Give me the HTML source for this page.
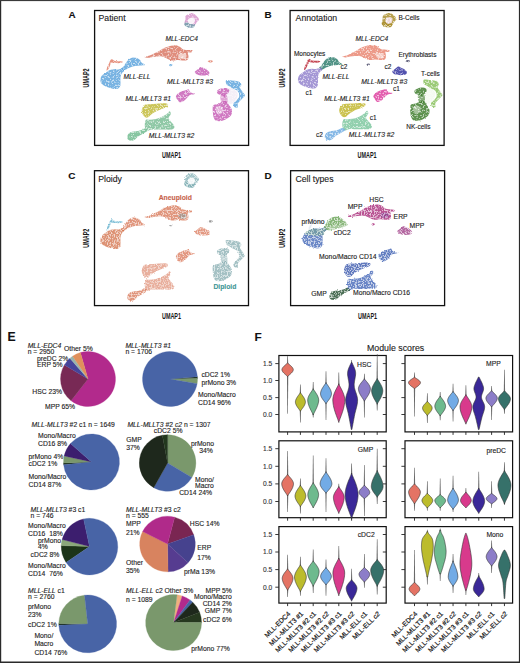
<!DOCTYPE html>
<html><head><meta charset="utf-8"><style>html,body{margin:0;padding:0;background:#fff;}body{width:520px;height:663px;overflow:hidden;}svg{display:block;}</style></head><body>
<svg width="520" height="663" viewBox="0 0 520 663" font-family='"Liberation Sans", sans-serif'>
<rect x="0" y="0" width="520" height="663" fill="#fff"/>
<defs><filter id="speck" x="-10%" y="-10%" width="120%" height="120%" color-interpolation-filters="sRGB">
<feTurbulence type="fractalNoise" baseFrequency="0.6" numOctaves="2" seed="7" result="n"/>
<feDisplacementMap in="SourceGraphic" in2="n" scale="2.0" xChannelSelector="R" yChannelSelector="G" result="d"/>
<feColorMatrix in="n" type="matrix" values="0 0 0 0 1  0 0 0 0 1  0 0 0 0 1  -6 0 0 0 2.95" result="w0"/>
<feComponentTransfer in="w0" result="w"><feFuncA type="table" tableValues="0 0.75"/></feComponentTransfer>
<feComposite in="w" in2="d" operator="in" result="wm"/>
<feMerge><feMergeNode in="d"/><feMergeNode in="wm"/></feMerge>
</filter>
<filter id="speck2" x="-10%" y="-10%" width="120%" height="120%" color-interpolation-filters="sRGB">
<feTurbulence type="fractalNoise" baseFrequency="0.7" numOctaves="2" seed="3" result="n"/>
<feDisplacementMap in="SourceGraphic" in2="n" scale="2.4" xChannelSelector="R" yChannelSelector="G" result="d"/>
<feColorMatrix in="n" type="matrix" values="0 0 0 0 1  0 0 0 0 1  0 0 0 0 1  -6 0 0 0 3.2" result="w0"/>
<feComponentTransfer in="w0" result="w"><feFuncA type="table" tableValues="0 0.85"/></feComponentTransfer>
<feComposite in="w" in2="d" operator="in" result="wm"/>
<feMerge><feMergeNode in="d"/><feMergeNode in="wm"/></feMerge>
</filter></defs>
<path d="M186.00,15.50 C187.25,14.30 190.67,13.13 192.50,13.30 C194.33,13.47 195.92,15.47 197.00,16.50 C198.08,17.53 199.00,18.58 199.00,19.50 C199.00,20.42 197.67,21.08 197.00,22.00 C196.33,22.92 195.75,24.08 195.00,25.00 C194.25,25.92 193.67,27.17 192.50,27.50 C191.33,27.83 189.33,27.50 188.00,27.00 C186.67,26.50 185.00,25.58 184.50,24.50 C184.00,23.42 184.75,22.00 185.00,20.50 C185.25,19.00 184.75,16.70 186.00,15.50Z" fill="#c86cb8" fill-opacity="0.6" filter="url(#speck)"/>
<path d="M184.50,23.00 C185.03,22.50 186.58,22.25 188.00,22.50 C189.42,22.75 191.83,24.25 193.00,24.50 C194.17,24.75 194.92,23.50 195.00,24.00 C195.08,24.50 194.67,26.95 193.50,27.50 C192.33,28.05 189.45,27.63 188.00,27.30 C186.55,26.97 185.38,26.22 184.80,25.50 C184.22,24.78 183.97,23.50 184.50,23.00Z" fill="#5e9ea4" fill-opacity="0.7" filter="url(#speck)"/>
<path d="M188.50,19.00 C189.25,18.33 191.42,17.33 192.50,17.50 C193.58,17.67 194.83,19.00 195.00,20.00 C195.17,21.00 194.42,22.83 193.50,23.50 C192.58,24.17 190.42,24.33 189.50,24.00 C188.58,23.67 188.17,22.33 188.00,21.50 C187.83,20.67 187.75,19.67 188.50,19.00Z" fill="#fff" fill-opacity="0.85"/>
<path d="M144.60,57.00 C144.98,56.58 148.67,55.97 150.40,55.30 C152.13,54.63 153.47,53.77 155.00,53.00 C156.53,52.23 158.25,51.47 159.60,50.70 C160.95,49.93 161.75,49.07 163.10,48.40 C164.45,47.73 166.17,47.18 167.70,46.70 C169.23,46.22 170.77,45.70 172.30,45.50 C173.83,45.30 175.55,45.22 176.90,45.50 C178.25,45.78 179.33,46.53 180.40,47.20 C181.47,47.87 181.95,49.02 183.30,49.50 C184.65,49.98 187.07,49.90 188.50,50.10 C189.93,50.30 191.43,50.32 191.90,50.70 C192.37,51.08 191.97,52.12 191.30,52.40 C190.63,52.68 188.37,51.72 187.90,52.40 C187.43,53.08 188.60,55.25 188.50,56.50 C188.40,57.75 188.27,59.23 187.30,59.90 C186.33,60.57 184.23,60.50 182.70,60.50 C181.17,60.50 179.63,59.90 178.10,59.90 C176.57,59.90 174.85,60.50 173.50,60.50 C172.15,60.50 171.17,60.28 170.00,59.90 C168.83,59.52 167.85,58.77 166.50,58.20 C165.15,57.63 163.43,56.78 161.90,56.50 C160.37,56.22 158.83,56.42 157.30,56.50 C155.77,56.58 154.23,56.78 152.70,57.00 C151.17,57.22 149.45,57.80 148.10,57.80 C146.75,57.80 144.22,57.42 144.60,57.00Z" fill="#d8735f" fill-opacity="0.82" filter="url(#speck)"/>
<path d="M179.00,54.00 C179.92,53.50 182.75,53.25 184.00,53.50 C185.25,53.75 186.33,54.67 186.50,55.50 C186.67,56.33 186.00,58.00 185.00,58.50 C184.00,59.00 181.58,58.83 180.50,58.50 C179.42,58.17 178.75,57.25 178.50,56.50 C178.25,55.75 178.08,54.50 179.00,54.00Z" fill="#fff" fill-opacity="0.6"/>
<path d="M106.50,70.50 C106.33,70.08 107.08,67.67 107.50,66.50 C107.92,65.33 108.50,64.58 109.00,63.50 C109.50,62.42 110.00,60.70 110.50,60.00 C111.00,59.30 111.42,59.22 112.00,59.30 C112.58,59.38 113.33,60.18 114.00,60.50 C114.67,60.82 114.83,61.08 116.00,61.20 C117.17,61.32 119.87,61.07 121.00,61.20 C122.13,61.33 122.80,61.73 122.80,62.00 C122.80,62.27 121.80,62.60 121.00,62.80 C120.20,63.00 119.17,63.20 118.00,63.20 C116.83,63.20 115.08,62.92 114.00,62.80 C112.92,62.68 112.12,62.17 111.50,62.50 C110.88,62.83 110.80,63.72 110.30,64.80 C109.80,65.88 109.13,68.05 108.50,69.00 C107.87,69.95 106.67,70.92 106.50,70.50Z" fill="#e07a64" fill-opacity="0.82" filter="url(#speck)"/>
<path d="M121.50,68.50 C121.67,67.67 123.17,67.08 124.00,66.00 C124.83,64.92 125.58,63.17 126.50,62.00 C127.42,60.83 128.42,59.75 129.50,59.00 C130.58,58.25 131.75,57.67 133.00,57.50 C134.25,57.33 135.83,57.58 137.00,58.00 C138.17,58.42 139.25,59.25 140.00,60.00 C140.75,60.75 140.67,61.67 141.50,62.50 C142.33,63.33 145.25,64.50 145.00,65.00 C144.75,65.50 141.67,65.33 140.00,65.50 C138.33,65.67 136.67,65.67 135.00,66.00 C133.33,66.33 131.67,66.83 130.00,67.50 C128.33,68.17 126.17,69.42 125.00,70.00 C123.83,70.58 123.58,71.25 123.00,71.00 C122.42,70.75 121.33,69.33 121.50,68.50Z" fill="#5aa2dc" fill-opacity="0.82" filter="url(#speck)"/>
<path d="M100.50,79.00 C100.70,77.83 101.08,76.58 102.00,75.50 C102.92,74.42 104.67,73.42 106.00,72.50 C107.33,71.58 108.58,70.55 110.00,70.00 C111.42,69.45 113.08,69.28 114.50,69.20 C115.92,69.12 117.33,69.62 118.50,69.50 C119.67,69.38 120.67,68.75 121.50,68.50 C122.33,68.25 123.00,67.67 123.50,68.00 C124.00,68.33 124.75,69.67 124.50,70.50 C124.25,71.33 122.67,71.92 122.00,73.00 C121.33,74.08 120.75,75.50 120.50,77.00 C120.25,78.50 120.58,80.42 120.50,82.00 C120.42,83.58 120.58,85.33 120.00,86.50 C119.42,87.67 118.33,88.67 117.00,89.00 C115.67,89.33 113.67,88.83 112.00,88.50 C110.33,88.17 108.50,87.58 107.00,87.00 C105.50,86.42 104.03,85.75 103.00,85.00 C101.97,84.25 101.22,83.50 100.80,82.50 C100.38,81.50 100.30,80.17 100.50,79.00Z" fill="#5aa2dc" fill-opacity="0.82" filter="url(#speck)"/>
<path d="M194.80,71.80 C195.05,71.08 196.55,70.30 197.50,69.50 C198.45,68.70 199.58,67.28 200.50,67.00 C201.42,66.72 202.00,67.38 203.00,67.80 C204.00,68.22 205.43,68.72 206.50,69.50 C207.57,70.28 209.15,71.58 209.40,72.50 C209.65,73.42 209.07,74.48 208.00,75.00 C206.93,75.52 204.58,75.60 203.00,75.60 C201.42,75.60 199.67,75.30 198.50,75.00 C197.33,74.70 196.62,74.33 196.00,73.80 C195.38,73.27 194.55,72.52 194.80,71.80Z" fill="#c65cb4" fill-opacity="0.82" filter="url(#speck)"/>
<path d="M176.30,95.60 C176.80,94.78 177.92,93.37 179.00,92.60 C180.08,91.83 181.55,91.45 182.80,91.00 C184.05,90.55 185.52,90.17 186.50,89.90 C187.48,89.63 188.15,89.13 188.70,89.40 C189.25,89.67 189.27,90.92 189.80,91.50 C190.33,92.08 191.05,92.58 191.90,92.90 C192.75,93.22 194.63,93.13 194.90,93.40 C195.17,93.67 194.27,94.27 193.50,94.50 C192.73,94.73 191.18,94.48 190.30,94.80 C189.42,95.12 188.92,95.68 188.20,96.40 C187.48,97.12 186.82,98.30 186.00,99.10 C185.18,99.90 184.20,100.67 183.30,101.20 C182.40,101.73 181.32,102.20 180.60,102.30 C179.88,102.40 179.53,102.25 179.00,101.80 C178.47,101.35 177.90,100.32 177.40,99.60 C176.90,98.88 176.18,98.17 176.00,97.50 C175.82,96.83 175.80,96.42 176.30,95.60Z" fill="#c65cb4" fill-opacity="0.82" filter="url(#speck)"/>
<path d="M226.20,80.20 C227.27,79.53 230.77,80.22 233.00,80.50 C235.23,80.78 238.22,81.15 239.60,81.90 C240.98,82.65 241.23,83.98 241.30,85.00 C241.37,86.02 239.57,86.57 240.00,88.00 C240.43,89.43 243.10,92.30 243.90,93.60 C244.70,94.90 245.08,94.93 244.80,95.80 C244.52,96.67 243.35,97.52 242.20,98.80 C241.05,100.08 238.62,102.07 237.90,103.50 C237.18,104.93 238.48,106.82 237.90,107.40 C237.32,107.98 235.13,107.65 234.40,107.00 C233.67,106.35 233.22,104.50 233.50,103.50 C233.78,102.50 235.15,102.15 236.10,101.00 C237.05,99.85 238.90,98.20 239.20,96.60 C239.50,95.00 238.85,92.70 237.90,91.40 C236.95,90.10 234.95,89.67 233.50,88.80 C232.05,87.93 230.35,86.92 229.20,86.20 C228.05,85.48 227.10,85.50 226.60,84.50 C226.10,83.50 225.13,80.87 226.20,80.20Z" fill="#5aa2dc" fill-opacity="0.82" filter="url(#speck)"/>
<path d="M229.00,88.00 C230.17,87.75 232.58,88.67 234.00,89.50 C235.42,90.33 237.00,91.58 237.50,93.00 C238.00,94.42 237.58,96.42 237.00,98.00 C236.42,99.58 235.17,101.50 234.00,102.50 C232.83,103.50 231.33,104.25 230.00,104.00 C228.67,103.75 226.75,102.33 226.00,101.00 C225.25,99.67 225.33,97.67 225.50,96.00 C225.67,94.33 226.42,92.33 227.00,91.00 C227.58,89.67 227.83,88.25 229.00,88.00Z" fill="#ece4f2" fill-opacity="0.6" filter="url(#speck)"/>
<path d="M217.10,91.00 C217.53,90.20 218.65,89.30 220.10,88.80 C221.55,88.30 224.28,87.78 225.80,88.00 C227.32,88.22 228.85,89.17 229.20,90.10 C229.55,91.03 228.55,92.80 227.90,93.60 C227.25,94.40 225.80,94.18 225.30,94.90 C224.80,95.62 225.25,97.75 224.90,97.90 C224.55,98.05 224.00,96.30 223.20,95.80 C222.40,95.30 221.05,95.27 220.10,94.90 C219.15,94.53 218.00,94.25 217.50,93.60 C217.00,92.95 216.67,91.80 217.10,91.00Z" fill="#c65cb4" fill-opacity="0.82" filter="url(#speck)"/>
<path d="M221.00,95.00 C221.92,94.25 224.92,93.83 226.00,94.50 C227.08,95.17 227.42,97.58 227.50,99.00 C227.58,100.42 227.42,102.33 226.50,103.00 C225.58,103.67 223.00,103.67 222.00,103.00 C221.00,102.33 220.67,100.33 220.50,99.00 C220.33,97.67 220.08,95.75 221.00,95.00Z" fill="#c65cb4" fill-opacity="0.55" filter="url(#speck)"/>
<path d="M213.20,105.30 C214.07,104.08 216.48,104.58 218.00,104.00 C219.52,103.42 221.00,102.30 222.30,101.80 C223.60,101.30 224.65,100.42 225.80,101.00 C226.95,101.58 228.20,103.87 229.20,105.30 C230.20,106.73 231.43,108.02 231.80,109.60 C232.17,111.18 232.12,113.35 231.40,114.80 C230.68,116.25 229.02,117.30 227.50,118.30 C225.98,119.30 224.18,120.38 222.30,120.80 C220.42,121.22 217.63,121.37 216.20,120.80 C214.77,120.23 214.27,118.98 213.70,117.40 C213.13,115.82 212.88,113.32 212.80,111.30 C212.72,109.28 212.33,106.52 213.20,105.30Z" fill="#c65cb4" fill-opacity="0.82" filter="url(#speck)"/>
<path d="M215.50,108.00 C215.83,106.67 218.25,105.92 219.50,106.00 C220.75,106.08 222.58,107.33 223.00,108.50 C223.42,109.67 222.92,112.08 222.00,113.00 C221.08,113.92 218.58,114.83 217.50,114.00 C216.42,113.17 215.17,109.33 215.50,108.00Z" fill="#f4e8f2" fill-opacity="0.55" filter="url(#speck)"/>
<path d="M142.50,107.70 C143.02,106.73 143.55,105.38 144.80,104.80 C146.05,104.22 147.98,104.38 150.00,104.20 C152.02,104.02 154.60,103.85 156.90,103.70 C159.20,103.55 161.97,103.22 163.80,103.30 C165.63,103.38 167.32,103.67 167.90,104.20 C168.48,104.73 167.98,105.82 167.30,106.50 C166.62,107.18 165.15,107.72 163.80,108.30 C162.45,108.88 160.73,109.33 159.20,110.00 C157.67,110.67 155.93,111.53 154.60,112.30 C153.27,113.07 152.35,113.73 151.20,114.60 C150.05,115.47 148.77,117.12 147.70,117.50 C146.63,117.88 145.67,117.48 144.80,116.90 C143.93,116.32 143.02,115.05 142.50,114.00 C141.98,112.95 141.70,111.65 141.70,110.60 C141.70,109.55 141.98,108.67 142.50,107.70Z" fill="#c0b834" fill-opacity="0.82" filter="url(#speck)"/>
<path d="M146.00,119.80 C146.87,119.03 148.57,119.90 150.00,119.80 C151.43,119.70 153.07,119.48 154.60,119.20 C156.13,118.92 157.67,118.67 159.20,118.10 C160.73,117.53 162.45,116.57 163.80,115.80 C165.15,115.03 166.33,114.27 167.30,113.50 C168.27,112.73 169.02,111.12 169.60,111.20 C170.18,111.28 170.98,112.85 170.80,114.00 C170.62,115.15 168.50,116.85 168.50,118.10 C168.50,119.35 169.93,120.35 170.80,121.50 C171.67,122.65 173.13,123.93 173.70,125.00 C174.27,126.07 174.68,127.13 174.20,127.90 C173.72,128.67 172.53,129.32 170.80,129.60 C169.07,129.88 166.12,129.60 163.80,129.60 C161.48,129.60 159.00,129.60 156.90,129.60 C154.80,129.60 152.73,129.40 151.20,129.60 C149.67,129.80 148.67,130.98 147.70,130.80 C146.73,130.62 145.88,129.57 145.40,128.50 C144.92,127.43 144.70,125.85 144.80,124.40 C144.90,122.95 145.13,120.57 146.00,119.80Z" fill="#76bc92" fill-opacity="0.82" filter="url(#speck)"/>
<path d="M147.70,130.50 C147.73,131.17 146.03,131.83 145.00,132.50 C143.97,133.17 142.67,133.83 141.50,134.50 C140.33,135.17 139.08,135.67 138.00,136.50 C136.92,137.33 136.08,138.78 135.00,139.50 C133.92,140.22 132.58,140.72 131.50,140.80 C130.42,140.88 129.20,140.55 128.50,140.00 C127.80,139.45 127.38,138.42 127.30,137.50 C127.22,136.58 127.47,135.37 128.00,134.50 C128.53,133.63 129.50,132.83 130.50,132.30 C131.50,131.77 132.75,131.52 134.00,131.30 C135.25,131.08 136.75,131.22 138.00,131.00 C139.25,130.78 140.37,130.42 141.50,130.00 C142.63,129.58 143.77,128.42 144.80,128.50 C145.83,128.58 147.67,129.83 147.70,130.50Z" fill="#6cba8c" fill-opacity="0.82" filter="url(#speck)"/>
<path d="M207.80,61.50 C207.63,61.12 209.17,60.38 210.00,60.30 C210.83,60.22 212.63,60.62 212.80,61.00 C212.97,61.38 211.83,62.52 211.00,62.60 C210.17,62.68 207.97,61.88 207.80,61.50Z" fill="#e07a64" fill-opacity="0.82" filter="url(#speck)"/>
<path d="M169.00,65.00 C169.08,64.62 170.42,64.00 171.00,64.00 C171.58,64.00 172.58,64.62 172.50,65.00 C172.42,65.38 171.08,66.30 170.50,66.30 C169.92,66.30 168.92,65.38 169.00,65.00Z" fill="#5aa2dc" fill-opacity="0.82" filter="url(#speck)"/>
<rect x="94.60" y="10.50" width="154.00" height="134.90" fill="none" stroke="#111" stroke-width="1.3"/>
<path d="M383.50,15.10 C384.75,13.90 388.17,12.73 390.00,12.90 C391.83,13.07 393.42,15.07 394.50,16.10 C395.58,17.13 396.50,18.18 396.50,19.10 C396.50,20.02 395.17,20.68 394.50,21.60 C393.83,22.52 393.25,23.68 392.50,24.60 C391.75,25.52 391.17,26.77 390.00,27.10 C388.83,27.43 386.83,27.10 385.50,26.60 C384.17,26.10 382.50,25.18 382.00,24.10 C381.50,23.02 382.25,21.60 382.50,20.10 C382.75,18.60 382.25,16.30 383.50,15.10Z" fill="#a88c28" fill-opacity="0.82" filter="url(#speck)"/>
<path d="M382.00,22.60 C382.53,22.10 384.08,21.85 385.50,22.10 C386.92,22.35 389.33,23.85 390.50,24.10 C391.67,24.35 392.42,23.10 392.50,23.60 C392.58,24.10 392.17,26.55 391.00,27.10 C389.83,27.65 386.95,27.23 385.50,26.90 C384.05,26.57 382.88,25.82 382.30,25.10 C381.72,24.38 381.47,23.10 382.00,22.60Z" fill="#a88c28" fill-opacity="0.82" filter="url(#speck)"/>
<path d="M386.00,18.60 C386.75,17.93 388.92,16.93 390.00,17.10 C391.08,17.27 392.33,18.60 392.50,19.60 C392.67,20.60 391.92,22.43 391.00,23.10 C390.08,23.77 387.92,23.93 387.00,23.60 C386.08,23.27 385.67,21.93 385.50,21.10 C385.33,20.27 385.25,19.27 386.00,18.60Z" fill="#f4e0e8" fill-opacity="0.9" filter="url(#speck)"/>
<path d="M342.10,56.60 C342.48,56.18 346.17,55.57 347.90,54.90 C349.63,54.23 350.97,53.37 352.50,52.60 C354.03,51.83 355.75,51.07 357.10,50.30 C358.45,49.53 359.25,48.67 360.60,48.00 C361.95,47.33 363.67,46.78 365.20,46.30 C366.73,45.82 368.27,45.30 369.80,45.10 C371.33,44.90 373.05,44.82 374.40,45.10 C375.75,45.38 376.83,46.13 377.90,46.80 C378.97,47.47 379.45,48.62 380.80,49.10 C382.15,49.58 384.57,49.50 386.00,49.70 C387.43,49.90 388.93,49.92 389.40,50.30 C389.87,50.68 389.47,51.72 388.80,52.00 C388.13,52.28 385.87,51.32 385.40,52.00 C384.93,52.68 386.10,54.85 386.00,56.10 C385.90,57.35 385.77,58.83 384.80,59.50 C383.83,60.17 381.73,60.10 380.20,60.10 C378.67,60.10 377.13,59.50 375.60,59.50 C374.07,59.50 372.35,60.10 371.00,60.10 C369.65,60.10 368.67,59.88 367.50,59.50 C366.33,59.12 365.35,58.37 364.00,57.80 C362.65,57.23 360.93,56.38 359.40,56.10 C357.87,55.82 356.33,56.02 354.80,56.10 C353.27,56.18 351.73,56.38 350.20,56.60 C348.67,56.82 346.95,57.40 345.60,57.40 C344.25,57.40 341.72,57.02 342.10,56.60Z" fill="#e8826e" fill-opacity="0.82" filter="url(#speck)"/>
<path d="M376.50,53.60 C377.42,53.10 380.25,52.85 381.50,53.10 C382.75,53.35 383.83,54.27 384.00,55.10 C384.17,55.93 383.50,57.60 382.50,58.10 C381.50,58.60 379.08,58.43 378.00,58.10 C376.92,57.77 376.25,56.85 376.00,56.10 C375.75,55.35 375.58,54.10 376.50,53.60Z" fill="#fff" fill-opacity="0.5"/>
<path d="M304.00,70.10 C303.83,69.68 304.58,67.27 305.00,66.10 C305.42,64.93 306.00,64.18 306.50,63.10 C307.00,62.02 307.50,60.30 308.00,59.60 C308.50,58.90 308.92,58.82 309.50,58.90 C310.08,58.98 310.83,59.78 311.50,60.10 C312.17,60.42 312.33,60.68 313.50,60.80 C314.67,60.92 317.37,60.67 318.50,60.80 C319.63,60.93 320.30,61.33 320.30,61.60 C320.30,61.87 319.30,62.20 318.50,62.40 C317.70,62.60 316.67,62.80 315.50,62.80 C314.33,62.80 312.58,62.52 311.50,62.40 C310.42,62.28 309.62,61.77 309.00,62.10 C308.38,62.43 308.30,63.32 307.80,64.40 C307.30,65.48 306.63,67.65 306.00,68.60 C305.37,69.55 304.17,70.52 304.00,70.10Z" fill="#b82030" fill-opacity="0.82" filter="url(#speck)"/>
<path d="M319.00,68.10 C319.17,67.27 320.67,66.68 321.50,65.60 C322.33,64.52 323.08,62.77 324.00,61.60 C324.92,60.43 325.92,59.35 327.00,58.60 C328.08,57.85 329.25,57.27 330.50,57.10 C331.75,56.93 333.33,57.18 334.50,57.60 C335.67,58.02 336.75,58.85 337.50,59.60 C338.25,60.35 338.17,61.27 339.00,62.10 C339.83,62.93 342.75,64.10 342.50,64.60 C342.25,65.10 339.17,64.93 337.50,65.10 C335.83,65.27 334.17,65.27 332.50,65.60 C330.83,65.93 329.17,66.43 327.50,67.10 C325.83,67.77 323.67,69.02 322.50,69.60 C321.33,70.18 321.08,70.85 320.50,70.60 C319.92,70.35 318.83,68.93 319.00,68.10Z" fill="#2a7a6a" fill-opacity="0.82" filter="url(#speck)"/>
<path d="M298.00,78.60 C298.20,77.43 298.58,76.18 299.50,75.10 C300.42,74.02 302.17,73.02 303.50,72.10 C304.83,71.18 306.08,70.15 307.50,69.60 C308.92,69.05 310.58,68.88 312.00,68.80 C313.42,68.72 314.83,69.22 316.00,69.10 C317.17,68.98 318.17,68.35 319.00,68.10 C319.83,67.85 320.50,67.27 321.00,67.60 C321.50,67.93 322.25,69.27 322.00,70.10 C321.75,70.93 320.17,71.52 319.50,72.60 C318.83,73.68 318.25,75.10 318.00,76.60 C317.75,78.10 318.08,80.02 318.00,81.60 C317.92,83.18 318.08,84.93 317.50,86.10 C316.92,87.27 315.83,88.27 314.50,88.60 C313.17,88.93 311.17,88.43 309.50,88.10 C307.83,87.77 306.00,87.18 304.50,86.60 C303.00,86.02 301.53,85.35 300.50,84.60 C299.47,83.85 298.72,83.10 298.30,82.10 C297.88,81.10 297.80,79.77 298.00,78.60Z" fill="#9080cc" fill-opacity="0.82" filter="url(#speck)"/>
<path d="M392.30,71.40 C392.55,70.68 394.05,69.90 395.00,69.10 C395.95,68.30 397.08,66.88 398.00,66.60 C398.92,66.32 399.50,66.98 400.50,67.40 C401.50,67.82 402.93,68.32 404.00,69.10 C405.07,69.88 406.65,71.18 406.90,72.10 C407.15,73.02 406.57,74.08 405.50,74.60 C404.43,75.12 402.08,75.20 400.50,75.20 C398.92,75.20 397.17,74.90 396.00,74.60 C394.83,74.30 394.12,73.93 393.50,73.40 C392.88,72.87 392.05,72.12 392.30,71.40Z" fill="#2c2c9c" fill-opacity="0.82" filter="url(#speck)"/>
<path d="M373.80,95.20 C374.30,94.38 375.42,92.97 376.50,92.20 C377.58,91.43 379.05,91.05 380.30,90.60 C381.55,90.15 383.02,89.77 384.00,89.50 C384.98,89.23 385.65,88.73 386.20,89.00 C386.75,89.27 386.77,90.52 387.30,91.10 C387.83,91.68 388.55,92.18 389.40,92.50 C390.25,92.82 392.13,92.73 392.40,93.00 C392.67,93.27 391.77,93.87 391.00,94.10 C390.23,94.33 388.68,94.08 387.80,94.40 C386.92,94.72 386.42,95.28 385.70,96.00 C384.98,96.72 384.32,97.90 383.50,98.70 C382.68,99.50 381.70,100.27 380.80,100.80 C379.90,101.33 378.82,101.80 378.10,101.90 C377.38,102.00 377.03,101.85 376.50,101.40 C375.97,100.95 375.40,99.92 374.90,99.20 C374.40,98.48 373.68,97.77 373.50,97.10 C373.32,96.43 373.30,96.02 373.80,95.20Z" fill="#dd3a9c" fill-opacity="0.82" filter="url(#speck)"/>
<path d="M423.70,79.80 C424.77,79.13 428.27,79.82 430.50,80.10 C432.73,80.38 435.72,80.75 437.10,81.50 C438.48,82.25 438.73,83.58 438.80,84.60 C438.87,85.62 437.07,86.17 437.50,87.60 C437.93,89.03 440.60,91.90 441.40,93.20 C442.20,94.50 442.58,94.53 442.30,95.40 C442.02,96.27 440.85,97.12 439.70,98.40 C438.55,99.68 436.12,101.67 435.40,103.10 C434.68,104.53 435.98,106.42 435.40,107.00 C434.82,107.58 432.63,107.25 431.90,106.60 C431.17,105.95 430.72,104.10 431.00,103.10 C431.28,102.10 432.65,101.75 433.60,100.60 C434.55,99.45 436.40,97.80 436.70,96.20 C437.00,94.60 436.35,92.30 435.40,91.00 C434.45,89.70 432.45,89.27 431.00,88.40 C429.55,87.53 427.85,86.52 426.70,85.80 C425.55,85.08 424.60,85.10 424.10,84.10 C423.60,83.10 422.63,80.47 423.70,79.80Z" fill="#86c05a" fill-opacity="0.82" filter="url(#speck)"/>
<path d="M426.50,87.60 C427.67,87.35 430.08,88.27 431.50,89.10 C432.92,89.93 434.50,91.18 435.00,92.60 C435.50,94.02 435.08,96.02 434.50,97.60 C433.92,99.18 432.67,101.10 431.50,102.10 C430.33,103.10 428.83,103.85 427.50,103.60 C426.17,103.35 424.25,101.93 423.50,100.60 C422.75,99.27 422.83,97.27 423.00,95.60 C423.17,93.93 423.92,91.93 424.50,90.60 C425.08,89.27 425.33,87.85 426.50,87.60Z" fill="#eef6e8" fill-opacity="0.6" filter="url(#speck)"/>
<path d="M414.60,90.60 C415.03,89.80 416.15,88.90 417.60,88.40 C419.05,87.90 421.78,87.38 423.30,87.60 C424.82,87.82 426.35,88.77 426.70,89.70 C427.05,90.63 426.05,92.40 425.40,93.20 C424.75,94.00 423.30,93.78 422.80,94.50 C422.30,95.22 422.75,97.35 422.40,97.50 C422.05,97.65 421.50,95.90 420.70,95.40 C419.90,94.90 418.55,94.87 417.60,94.50 C416.65,94.13 415.50,93.85 415.00,93.20 C414.50,92.55 414.17,91.40 414.60,90.60Z" fill="#3a7a28" fill-opacity="0.82" filter="url(#speck)"/>
<path d="M418.50,94.60 C419.42,93.85 422.42,93.43 423.50,94.10 C424.58,94.77 424.92,97.18 425.00,98.60 C425.08,100.02 424.92,101.93 424.00,102.60 C423.08,103.27 420.50,103.27 419.50,102.60 C418.50,101.93 418.17,99.93 418.00,98.60 C417.83,97.27 417.58,95.35 418.50,94.60Z" fill="#3a7a28" fill-opacity="0.6" filter="url(#speck)"/>
<path d="M410.70,104.90 C411.57,103.68 413.98,104.18 415.50,103.60 C417.02,103.02 418.50,101.90 419.80,101.40 C421.10,100.90 422.15,100.02 423.30,100.60 C424.45,101.18 425.70,103.47 426.70,104.90 C427.70,106.33 428.93,107.62 429.30,109.20 C429.67,110.78 429.62,112.95 428.90,114.40 C428.18,115.85 426.52,116.90 425.00,117.90 C423.48,118.90 421.68,119.98 419.80,120.40 C417.92,120.82 415.13,120.97 413.70,120.40 C412.27,119.83 411.77,118.58 411.20,117.00 C410.63,115.42 410.38,112.92 410.30,110.90 C410.22,108.88 409.83,106.12 410.70,104.90Z" fill="#3a7a28" fill-opacity="0.82" filter="url(#speck)"/>
<path d="M413.00,107.60 C413.33,106.27 415.75,105.52 417.00,105.60 C418.25,105.68 420.08,106.93 420.50,108.10 C420.92,109.27 420.42,111.68 419.50,112.60 C418.58,113.52 416.08,114.43 415.00,113.60 C413.92,112.77 412.67,108.93 413.00,107.60Z" fill="#eef4ea" fill-opacity="0.5" filter="url(#speck)"/>
<path d="M340.00,107.30 C340.52,106.33 341.05,104.98 342.30,104.40 C343.55,103.82 345.48,103.98 347.50,103.80 C349.52,103.62 352.10,103.45 354.40,103.30 C356.70,103.15 359.47,102.82 361.30,102.90 C363.13,102.98 364.82,103.27 365.40,103.80 C365.98,104.33 365.48,105.42 364.80,106.10 C364.12,106.78 362.65,107.32 361.30,107.90 C359.95,108.48 358.23,108.93 356.70,109.60 C355.17,110.27 353.43,111.13 352.10,111.90 C350.77,112.67 349.85,113.33 348.70,114.20 C347.55,115.07 346.27,116.72 345.20,117.10 C344.13,117.48 343.17,117.08 342.30,116.50 C341.43,115.92 340.52,114.65 340.00,113.60 C339.48,112.55 339.20,111.25 339.20,110.20 C339.20,109.15 339.48,108.27 340.00,107.30Z" fill="#c0b428" fill-opacity="0.82" filter="url(#speck)"/>
<path d="M343.50,119.40 C344.37,118.63 346.07,119.50 347.50,119.40 C348.93,119.30 350.57,119.08 352.10,118.80 C353.63,118.52 355.17,118.27 356.70,117.70 C358.23,117.13 359.95,116.17 361.30,115.40 C362.65,114.63 363.83,113.87 364.80,113.10 C365.77,112.33 366.52,110.72 367.10,110.80 C367.68,110.88 368.48,112.45 368.30,113.60 C368.12,114.75 366.00,116.45 366.00,117.70 C366.00,118.95 367.43,119.95 368.30,121.10 C369.17,122.25 370.63,123.53 371.20,124.60 C371.77,125.67 372.18,126.73 371.70,127.50 C371.22,128.27 370.03,128.92 368.30,129.20 C366.57,129.48 363.62,129.20 361.30,129.20 C358.98,129.20 356.50,129.20 354.40,129.20 C352.30,129.20 350.23,129.00 348.70,129.20 C347.17,129.40 346.17,130.58 345.20,130.40 C344.23,130.22 343.38,129.17 342.90,128.10 C342.42,127.03 342.20,125.45 342.30,124.00 C342.40,122.55 342.63,120.17 343.50,119.40Z" fill="#7ac69c" fill-opacity="0.82" filter="url(#speck)"/>
<path d="M345.20,130.10 C345.23,130.77 343.53,131.43 342.50,132.10 C341.47,132.77 340.17,133.43 339.00,134.10 C337.83,134.77 336.58,135.27 335.50,136.10 C334.42,136.93 333.58,138.38 332.50,139.10 C331.42,139.82 330.08,140.32 329.00,140.40 C327.92,140.48 326.70,140.15 326.00,139.60 C325.30,139.05 324.88,138.02 324.80,137.10 C324.72,136.18 324.97,134.97 325.50,134.10 C326.03,133.23 327.00,132.43 328.00,131.90 C329.00,131.37 330.25,131.12 331.50,130.90 C332.75,130.68 334.25,130.82 335.50,130.60 C336.75,130.38 337.87,130.02 339.00,129.60 C340.13,129.18 341.27,128.02 342.30,128.10 C343.33,128.18 345.17,129.43 345.20,130.10Z" fill="#6aa8e0" fill-opacity="0.82" filter="url(#speck)"/>
<path d="M405.30,61.10 C405.13,60.72 406.67,59.98 407.50,59.90 C408.33,59.82 410.13,60.22 410.30,60.60 C410.47,60.98 409.33,62.12 408.50,62.20 C407.67,62.28 405.47,61.48 405.30,61.10Z" fill="#404060" fill-opacity="0.82" filter="url(#speck)"/>
<path d="M366.50,64.60 C366.58,64.22 367.92,63.60 368.50,63.60 C369.08,63.60 370.08,64.22 370.00,64.60 C369.92,64.98 368.58,65.90 368.00,65.90 C367.42,65.90 366.42,64.98 366.50,64.60Z" fill="#404060" fill-opacity="0.82" filter="url(#speck)"/>
<rect x="290.10" y="10.50" width="154.00" height="134.90" fill="none" stroke="#111" stroke-width="1.3"/>
<path d="M186.00,175.50 C187.25,174.30 190.67,173.13 192.50,173.30 C194.33,173.47 195.92,175.47 197.00,176.50 C198.08,177.53 199.00,178.58 199.00,179.50 C199.00,180.42 197.67,181.08 197.00,182.00 C196.33,182.92 195.75,184.08 195.00,185.00 C194.25,185.92 193.67,187.17 192.50,187.50 C191.33,187.83 189.33,187.50 188.00,187.00 C186.67,186.50 185.00,185.58 184.50,184.50 C184.00,183.42 184.75,182.00 185.00,180.50 C185.25,179.00 184.75,176.70 186.00,175.50Z" fill="#7aaab0" fill-opacity="0.72" filter="url(#speck2)"/>
<path d="M184.50,183.00 C185.03,182.50 186.58,182.25 188.00,182.50 C189.42,182.75 191.83,184.25 193.00,184.50 C194.17,184.75 194.92,183.50 195.00,184.00 C195.08,184.50 194.67,186.95 193.50,187.50 C192.33,188.05 189.45,187.63 188.00,187.30 C186.55,186.97 185.38,186.22 184.80,185.50 C184.22,184.78 183.97,183.50 184.50,183.00Z" fill="#7aaab0" fill-opacity="0.72" filter="url(#speck2)"/>
<path d="M188.50,179.00 C189.25,178.33 191.42,177.33 192.50,177.50 C193.58,177.67 194.83,179.00 195.00,180.00 C195.17,181.00 194.42,182.83 193.50,183.50 C192.58,184.17 190.42,184.33 189.50,184.00 C188.58,183.67 188.17,182.33 188.00,181.50 C187.83,180.67 187.75,179.67 188.50,179.00Z" fill="#fff" fill-opacity="0.85"/>
<path d="M144.60,217.00 C144.98,216.58 148.67,215.97 150.40,215.30 C152.13,214.63 153.47,213.77 155.00,213.00 C156.53,212.23 158.25,211.47 159.60,210.70 C160.95,209.93 161.75,209.07 163.10,208.40 C164.45,207.73 166.17,207.18 167.70,206.70 C169.23,206.22 170.77,205.70 172.30,205.50 C173.83,205.30 175.55,205.22 176.90,205.50 C178.25,205.78 179.33,206.53 180.40,207.20 C181.47,207.87 181.95,209.02 183.30,209.50 C184.65,209.98 187.07,209.90 188.50,210.10 C189.93,210.30 191.43,210.32 191.90,210.70 C192.37,211.08 191.97,212.12 191.30,212.40 C190.63,212.68 188.37,211.72 187.90,212.40 C187.43,213.08 188.60,215.25 188.50,216.50 C188.40,217.75 188.27,219.23 187.30,219.90 C186.33,220.57 184.23,220.50 182.70,220.50 C181.17,220.50 179.63,219.90 178.10,219.90 C176.57,219.90 174.85,220.50 173.50,220.50 C172.15,220.50 171.17,220.28 170.00,219.90 C168.83,219.52 167.85,218.77 166.50,218.20 C165.15,217.63 163.43,216.78 161.90,216.50 C160.37,216.22 158.83,216.42 157.30,216.50 C155.77,216.58 154.23,216.78 152.70,217.00 C151.17,217.22 149.45,217.80 148.10,217.80 C146.75,217.80 144.22,217.42 144.60,217.00Z" fill="#d46c4a" fill-opacity="0.72" filter="url(#speck2)"/>
<path d="M179.00,214.00 C179.92,213.50 182.75,213.25 184.00,213.50 C185.25,213.75 186.33,214.67 186.50,215.50 C186.67,216.33 186.00,218.00 185.00,218.50 C184.00,219.00 181.58,218.83 180.50,218.50 C179.42,218.17 178.75,217.25 178.50,216.50 C178.25,215.75 178.08,214.50 179.00,214.00Z" fill="#8a9a9a" fill-opacity="0.6" filter="url(#speck2)"/>
<path d="M106.50,230.50 C106.33,230.08 107.08,227.67 107.50,226.50 C107.92,225.33 108.50,224.58 109.00,223.50 C109.50,222.42 110.00,220.70 110.50,220.00 C111.00,219.30 111.42,219.22 112.00,219.30 C112.58,219.38 113.33,220.18 114.00,220.50 C114.67,220.82 114.83,221.08 116.00,221.20 C117.17,221.32 119.87,221.07 121.00,221.20 C122.13,221.33 122.80,221.73 122.80,222.00 C122.80,222.27 121.80,222.60 121.00,222.80 C120.20,223.00 119.17,223.20 118.00,223.20 C116.83,223.20 115.08,222.92 114.00,222.80 C112.92,222.68 112.12,222.17 111.50,222.50 C110.88,222.83 110.80,223.72 110.30,224.80 C109.80,225.88 109.13,228.05 108.50,229.00 C107.87,229.95 106.67,230.92 106.50,230.50Z" fill="#50a8c8" fill-opacity="0.72" filter="url(#speck2)"/>
<path d="M121.50,228.50 C121.67,227.67 123.17,227.08 124.00,226.00 C124.83,224.92 125.58,223.17 126.50,222.00 C127.42,220.83 128.42,219.75 129.50,219.00 C130.58,218.25 131.75,217.67 133.00,217.50 C134.25,217.33 135.83,217.58 137.00,218.00 C138.17,218.42 139.25,219.25 140.00,220.00 C140.75,220.75 140.67,221.67 141.50,222.50 C142.33,223.33 145.25,224.50 145.00,225.00 C144.75,225.50 141.67,225.33 140.00,225.50 C138.33,225.67 136.67,225.67 135.00,226.00 C133.33,226.33 131.67,226.83 130.00,227.50 C128.33,228.17 126.17,229.42 125.00,230.00 C123.83,230.58 123.58,231.25 123.00,231.00 C122.42,230.75 121.33,229.33 121.50,228.50Z" fill="#d46c4a" fill-opacity="0.72" filter="url(#speck2)"/>
<path d="M100.50,239.00 C100.70,237.83 101.08,236.58 102.00,235.50 C102.92,234.42 104.67,233.42 106.00,232.50 C107.33,231.58 108.58,230.55 110.00,230.00 C111.42,229.45 113.08,229.28 114.50,229.20 C115.92,229.12 117.33,229.62 118.50,229.50 C119.67,229.38 120.67,228.75 121.50,228.50 C122.33,228.25 123.00,227.67 123.50,228.00 C124.00,228.33 124.75,229.67 124.50,230.50 C124.25,231.33 122.67,231.92 122.00,233.00 C121.33,234.08 120.75,235.50 120.50,237.00 C120.25,238.50 120.58,240.42 120.50,242.00 C120.42,243.58 120.58,245.33 120.00,246.50 C119.42,247.67 118.33,248.67 117.00,249.00 C115.67,249.33 113.67,248.83 112.00,248.50 C110.33,248.17 108.50,247.58 107.00,247.00 C105.50,246.42 104.03,245.75 103.00,245.00 C101.97,244.25 101.22,243.50 100.80,242.50 C100.38,241.50 100.30,240.17 100.50,239.00Z" fill="#d0683f" fill-opacity="0.72" filter="url(#speck2)"/>
<path d="M194.80,231.80 C195.05,231.08 196.55,230.30 197.50,229.50 C198.45,228.70 199.58,227.28 200.50,227.00 C201.42,226.72 202.00,227.38 203.00,227.80 C204.00,228.22 205.43,228.72 206.50,229.50 C207.57,230.28 209.15,231.58 209.40,232.50 C209.65,233.42 209.07,234.48 208.00,235.00 C206.93,235.52 204.58,235.60 203.00,235.60 C201.42,235.60 199.67,235.30 198.50,235.00 C197.33,234.70 196.62,234.33 196.00,233.80 C195.38,233.27 194.55,232.52 194.80,231.80Z" fill="#d87050" fill-opacity="0.72" filter="url(#speck2)"/>
<path d="M176.30,255.60 C176.80,254.78 177.92,253.37 179.00,252.60 C180.08,251.83 181.55,251.45 182.80,251.00 C184.05,250.55 185.52,250.17 186.50,249.90 C187.48,249.63 188.15,249.13 188.70,249.40 C189.25,249.67 189.27,250.92 189.80,251.50 C190.33,252.08 191.05,252.58 191.90,252.90 C192.75,253.22 194.63,253.13 194.90,253.40 C195.17,253.67 194.27,254.27 193.50,254.50 C192.73,254.73 191.18,254.48 190.30,254.80 C189.42,255.12 188.92,255.68 188.20,256.40 C187.48,257.12 186.82,258.30 186.00,259.10 C185.18,259.90 184.20,260.67 183.30,261.20 C182.40,261.73 181.32,262.20 180.60,262.30 C179.88,262.40 179.53,262.25 179.00,261.80 C178.47,261.35 177.90,260.32 177.40,259.60 C176.90,258.88 176.18,258.17 176.00,257.50 C175.82,256.83 175.80,256.42 176.30,255.60Z" fill="#d87050" fill-opacity="0.72" filter="url(#speck2)"/>
<path d="M226.20,240.20 C227.27,239.53 230.77,240.22 233.00,240.50 C235.23,240.78 238.22,241.15 239.60,241.90 C240.98,242.65 241.23,243.98 241.30,245.00 C241.37,246.02 239.57,246.57 240.00,248.00 C240.43,249.43 243.10,252.30 243.90,253.60 C244.70,254.90 245.08,254.93 244.80,255.80 C244.52,256.67 243.35,257.52 242.20,258.80 C241.05,260.08 238.62,262.07 237.90,263.50 C237.18,264.93 238.48,266.82 237.90,267.40 C237.32,267.98 235.13,267.65 234.40,267.00 C233.67,266.35 233.22,264.50 233.50,263.50 C233.78,262.50 235.15,262.15 236.10,261.00 C237.05,259.85 238.90,258.20 239.20,256.60 C239.50,255.00 238.85,252.70 237.90,251.40 C236.95,250.10 234.95,249.67 233.50,248.80 C232.05,247.93 230.35,246.92 229.20,246.20 C228.05,245.48 227.10,245.50 226.60,244.50 C226.10,243.50 225.13,240.87 226.20,240.20Z" fill="#80a8ac" fill-opacity="0.72" filter="url(#speck2)"/>
<path d="M217.10,251.00 C217.53,250.20 218.65,249.30 220.10,248.80 C221.55,248.30 224.28,247.78 225.80,248.00 C227.32,248.22 228.85,249.17 229.20,250.10 C229.55,251.03 228.55,252.80 227.90,253.60 C227.25,254.40 225.80,254.18 225.30,254.90 C224.80,255.62 225.25,257.75 224.90,257.90 C224.55,258.05 224.00,256.30 223.20,255.80 C222.40,255.30 221.05,255.27 220.10,254.90 C219.15,254.53 218.00,254.25 217.50,253.60 C217.00,252.95 216.67,251.80 217.10,251.00Z" fill="#80a8ac" fill-opacity="0.72" filter="url(#speck2)"/>
<path d="M221.00,255.00 C221.92,254.25 224.92,253.83 226.00,254.50 C227.08,255.17 227.42,257.58 227.50,259.00 C227.58,260.42 227.42,262.33 226.50,263.00 C225.58,263.67 223.00,263.67 222.00,263.00 C221.00,262.33 220.67,260.33 220.50,259.00 C220.33,257.67 220.08,255.75 221.00,255.00Z" fill="#80a8ac" fill-opacity="0.5" filter="url(#speck2)"/>
<path d="M213.20,265.30 C214.07,264.08 216.48,264.58 218.00,264.00 C219.52,263.42 221.00,262.30 222.30,261.80 C223.60,261.30 224.65,260.42 225.80,261.00 C226.95,261.58 228.20,263.87 229.20,265.30 C230.20,266.73 231.43,268.02 231.80,269.60 C232.17,271.18 232.12,273.35 231.40,274.80 C230.68,276.25 229.02,277.30 227.50,278.30 C225.98,279.30 224.18,280.38 222.30,280.80 C220.42,281.22 217.63,281.37 216.20,280.80 C214.77,280.23 214.27,278.98 213.70,277.40 C213.13,275.82 212.88,273.32 212.80,271.30 C212.72,269.28 212.33,266.52 213.20,265.30Z" fill="#80a8ac" fill-opacity="0.72" filter="url(#speck2)"/>
<path d="M142.50,267.70 C143.02,266.73 143.55,265.38 144.80,264.80 C146.05,264.22 147.98,264.38 150.00,264.20 C152.02,264.02 154.60,263.85 156.90,263.70 C159.20,263.55 161.97,263.22 163.80,263.30 C165.63,263.38 167.32,263.67 167.90,264.20 C168.48,264.73 167.98,265.82 167.30,266.50 C166.62,267.18 165.15,267.72 163.80,268.30 C162.45,268.88 160.73,269.33 159.20,270.00 C157.67,270.67 155.93,271.53 154.60,272.30 C153.27,273.07 152.35,273.73 151.20,274.60 C150.05,275.47 148.77,277.12 147.70,277.50 C146.63,277.88 145.67,277.48 144.80,276.90 C143.93,276.32 143.02,275.05 142.50,274.00 C141.98,272.95 141.70,271.65 141.70,270.60 C141.70,269.55 141.98,268.67 142.50,267.70Z" fill="#d8785a" fill-opacity="0.6" filter="url(#speck2)"/>
<path d="M146.00,279.80 C146.87,279.03 148.57,279.90 150.00,279.80 C151.43,279.70 153.07,279.48 154.60,279.20 C156.13,278.92 157.67,278.67 159.20,278.10 C160.73,277.53 162.45,276.57 163.80,275.80 C165.15,275.03 166.33,274.27 167.30,273.50 C168.27,272.73 169.02,271.12 169.60,271.20 C170.18,271.28 170.98,272.85 170.80,274.00 C170.62,275.15 168.50,276.85 168.50,278.10 C168.50,279.35 169.93,280.35 170.80,281.50 C171.67,282.65 173.13,283.93 173.70,285.00 C174.27,286.07 174.68,287.13 174.20,287.90 C173.72,288.67 172.53,289.32 170.80,289.60 C169.07,289.88 166.12,289.60 163.80,289.60 C161.48,289.60 159.00,289.60 156.90,289.60 C154.80,289.60 152.73,289.40 151.20,289.60 C149.67,289.80 148.67,290.98 147.70,290.80 C146.73,290.62 145.88,289.57 145.40,288.50 C144.92,287.43 144.70,285.85 144.80,284.40 C144.90,282.95 145.13,280.57 146.00,279.80Z" fill="#d8785a" fill-opacity="0.6" filter="url(#speck2)"/>
<path d="M147.70,290.50 C147.73,291.17 146.03,291.83 145.00,292.50 C143.97,293.17 142.67,293.83 141.50,294.50 C140.33,295.17 139.08,295.67 138.00,296.50 C136.92,297.33 136.08,298.78 135.00,299.50 C133.92,300.22 132.58,300.72 131.50,300.80 C130.42,300.88 129.20,300.55 128.50,300.00 C127.80,299.45 127.38,298.42 127.30,297.50 C127.22,296.58 127.47,295.37 128.00,294.50 C128.53,293.63 129.50,292.83 130.50,292.30 C131.50,291.77 132.75,291.52 134.00,291.30 C135.25,291.08 136.75,291.22 138.00,291.00 C139.25,290.78 140.37,290.42 141.50,290.00 C142.63,289.58 143.77,288.42 144.80,288.50 C145.83,288.58 147.67,289.83 147.70,290.50Z" fill="#d46c4a" fill-opacity="0.72" filter="url(#speck2)"/>
<path d="M207.80,221.50 C207.63,221.12 209.17,220.38 210.00,220.30 C210.83,220.22 212.63,220.62 212.80,221.00 C212.97,221.38 211.83,222.52 211.00,222.60 C210.17,222.68 207.97,221.88 207.80,221.50Z" fill="#707070" fill-opacity="0.72" filter="url(#speck2)"/>
<path d="M169.00,225.00 C169.08,224.62 170.42,224.00 171.00,224.00 C171.58,224.00 172.58,224.62 172.50,225.00 C172.42,225.38 171.08,226.30 170.50,226.30 C169.92,226.30 168.92,225.38 169.00,225.00Z" fill="#888" fill-opacity="0.72" filter="url(#speck2)"/>
<rect x="94.50" y="170.70" width="154.00" height="134.90" fill="none" stroke="#111" stroke-width="1.3"/>
<path d="M346.87,216.30 C347.25,215.88 350.96,215.27 352.70,214.60 C354.45,213.93 355.79,213.07 357.33,212.30 C358.87,211.53 360.60,210.77 361.96,210.00 C363.32,209.23 364.12,208.37 365.48,207.70 C366.84,207.03 368.56,206.48 370.11,206.00 C371.65,205.52 373.19,205.00 374.73,204.80 C376.28,204.60 378.00,204.52 379.36,204.80 C380.72,205.08 381.81,205.83 382.88,206.50 C383.96,207.17 384.44,208.32 385.80,208.80 C387.16,209.28 389.59,209.20 391.03,209.40 C392.47,209.60 393.98,209.62 394.45,210.00 C394.92,210.38 394.52,211.42 393.85,211.70 C393.18,211.98 390.90,211.02 390.43,211.70 C389.96,212.38 391.13,214.55 391.03,215.80 C390.93,217.05 390.80,218.53 389.82,219.20 C388.85,219.87 386.74,219.80 385.20,219.80 C383.65,219.80 382.11,219.20 380.57,219.20 C379.03,219.20 377.30,219.80 375.94,219.80 C374.58,219.80 373.59,219.58 372.42,219.20 C371.25,218.82 370.26,218.07 368.90,217.50 C367.54,216.93 365.81,216.08 364.27,215.80 C362.73,215.52 361.19,215.72 359.64,215.80 C358.10,215.88 356.56,216.08 355.02,216.30 C353.47,216.52 351.75,217.10 350.39,217.10 C349.03,217.10 346.48,216.72 346.87,216.30Z" fill="#a82878" fill-opacity="0.8" filter="url(#speck2)"/>
<path d="M381.47,213.30 C382.40,212.80 385.25,212.55 386.50,212.80 C387.76,213.05 388.85,213.97 389.02,214.80 C389.19,215.63 388.52,217.30 387.51,217.80 C386.50,218.30 384.07,218.13 382.98,217.80 C381.89,217.47 381.22,216.55 380.97,215.80 C380.72,215.05 380.55,213.80 381.47,213.30Z" fill="#7a3a90" fill-opacity="0.5" filter="url(#speck2)"/>
<path d="M308.54,229.80 C308.37,229.38 309.13,226.97 309.55,225.80 C309.96,224.63 310.55,223.88 311.05,222.80 C311.56,221.72 312.06,220.00 312.56,219.30 C313.07,218.60 313.49,218.52 314.07,218.60 C314.66,218.68 315.41,219.48 316.08,219.80 C316.75,220.12 316.92,220.38 318.10,220.50 C319.27,220.62 321.99,220.37 323.13,220.50 C324.27,220.63 324.94,221.03 324.94,221.30 C324.94,221.57 323.93,221.90 323.13,222.10 C322.32,222.30 321.28,222.50 320.11,222.50 C318.93,222.50 317.17,222.22 316.08,222.10 C314.99,221.98 314.19,221.47 313.57,221.80 C312.95,222.13 312.86,223.02 312.36,224.10 C311.86,225.18 311.19,227.35 310.55,228.30 C309.91,229.25 308.71,230.22 308.54,229.80Z" fill="#9ab0d0" fill-opacity="0.25" filter="url(#speck2)"/>
<path d="M323.63,227.80 C323.80,226.97 325.31,226.38 326.14,225.30 C326.98,224.22 327.74,222.47 328.66,221.30 C329.58,220.13 330.59,219.05 331.68,218.30 C332.77,217.55 333.94,216.97 335.20,216.80 C336.46,216.63 338.05,216.88 339.22,217.30 C340.40,217.72 341.49,218.55 342.24,219.30 C342.99,220.05 342.91,220.97 343.75,221.80 C344.59,222.63 347.52,223.80 347.27,224.30 C347.02,224.80 343.92,224.63 342.24,224.80 C340.56,224.97 338.89,224.97 337.21,225.30 C335.53,225.63 333.86,226.13 332.18,226.80 C330.50,227.47 328.32,228.72 327.15,229.30 C325.98,229.88 325.72,230.55 325.14,230.30 C324.55,230.05 323.46,228.63 323.63,227.80Z" fill="#78b068" fill-opacity="0.8" filter="url(#speck2)"/>
<path d="M302.50,238.30 C302.70,237.13 303.09,235.88 304.01,234.80 C304.93,233.72 306.69,232.72 308.04,231.80 C309.38,230.88 310.63,229.85 312.06,229.30 C313.49,228.75 315.16,228.58 316.59,228.50 C318.01,228.42 319.44,228.92 320.61,228.80 C321.78,228.68 322.79,228.05 323.63,227.80 C324.47,227.55 325.14,226.97 325.64,227.30 C326.14,227.63 326.90,228.97 326.65,229.80 C326.40,230.63 324.80,231.22 324.13,232.30 C323.46,233.38 322.87,234.80 322.62,236.30 C322.37,237.80 322.71,239.72 322.62,241.30 C322.54,242.88 322.71,244.63 322.12,245.80 C321.53,246.97 320.44,247.97 319.10,248.30 C317.76,248.63 315.75,248.13 314.07,247.80 C312.40,247.47 310.55,246.88 309.04,246.30 C307.53,245.72 306.06,245.05 305.02,244.30 C303.98,243.55 303.22,242.80 302.80,241.80 C302.39,240.80 302.30,239.47 302.50,238.30Z" fill="#4468b8" fill-opacity="0.8" filter="url(#speck2)"/>
<path d="M305.52,232.30 C306.02,231.35 308.46,230.22 310.05,229.60 C311.64,228.98 313.40,228.72 315.08,228.60 C316.75,228.48 318.68,229.02 320.11,228.90 C321.53,228.78 322.62,228.00 323.63,227.90 C324.63,227.80 325.81,227.73 326.14,228.30 C326.48,228.87 326.18,230.22 325.64,231.30 C325.10,232.38 324.18,234.05 322.92,234.80 C321.67,235.55 319.91,235.68 318.10,235.80 C316.29,235.92 313.90,235.58 312.06,235.50 C310.22,235.42 308.12,235.83 307.03,235.30 C305.94,234.77 305.02,233.25 305.52,232.30Z" fill="#7aa890" fill-opacity="0.55" filter="url(#speck2)"/>
<path d="M326.14,223.30 C326.81,221.80 327.99,220.33 329.16,219.30 C330.34,218.27 331.68,217.52 333.19,217.10 C334.70,216.68 336.71,216.52 338.22,216.80 C339.73,217.08 341.07,217.97 342.24,218.80 C343.41,219.63 344.34,220.80 345.26,221.80 C346.18,222.80 347.94,223.97 347.77,224.80 C347.61,225.63 345.68,226.22 344.25,226.80 C342.83,227.38 341.07,227.80 339.22,228.30 C337.38,228.80 335.03,229.47 333.19,229.80 C331.34,230.13 329.50,230.55 328.16,230.30 C326.81,230.05 325.47,229.47 325.14,228.30 C324.80,227.13 325.47,224.80 326.14,223.30Z" fill="#80b070" fill-opacity="0.7" filter="url(#speck2)"/>
<path d="M397.37,231.10 C397.62,230.38 399.13,229.60 400.09,228.80 C401.04,228.00 402.18,226.58 403.10,226.30 C404.03,226.02 404.61,226.68 405.62,227.10 C406.62,227.52 408.07,228.02 409.14,228.80 C410.21,229.58 411.80,230.88 412.06,231.80 C412.31,232.72 411.72,233.78 410.65,234.30 C409.57,234.82 407.21,234.90 405.62,234.90 C404.03,234.90 402.26,234.60 401.09,234.30 C399.92,234.00 399.20,233.63 398.58,233.10 C397.96,232.57 397.12,231.82 397.37,231.10Z" fill="#a04088" fill-opacity="0.8" filter="url(#speck2)"/>
<path d="M378.76,254.90 C379.26,254.08 380.38,252.67 381.47,251.90 C382.56,251.13 384.04,250.75 385.30,250.30 C386.55,249.85 388.03,249.47 389.02,249.20 C390.01,248.93 390.68,248.43 391.23,248.70 C391.79,248.97 391.80,250.22 392.34,250.80 C392.88,251.38 393.60,251.88 394.45,252.20 C395.31,252.52 397.20,252.43 397.47,252.70 C397.74,252.97 396.83,253.57 396.06,253.80 C395.29,254.03 393.73,253.78 392.84,254.10 C391.95,254.42 391.45,254.98 390.73,255.70 C390.01,256.42 389.34,257.60 388.52,258.40 C387.69,259.20 386.71,259.97 385.80,260.50 C384.89,261.03 383.80,261.50 383.08,261.60 C382.36,261.70 382.01,261.55 381.47,261.10 C380.94,260.65 380.37,259.62 379.86,258.90 C379.36,258.18 378.64,257.47 378.46,256.80 C378.27,256.13 378.25,255.72 378.76,254.90Z" fill="#3a5cb0" fill-opacity="0.8" filter="url(#speck2)"/>
<path d="M344.75,267.00 C345.27,266.03 345.81,264.68 347.07,264.10 C348.33,263.52 350.27,263.68 352.30,263.50 C354.33,263.32 356.93,263.15 359.24,263.00 C361.56,262.85 364.34,262.52 366.18,262.60 C368.03,262.68 369.72,262.97 370.31,263.50 C370.89,264.03 370.39,265.12 369.70,265.80 C369.02,266.48 367.54,267.02 366.18,267.60 C364.82,268.18 363.10,268.63 361.56,269.30 C360.01,269.97 358.27,270.83 356.93,271.60 C355.59,272.37 354.66,273.03 353.51,273.90 C352.35,274.77 351.06,276.42 349.99,276.80 C348.91,277.18 347.94,276.78 347.07,276.20 C346.20,275.62 345.27,274.35 344.75,273.30 C344.24,272.25 343.95,270.95 343.95,269.90 C343.95,268.85 344.24,267.97 344.75,267.00Z" fill="#3a58ac" fill-opacity="0.8" filter="url(#speck2)"/>
<path d="M348.28,279.10 C349.15,278.33 350.86,279.20 352.30,279.10 C353.74,279.00 355.39,278.78 356.93,278.50 C358.47,278.22 360.01,277.97 361.56,277.40 C363.10,276.83 364.82,275.87 366.18,275.10 C367.54,274.33 368.73,273.57 369.70,272.80 C370.68,272.03 371.43,270.42 372.02,270.50 C372.60,270.58 373.41,272.15 373.22,273.30 C373.04,274.45 370.91,276.15 370.91,277.40 C370.91,278.65 372.35,279.65 373.22,280.80 C374.10,281.95 375.57,283.23 376.14,284.30 C376.71,285.37 377.13,286.43 376.65,287.20 C376.16,287.97 374.97,288.62 373.22,288.90 C371.48,289.18 368.51,288.90 366.18,288.90 C363.85,288.90 361.35,288.90 359.24,288.90 C357.13,288.90 355.05,288.70 353.51,288.90 C351.96,289.10 350.96,290.28 349.99,290.10 C349.01,289.92 348.16,288.87 347.67,287.80 C347.19,286.73 346.97,285.15 347.07,283.70 C347.17,282.25 347.40,279.87 348.28,279.10Z" fill="#4466b8" fill-opacity="0.8" filter="url(#speck2)"/>
<path d="M349.99,289.80 C350.02,290.47 348.31,291.13 347.27,291.80 C346.23,292.47 344.92,293.13 343.75,293.80 C342.58,294.47 341.32,294.97 340.23,295.80 C339.14,296.63 338.30,298.08 337.21,298.80 C336.12,299.52 334.78,300.02 333.69,300.10 C332.60,300.18 331.38,299.85 330.67,299.30 C329.97,298.75 329.55,297.72 329.46,296.80 C329.38,295.88 329.63,294.67 330.17,293.80 C330.70,292.93 331.68,292.13 332.68,291.60 C333.69,291.07 334.95,290.82 336.20,290.60 C337.46,290.38 338.97,290.52 340.23,290.30 C341.49,290.08 342.61,289.72 343.75,289.30 C344.89,288.88 346.03,287.72 347.07,287.80 C348.11,287.88 349.95,289.13 349.99,289.80Z" fill="#1e4a2a" fill-opacity="0.8" filter="url(#speck2)"/>
<path d="M371.41,224.30 C371.50,223.92 372.84,223.30 373.43,223.30 C374.01,223.30 375.02,223.92 374.94,224.30 C374.85,224.68 373.51,225.60 372.92,225.60 C372.34,225.60 371.33,224.68 371.41,224.30Z" fill="#a82878" fill-opacity="0.8" filter="url(#speck2)"/>
<rect x="290.60" y="170.70" width="154.00" height="134.90" fill="none" stroke="#111" stroke-width="1.3"/>
<text x="68.40" y="18.30" font-size="9.9" font-weight="bold" font-style="normal" text-anchor="start" fill="#111" stroke="#111" stroke-width="0.12" >A</text>
<text x="264.60" y="18.30" font-size="9.9" font-weight="bold" font-style="normal" text-anchor="start" fill="#111" stroke="#111" stroke-width="0.12" >B</text>
<text x="68.30" y="178.70" font-size="9.9" font-weight="bold" font-style="normal" text-anchor="start" fill="#111" stroke="#111" stroke-width="0.12" >C</text>
<text x="264.60" y="178.70" font-size="9.9" font-weight="bold" font-style="normal" text-anchor="start" fill="#111" stroke="#111" stroke-width="0.12" >D</text>
<text x="7.50" y="340.50" font-size="12.2" font-weight="bold" font-style="normal" text-anchor="start" fill="#111" stroke="#111" stroke-width="0.12" >E</text>
<text x="254.60" y="340.80" font-size="11.8" font-weight="bold" font-style="normal" text-anchor="start" fill="#111" stroke="#111" stroke-width="0.12" >F</text>
<text x="98.50" y="20.60" font-size="8.7" font-weight="normal" font-style="normal" text-anchor="start" fill="#222" stroke="#222" stroke-width="0.12" >Patient</text>
<text x="295.60" y="20.70" font-size="8.7" font-weight="normal" font-style="normal" text-anchor="start" fill="#222" stroke="#222" stroke-width="0.12" >Annotation</text>
<text x="98.30" y="182.00" font-size="8.7" font-weight="normal" font-style="normal" text-anchor="start" fill="#222" stroke="#222" stroke-width="0.12" >Ploidy</text>
<text x="295.40" y="182.30" font-size="8.7" font-weight="normal" font-style="normal" text-anchor="start" fill="#222" stroke="#222" stroke-width="0.12" >Cell types</text>
<text x="0" y="0" font-size="8.8" font-weight="bold" text-anchor="middle" fill="#1a1a1a" transform="translate(171.60,158.40) scale(0.62,1)">UMAP1</text>
<text x="0" y="0" font-size="8.8" font-weight="bold" text-anchor="middle" fill="#1a1a1a" transform="translate(89.10,77.95) rotate(-90) scale(0.62,1)">UMAP2</text>
<text x="0" y="0" font-size="8.8" font-weight="bold" text-anchor="middle" fill="#1a1a1a" transform="translate(367.10,158.40) scale(0.62,1)">UMAP1</text>
<text x="0" y="0" font-size="8.8" font-weight="bold" text-anchor="middle" fill="#1a1a1a" transform="translate(284.60,77.95) rotate(-90) scale(0.62,1)">UMAP2</text>
<text x="0" y="0" font-size="8.8" font-weight="bold" text-anchor="middle" fill="#1a1a1a" transform="translate(171.50,318.60) scale(0.62,1)">UMAP1</text>
<text x="0" y="0" font-size="8.8" font-weight="bold" text-anchor="middle" fill="#1a1a1a" transform="translate(89.00,238.15) rotate(-90) scale(0.62,1)">UMAP2</text>
<text x="0" y="0" font-size="8.8" font-weight="bold" text-anchor="middle" fill="#1a1a1a" transform="translate(367.60,318.60) scale(0.62,1)">UMAP1</text>
<text x="0" y="0" font-size="8.8" font-weight="bold" text-anchor="middle" fill="#1a1a1a" transform="translate(285.10,238.15) rotate(-90) scale(0.62,1)">UMAP2</text>
<text x="165.40" y="40.65" font-size="6.6" font-weight="normal" font-style="italic" text-anchor="start" fill="#222" stroke="#222" stroke-width="0.12" >MLL-EDC4</text>
<text x="123.60" y="79.00" font-size="6.6" font-weight="normal" font-style="italic" text-anchor="start" fill="#222" stroke="#222" stroke-width="0.12" >MLL-ELL</text>
<text x="167.10" y="83.50" font-size="6.85" font-weight="normal" font-style="italic" text-anchor="start" fill="#222" stroke="#222" stroke-width="0.12" >MLL-MLLT3 #3</text>
<text x="125.40" y="101.00" font-size="6.8" font-weight="normal" font-style="italic" text-anchor="start" fill="#222" stroke="#222" stroke-width="0.12" >MLL-MLLT3 #1</text>
<text x="148.80" y="137.50" font-size="6.8" font-weight="normal" font-style="italic" text-anchor="start" fill="#222" stroke="#222" stroke-width="0.12" >MLL-MLLT3 #2</text>
<text x="355.60" y="40.80" font-size="6.6" font-weight="normal" font-style="italic" text-anchor="start" fill="#222" stroke="#222" stroke-width="0.12" >MLL-EDC4</text>
<text x="398.50" y="20.10" font-size="6.5" font-weight="normal" font-style="normal" text-anchor="start" fill="#222" stroke="#222" stroke-width="0.12" >B-Cells</text>
<text x="293.90" y="56.20" font-size="6.5" font-weight="normal" font-style="normal" text-anchor="start" fill="#222" stroke="#222" stroke-width="0.12" >Monocytes</text>
<text x="340.60" y="69.30" font-size="6.5" font-weight="normal" font-style="normal" text-anchor="start" fill="#222" stroke="#222" stroke-width="0.12" >c2</text>
<text x="322.60" y="78.60" font-size="6.6" font-weight="normal" font-style="italic" text-anchor="start" fill="#222" stroke="#222" stroke-width="0.12" >MLL-ELL</text>
<text x="305.60" y="94.60" font-size="6.5" font-weight="normal" font-style="normal" text-anchor="start" fill="#222" stroke="#222" stroke-width="0.12" >c1</text>
<text x="398.50" y="57.20" font-size="6.5" font-weight="normal" font-style="normal" text-anchor="start" fill="#222" stroke="#222" stroke-width="0.12" >Erythroblasts</text>
<text x="384.40" y="69.30" font-size="6.5" font-weight="normal" font-style="normal" text-anchor="start" fill="#222" stroke="#222" stroke-width="0.12" >c2</text>
<text x="361.30" y="83.50" font-size="6.85" font-weight="normal" font-style="italic" text-anchor="start" fill="#222" stroke="#222" stroke-width="0.12" >MLL-MLLT3 #3</text>
<text x="421.00" y="75.80" font-size="6.5" font-weight="normal" font-style="normal" text-anchor="start" fill="#222" stroke="#222" stroke-width="0.12" >T-cells</text>
<text x="393.00" y="91.30" font-size="6.5" font-weight="normal" font-style="normal" text-anchor="start" fill="#222" stroke="#222" stroke-width="0.12" >c1</text>
<text x="324.20" y="100.80" font-size="6.8" font-weight="normal" font-style="italic" text-anchor="start" fill="#222" stroke="#222" stroke-width="0.12" >MLL-MLLT3 #1</text>
<text x="369.70" y="120.00" font-size="6.5" font-weight="normal" font-style="normal" text-anchor="start" fill="#222" stroke="#222" stroke-width="0.12" >c1</text>
<text x="316.00" y="137.30" font-size="6.5" font-weight="normal" font-style="normal" text-anchor="start" fill="#222" stroke="#222" stroke-width="0.12" >c2</text>
<text x="348.80" y="137.20" font-size="6.8" font-weight="normal" font-style="italic" text-anchor="start" fill="#222" stroke="#222" stroke-width="0.12" >MLL-MLLT3 #2</text>
<text x="406.20" y="128.70" font-size="6.5" font-weight="normal" font-style="normal" text-anchor="start" fill="#222" stroke="#222" stroke-width="0.12" >NK-cells</text>
<text x="158.70" y="200.30" font-size="6.8" font-weight="bold" font-style="normal" text-anchor="start" fill="#c8634c" stroke="#c8634c" stroke-width="0.12" >Aneuploid</text>
<text x="213.50" y="288.50" font-size="6.75" font-weight="bold" font-style="normal" text-anchor="start" fill="#3f9696" stroke="#3f9696" stroke-width="0.12" >Diploid</text>
<text x="369.30" y="202.10" font-size="6.8" font-weight="normal" font-style="normal" text-anchor="start" fill="#222" stroke="#222" stroke-width="0.12" >HSC</text>
<text x="347.70" y="208.80" font-size="6.8" font-weight="normal" font-style="normal" text-anchor="start" fill="#222" stroke="#222" stroke-width="0.12" >MPP</text>
<text x="393.60" y="219.40" font-size="6.8" font-weight="normal" font-style="normal" text-anchor="start" fill="#222" stroke="#222" stroke-width="0.12" >ERP</text>
<text x="409.60" y="228.40" font-size="6.8" font-weight="normal" font-style="normal" text-anchor="start" fill="#222" stroke="#222" stroke-width="0.12" >MPP</text>
<text x="301.40" y="223.80" font-size="6.8" font-weight="normal" font-style="normal" text-anchor="start" fill="#222" stroke="#222" stroke-width="0.12" >prMono</text>
<text x="333.80" y="235.30" font-size="6.8" font-weight="normal" font-style="normal" text-anchor="start" fill="#222" stroke="#222" stroke-width="0.12" >cDC2</text>
<text x="319.10" y="259.40" font-size="6.85" font-weight="normal" font-style="normal" text-anchor="start" fill="#222" stroke="#222" stroke-width="0.12" >Mono/Macro CD14</text>
<text x="311.30" y="295.60" font-size="6.8" font-weight="normal" font-style="normal" text-anchor="start" fill="#222" stroke="#222" stroke-width="0.12" >GMP</text>
<text x="353.00" y="295.10" font-size="6.8" font-weight="normal" font-style="normal" text-anchor="start" fill="#222" stroke="#222" stroke-width="0.12" >Mono/Macro CD16</text>
<path d="M88.00,379.00 L80.42,352.57 A27.5,27.5 0 1 1 71.07,400.67 Z" fill="#b22a8c" stroke="#b22a8c" stroke-width="0.3"/>
<path d="M88.00,379.00 L71.07,400.67 A27.5,27.5 0 0 1 64.38,364.92 Z" fill="#782955" stroke="#782955" stroke-width="0.3"/>
<path d="M88.00,379.00 L64.38,364.92 A27.5,27.5 0 0 1 69.89,358.31 Z" fill="#46449a" stroke="#46449a" stroke-width="0.3"/>
<path d="M88.00,379.00 L69.89,358.31 A27.5,27.5 0 0 1 72.62,356.20 Z" fill="#98b4ac" stroke="#98b4ac" stroke-width="0.3"/>
<path d="M88.00,379.00 L72.62,356.20 A27.5,27.5 0 0 1 80.42,352.57 Z" fill="#e0905c" stroke="#e0905c" stroke-width="0.3"/>
<path d="M170.00,379.00 L197.41,376.79 A27.5,27.5 0 0 1 197.50,378.52 Z" fill="#1c2e1a" stroke="#1c2e1a" stroke-width="0.3"/>
<path d="M170.00,379.00 L197.50,378.52 A27.5,27.5 0 0 1 197.10,383.68 Z" fill="#7a986c" stroke="#7a986c" stroke-width="0.3"/>
<path d="M170.00,379.00 L197.10,383.68 A27.5,27.5 0 1 1 197.41,376.79 Z" fill="#4864a6" stroke="#4864a6" stroke-width="0.3"/>
<path d="M91.50,462.00 L63.63,464.68 A28,28 0 0 1 63.52,462.93 Z" fill="#1c2e1a" stroke="#1c2e1a" stroke-width="0.3"/>
<path d="M91.50,462.00 L63.52,462.93 A28,28 0 0 1 64.16,455.94 Z" fill="#7a986c" stroke="#7a986c" stroke-width="0.3"/>
<path d="M91.50,462.00 L64.16,455.94 A28,28 0 0 1 70.46,443.52 Z" fill="#3c1e6e" stroke="#3c1e6e" stroke-width="0.3"/>
<path d="M91.50,462.00 L70.46,443.52 A28,28 0 1 1 63.63,464.68 Z" fill="#4864a6" stroke="#4864a6" stroke-width="0.3"/>
<path d="M167.60,463.00 L167.60,434.70 A28.3,28.3 0 0 1 191.86,477.58 Z" fill="#7a986c" stroke="#7a986c" stroke-width="0.3"/>
<path d="M167.60,463.00 L191.86,477.58 A28.3,28.3 0 0 1 153.71,487.66 Z" fill="#4864a6" stroke="#4864a6" stroke-width="0.3"/>
<path d="M167.60,463.00 L153.71,487.66 A28.3,28.3 0 0 1 162.39,435.18 Z" fill="#1e281c" stroke="#1e281c" stroke-width="0.3"/>
<path d="M167.60,463.00 L162.39,435.18 A28.3,28.3 0 0 1 167.60,434.70 Z" fill="#22381e" stroke="#22381e" stroke-width="0.3"/>
<path d="M89.50,546.60 L66.04,562.43 A28.3,28.3 0 0 1 61.22,545.61 Z" fill="#1c3418" stroke="#1c3418" stroke-width="0.3"/>
<path d="M89.50,546.60 L61.22,545.61 A28.3,28.3 0 0 1 62.09,539.56 Z" fill="#8aa87a" stroke="#8aa87a" stroke-width="0.3"/>
<path d="M89.50,546.60 L62.09,539.56 A28.3,28.3 0 0 1 83.62,518.92 Z" fill="#3c1e6e" stroke="#3c1e6e" stroke-width="0.3"/>
<path d="M89.50,546.60 L83.62,518.92 A28.3,28.3 0 1 1 66.04,562.43 Z" fill="#4864a6" stroke="#4864a6" stroke-width="0.3"/>
<path d="M167.50,544.00 L174.65,517.13 A27.8,27.8 0 0 1 193.67,534.63 Z" fill="#7a2652" stroke="#7a2652" stroke-width="0.3"/>
<path d="M167.50,544.00 L193.67,534.63 A27.8,27.8 0 0 1 188.06,562.71 Z" fill="#46428e" stroke="#46428e" stroke-width="0.3"/>
<path d="M167.50,544.00 L188.06,562.71 A27.8,27.8 0 0 1 168.08,571.79 Z" fill="#563c90" stroke="#563c90" stroke-width="0.3"/>
<path d="M167.50,544.00 L168.08,571.79 A27.8,27.8 0 0 1 142.64,531.55 Z" fill="#d8835f" stroke="#d8835f" stroke-width="0.3"/>
<path d="M167.50,544.00 L142.64,531.55 A27.8,27.8 0 0 1 174.65,517.13 Z" fill="#b02a8a" stroke="#b02a8a" stroke-width="0.3"/>
<path d="M87.70,623.90 L58.83,625.21 A28.9,28.9 0 0 1 58.80,623.40 Z" fill="#1c2e1a" stroke="#1c2e1a" stroke-width="0.3"/>
<path d="M87.70,623.90 L58.80,623.40 A28.9,28.9 0 0 1 84.53,595.17 Z" fill="#7a986c" stroke="#7a986c" stroke-width="0.3"/>
<path d="M87.70,623.90 L84.53,595.17 A28.9,28.9 0 1 1 58.83,625.21 Z" fill="#4864a6" stroke="#4864a6" stroke-width="0.3"/>
<path d="M173.60,622.60 L177.06,594.81 A28,28 0 0 1 182.21,595.96 Z" fill="#f0b080" stroke="#f0b080" stroke-width="0.3"/>
<path d="M173.60,622.60 L182.21,595.96 A28,28 0 0 1 190.02,599.92 Z" fill="#b22a8c" stroke="#b22a8c" stroke-width="0.3"/>
<path d="M173.60,622.60 L190.02,599.92 A28,28 0 0 1 192.73,602.16 Z" fill="#4864a6" stroke="#4864a6" stroke-width="0.3"/>
<path d="M173.60,622.60 L192.73,602.16 A28,28 0 0 1 199.62,612.25 Z" fill="#1e281c" stroke="#1e281c" stroke-width="0.3"/>
<path d="M173.60,622.60 L199.62,612.25 A28,28 0 0 1 201.60,622.55 Z" fill="#26381f" stroke="#26381f" stroke-width="0.3"/>
<path d="M173.60,622.60 L201.60,622.55 A28,28 0 1 1 177.06,594.81 Z" fill="#7a986c" stroke="#7a986c" stroke-width="0.3"/>
<text x="27.70" y="347.60" font-size="6.8" font-weight="normal" font-style="italic" text-anchor="start" fill="#222" stroke="#222" stroke-width="0.12" >MLL-EDC4</text>
<text x="27.70" y="354.20" font-size="6.8" font-weight="normal" font-style="normal" text-anchor="start" fill="#222" stroke="#222" stroke-width="0.12" >n = 2950</text>
<text x="64.00" y="351.00" font-size="6.8" font-weight="normal" font-style="normal" text-anchor="start" fill="#222" stroke="#222" stroke-width="0.12" >Other 5%</text>
<text x="37.00" y="360.90" font-size="6.8" font-weight="normal" font-style="normal" text-anchor="start" fill="#222" stroke="#222" stroke-width="0.12" >preDC 2%</text>
<text x="37.00" y="367.20" font-size="6.8" font-weight="normal" font-style="normal" text-anchor="start" fill="#222" stroke="#222" stroke-width="0.12" >ERP 5%</text>
<text x="32.30" y="394.00" font-size="6.8" font-weight="normal" font-style="normal" text-anchor="start" fill="#222" stroke="#222" stroke-width="0.12" >HSC 23%</text>
<text x="45.00" y="409.20" font-size="6.8" font-weight="normal" font-style="normal" text-anchor="start" fill="#222" stroke="#222" stroke-width="0.12" >MPP 65%</text>
<text x="125.40" y="347.60" font-size="6.8" font-weight="normal" font-style="italic" text-anchor="start" fill="#222" stroke="#222" stroke-width="0.12" >MLL-MLLT3 #1</text>
<text x="125.40" y="354.40" font-size="6.8" font-weight="normal" font-style="normal" text-anchor="start" fill="#222" stroke="#222" stroke-width="0.12" >n = 1706</text>
<text x="201.40" y="376.70" font-size="6.8" font-weight="normal" font-style="normal" text-anchor="start" fill="#222" stroke="#222" stroke-width="0.12" >cDC2 1%</text>
<text x="201.40" y="385.20" font-size="6.8" font-weight="normal" font-style="normal" text-anchor="start" fill="#222" stroke="#222" stroke-width="0.12" >prMono 3%</text>
<text x="198.00" y="397.30" font-size="6.8" font-weight="normal" font-style="normal" text-anchor="start" fill="#222" stroke="#222" stroke-width="0.12" >Mono/Macro</text>
<text x="198.00" y="404.90" font-size="6.8" font-weight="normal" font-style="normal" text-anchor="start" fill="#222" stroke="#222" stroke-width="0.12" >CD14 96%</text>
<text x="31.6" y="427.0" font-size="6.8" fill="#222" stroke="#222" stroke-width="0.12"><tspan font-style="italic">MLL-MLLT3</tspan> #2 c1 n = 1649</text>
<text x="38.00" y="437.90" font-size="6.8" font-weight="normal" font-style="normal" text-anchor="start" fill="#222" stroke="#222" stroke-width="0.12" >Mono/Macro</text>
<text x="38.00" y="445.90" font-size="6.8" font-weight="normal" font-style="normal" text-anchor="start" fill="#222" stroke="#222" stroke-width="0.12" >CD16 8%</text>
<text x="28.50" y="458.60" font-size="6.8" font-weight="normal" font-style="normal" text-anchor="start" fill="#222" stroke="#222" stroke-width="0.12" >prMono 4%</text>
<text x="28.50" y="466.00" font-size="6.8" font-weight="normal" font-style="normal" text-anchor="start" fill="#222" stroke="#222" stroke-width="0.12" >cDC2 1%</text>
<text x="28.50" y="478.70" font-size="6.8" font-weight="normal" font-style="normal" text-anchor="start" fill="#222" stroke="#222" stroke-width="0.12" >Mono/Macro</text>
<text x="28.50" y="487.10" font-size="6.8" font-weight="normal" font-style="normal" text-anchor="start" fill="#222" stroke="#222" stroke-width="0.12" >CD14 87%</text>
<text x="127.4" y="426.9" font-size="6.8" fill="#222" stroke="#222" stroke-width="0.12"><tspan font-style="italic">MLL-MLLT3</tspan> #2 <tspan font-style="italic">c2</tspan> n = 1307</text>
<text x="153.80" y="433.20" font-size="6.8" font-weight="normal" font-style="normal" text-anchor="start" fill="#222" stroke="#222" stroke-width="0.12" >cDC2 5%</text>
<text x="126.30" y="441.60" font-size="6.8" font-weight="normal" font-style="normal" text-anchor="start" fill="#222" stroke="#222" stroke-width="0.12" >GMP</text>
<text x="126.30" y="450.10" font-size="6.8" font-weight="normal" font-style="normal" text-anchor="start" fill="#222" stroke="#222" stroke-width="0.12" >37%</text>
<text x="190.90" y="446.00" font-size="6.8" font-weight="normal" font-style="normal" text-anchor="start" fill="#222" stroke="#222" stroke-width="0.12" >prMono</text>
<text x="199.30" y="453.30" font-size="6.8" font-weight="normal" font-style="normal" text-anchor="start" fill="#222" stroke="#222" stroke-width="0.12" >34%</text>
<text x="195.00" y="481.90" font-size="6.8" font-weight="normal" font-style="normal" text-anchor="start" fill="#222" stroke="#222" stroke-width="0.12" >Mono/</text>
<text x="195.00" y="488.20" font-size="6.8" font-weight="normal" font-style="normal" text-anchor="start" fill="#222" stroke="#222" stroke-width="0.12" >Macro</text>
<text x="179.20" y="494.50" font-size="6.8" font-weight="normal" font-style="normal" text-anchor="start" fill="#222" stroke="#222" stroke-width="0.12" >CD14 24%</text>
<text x="30.6" y="511.9" font-size="6.8" fill="#222" stroke="#222" stroke-width="0.12"><tspan font-style="italic">MLL-MLLT3</tspan> #3 c1</text>
<text x="30.60" y="517.70" font-size="6.8" font-weight="normal" font-style="normal" text-anchor="start" fill="#222" stroke="#222" stroke-width="0.12" >n = 746</text>
<text x="28.00" y="527.70" font-size="6.8" font-weight="normal" font-style="normal" text-anchor="start" fill="#222" stroke="#222" stroke-width="0.12" >Mono/Macro</text>
<text x="28.00" y="536.20" font-size="6.8" font-weight="normal" font-style="normal" text-anchor="start" fill="#222" stroke="#222" stroke-width="0.12" >CD16&#160; 18%</text>
<text x="38.00" y="542.50" font-size="6.8" font-weight="normal" font-style="normal" text-anchor="start" fill="#222" stroke="#222" stroke-width="0.12" >prMono</text>
<text x="38.00" y="548.90" font-size="6.8" font-weight="normal" font-style="normal" text-anchor="start" fill="#222" stroke="#222" stroke-width="0.12" >4%</text>
<text x="30.60" y="556.70" font-size="6.8" font-weight="normal" font-style="normal" text-anchor="start" fill="#222" stroke="#222" stroke-width="0.12" >cDC2 8%</text>
<text x="28.00" y="567.90" font-size="6.8" font-weight="normal" font-style="normal" text-anchor="start" fill="#222" stroke="#222" stroke-width="0.12" >Mono/Macro</text>
<text x="28.00" y="576.30" font-size="6.8" font-weight="normal" font-style="normal" text-anchor="start" fill="#222" stroke="#222" stroke-width="0.12" >CD14&#160; 76%</text>
<text x="126.0" y="511.9" font-size="6.8" fill="#222" stroke="#222" stroke-width="0.12"><tspan font-style="italic">MLL-MLLT3</tspan> #3 c2</text>
<text x="126.00" y="517.70" font-size="6.8" font-weight="normal" font-style="normal" text-anchor="start" fill="#222" stroke="#222" stroke-width="0.12" >n = 555</text>
<text x="126.00" y="526.20" font-size="6.8" font-weight="normal" font-style="normal" text-anchor="start" fill="#222" stroke="#222" stroke-width="0.12" >MPP</text>
<text x="126.00" y="535.10" font-size="6.8" font-weight="normal" font-style="normal" text-anchor="start" fill="#222" stroke="#222" stroke-width="0.12" >21%</text>
<text x="189.80" y="525.60" font-size="6.8" font-weight="normal" font-style="normal" text-anchor="start" fill="#222" stroke="#222" stroke-width="0.12" >HSC 14%</text>
<text x="197.20" y="550.30" font-size="6.8" font-weight="normal" font-style="normal" text-anchor="start" fill="#222" stroke="#222" stroke-width="0.12" >ERP</text>
<text x="197.20" y="560.10" font-size="6.8" font-weight="normal" font-style="normal" text-anchor="start" fill="#222" stroke="#222" stroke-width="0.12" >17%</text>
<text x="126.00" y="564.70" font-size="6.8" font-weight="normal" font-style="normal" text-anchor="start" fill="#222" stroke="#222" stroke-width="0.12" >Other</text>
<text x="126.00" y="573.20" font-size="6.8" font-weight="normal" font-style="normal" text-anchor="start" fill="#222" stroke="#222" stroke-width="0.12" >35%</text>
<text x="184.00" y="573.60" font-size="6.8" font-weight="normal" font-style="normal" text-anchor="start" fill="#222" stroke="#222" stroke-width="0.12" >prMa 13%</text>
<text x="28.0" y="593.0" font-size="6.8" fill="#222" stroke="#222" stroke-width="0.12"><tspan font-style="italic">MLL-ELL</tspan> c1</text>
<text x="28.00" y="599.40" font-size="6.8" font-weight="normal" font-style="normal" text-anchor="start" fill="#222" stroke="#222" stroke-width="0.12" >n = 2760</text>
<text x="28.00" y="609.10" font-size="6.8" font-weight="normal" font-style="normal" text-anchor="start" fill="#222" stroke="#222" stroke-width="0.12" >prMono</text>
<text x="28.00" y="616.90" font-size="6.8" font-weight="normal" font-style="normal" text-anchor="start" fill="#222" stroke="#222" stroke-width="0.12" >23%</text>
<text x="28.00" y="626.90" font-size="6.8" font-weight="normal" font-style="normal" text-anchor="start" fill="#222" stroke="#222" stroke-width="0.12" >cDC2 1%</text>
<text x="34.40" y="638.10" font-size="6.8" font-weight="normal" font-style="normal" text-anchor="start" fill="#222" stroke="#222" stroke-width="0.12" >Mono/</text>
<text x="34.40" y="645.90" font-size="6.8" font-weight="normal" font-style="normal" text-anchor="start" fill="#222" stroke="#222" stroke-width="0.12" >Macro</text>
<text x="34.40" y="654.90" font-size="6.8" font-weight="normal" font-style="normal" text-anchor="start" fill="#222" stroke="#222" stroke-width="0.12" >CD14 76%</text>
<text x="126.0" y="593.0" font-size="6.8" fill="#222" stroke="#222" stroke-width="0.12"><tspan font-style="italic">MLL-ELL</tspan> c2 Other 3%</text>
<text x="126.00" y="601.80" font-size="6.8" font-weight="normal" font-style="normal" text-anchor="start" fill="#222" stroke="#222" stroke-width="0.12" >n = 1089</text>
<text x="231.80" y="593.40" font-size="6.8" font-weight="normal" font-style="normal" text-anchor="end" fill="#222" stroke="#222" stroke-width="0.12" >MPP 5%</text>
<text x="231.80" y="599.40" font-size="6.8" font-weight="normal" font-style="normal" text-anchor="end" fill="#222" stroke="#222" stroke-width="0.12" >Mono/Macro</text>
<text x="231.80" y="606.10" font-size="6.8" font-weight="normal" font-style="normal" text-anchor="end" fill="#222" stroke="#222" stroke-width="0.12" >CD14 2%</text>
<text x="231.80" y="612.90" font-size="6.8" font-weight="normal" font-style="normal" text-anchor="end" fill="#222" stroke="#222" stroke-width="0.12" >GMP 7%</text>
<text x="231.80" y="622.30" font-size="6.8" font-weight="normal" font-style="normal" text-anchor="end" fill="#222" stroke="#222" stroke-width="0.12" >cDC2 6%</text>
<text x="229.80" y="650.60" font-size="6.8" font-weight="normal" font-style="normal" text-anchor="end" fill="#222" stroke="#222" stroke-width="0.12" >prMono 77%</text>
<text x="395.60" y="350.60" font-size="8.8" font-weight="normal" font-style="normal" text-anchor="middle" fill="#222" stroke="#222" stroke-width="0.12" >Module scores</text>
<rect x="278.90" y="355.50" width="107.30" height="76.40" fill="none" stroke="#111" stroke-width="1.2"/>
<line x1="275.30" y1="363.60" x2="278.90" y2="363.60" stroke="#222" stroke-width="0.9"/>
<line x1="382.80" y1="363.60" x2="386.20" y2="363.60" stroke="#222" stroke-width="0.9"/>
<line x1="275.30" y1="380.50" x2="278.90" y2="380.50" stroke="#222" stroke-width="0.9"/>
<line x1="382.80" y1="380.50" x2="386.20" y2="380.50" stroke="#222" stroke-width="0.9"/>
<line x1="275.30" y1="397.60" x2="278.90" y2="397.60" stroke="#222" stroke-width="0.9"/>
<line x1="382.80" y1="397.60" x2="386.20" y2="397.60" stroke="#222" stroke-width="0.9"/>
<line x1="275.30" y1="414.50" x2="278.90" y2="414.50" stroke="#222" stroke-width="0.9"/>
<line x1="382.80" y1="414.50" x2="386.20" y2="414.50" stroke="#222" stroke-width="0.9"/>
<line x1="287.60" y1="431.90" x2="287.60" y2="434.90" stroke="#222" stroke-width="0.9"/>
<line x1="300.40" y1="431.90" x2="300.40" y2="434.90" stroke="#222" stroke-width="0.9"/>
<line x1="313.20" y1="431.90" x2="313.20" y2="434.90" stroke="#222" stroke-width="0.9"/>
<line x1="326.00" y1="431.90" x2="326.00" y2="434.90" stroke="#222" stroke-width="0.9"/>
<line x1="338.80" y1="431.90" x2="338.80" y2="434.90" stroke="#222" stroke-width="0.9"/>
<line x1="351.60" y1="431.90" x2="351.60" y2="434.90" stroke="#222" stroke-width="0.9"/>
<line x1="364.40" y1="431.90" x2="364.40" y2="434.90" stroke="#222" stroke-width="0.9"/>
<line x1="377.20" y1="431.90" x2="377.20" y2="434.90" stroke="#222" stroke-width="0.9"/>
<text x="272.20" y="365.90" font-size="6.6" font-weight="normal" font-style="normal" text-anchor="end" fill="#333" stroke="#333" stroke-width="0.12" >1.5</text>
<text x="272.20" y="382.80" font-size="6.6" font-weight="normal" font-style="normal" text-anchor="end" fill="#333" stroke="#333" stroke-width="0.12" >1.0</text>
<text x="272.20" y="399.90" font-size="6.6" font-weight="normal" font-style="normal" text-anchor="end" fill="#333" stroke="#333" stroke-width="0.12" >0.5</text>
<text x="272.20" y="416.80" font-size="6.6" font-weight="normal" font-style="normal" text-anchor="end" fill="#333" stroke="#333" stroke-width="0.12" >0.0</text>
<rect x="405.00" y="355.50" width="107.60" height="76.40" fill="none" stroke="#111" stroke-width="1.2"/>
<line x1="401.40" y1="363.60" x2="405.00" y2="363.60" stroke="#222" stroke-width="0.9"/>
<line x1="401.40" y1="380.50" x2="405.00" y2="380.50" stroke="#222" stroke-width="0.9"/>
<line x1="401.40" y1="397.60" x2="405.00" y2="397.60" stroke="#222" stroke-width="0.9"/>
<line x1="401.40" y1="414.50" x2="405.00" y2="414.50" stroke="#222" stroke-width="0.9"/>
<line x1="414.50" y1="431.90" x2="414.50" y2="434.90" stroke="#222" stroke-width="0.9"/>
<line x1="427.35" y1="431.90" x2="427.35" y2="434.90" stroke="#222" stroke-width="0.9"/>
<line x1="440.20" y1="431.90" x2="440.20" y2="434.90" stroke="#222" stroke-width="0.9"/>
<line x1="453.05" y1="431.90" x2="453.05" y2="434.90" stroke="#222" stroke-width="0.9"/>
<line x1="465.90" y1="431.90" x2="465.90" y2="434.90" stroke="#222" stroke-width="0.9"/>
<line x1="478.75" y1="431.90" x2="478.75" y2="434.90" stroke="#222" stroke-width="0.9"/>
<line x1="491.60" y1="431.90" x2="491.60" y2="434.90" stroke="#222" stroke-width="0.9"/>
<line x1="504.45" y1="431.90" x2="504.45" y2="434.90" stroke="#222" stroke-width="0.9"/>
<rect x="278.90" y="440.80" width="107.30" height="76.90" fill="none" stroke="#111" stroke-width="1.2"/>
<line x1="275.30" y1="448.70" x2="278.90" y2="448.70" stroke="#222" stroke-width="0.9"/>
<line x1="382.80" y1="448.70" x2="386.20" y2="448.70" stroke="#222" stroke-width="0.9"/>
<line x1="275.30" y1="466.30" x2="278.90" y2="466.30" stroke="#222" stroke-width="0.9"/>
<line x1="382.80" y1="466.30" x2="386.20" y2="466.30" stroke="#222" stroke-width="0.9"/>
<line x1="275.30" y1="483.90" x2="278.90" y2="483.90" stroke="#222" stroke-width="0.9"/>
<line x1="382.80" y1="483.90" x2="386.20" y2="483.90" stroke="#222" stroke-width="0.9"/>
<line x1="275.30" y1="501.50" x2="278.90" y2="501.50" stroke="#222" stroke-width="0.9"/>
<line x1="382.80" y1="501.50" x2="386.20" y2="501.50" stroke="#222" stroke-width="0.9"/>
<line x1="287.60" y1="517.70" x2="287.60" y2="520.70" stroke="#222" stroke-width="0.9"/>
<line x1="300.40" y1="517.70" x2="300.40" y2="520.70" stroke="#222" stroke-width="0.9"/>
<line x1="313.20" y1="517.70" x2="313.20" y2="520.70" stroke="#222" stroke-width="0.9"/>
<line x1="326.00" y1="517.70" x2="326.00" y2="520.70" stroke="#222" stroke-width="0.9"/>
<line x1="338.80" y1="517.70" x2="338.80" y2="520.70" stroke="#222" stroke-width="0.9"/>
<line x1="351.60" y1="517.70" x2="351.60" y2="520.70" stroke="#222" stroke-width="0.9"/>
<line x1="364.40" y1="517.70" x2="364.40" y2="520.70" stroke="#222" stroke-width="0.9"/>
<line x1="377.20" y1="517.70" x2="377.20" y2="520.70" stroke="#222" stroke-width="0.9"/>
<text x="272.20" y="451.00" font-size="6.6" font-weight="normal" font-style="normal" text-anchor="end" fill="#333" stroke="#333" stroke-width="0.12" >1.5</text>
<text x="272.20" y="468.60" font-size="6.6" font-weight="normal" font-style="normal" text-anchor="end" fill="#333" stroke="#333" stroke-width="0.12" >1.0</text>
<text x="272.20" y="486.20" font-size="6.6" font-weight="normal" font-style="normal" text-anchor="end" fill="#333" stroke="#333" stroke-width="0.12" >0.5</text>
<text x="272.20" y="503.80" font-size="6.6" font-weight="normal" font-style="normal" text-anchor="end" fill="#333" stroke="#333" stroke-width="0.12" >0.0</text>
<rect x="405.00" y="440.80" width="107.60" height="76.90" fill="none" stroke="#111" stroke-width="1.2"/>
<line x1="401.40" y1="448.70" x2="405.00" y2="448.70" stroke="#222" stroke-width="0.9"/>
<line x1="401.40" y1="466.30" x2="405.00" y2="466.30" stroke="#222" stroke-width="0.9"/>
<line x1="401.40" y1="483.90" x2="405.00" y2="483.90" stroke="#222" stroke-width="0.9"/>
<line x1="401.40" y1="501.50" x2="405.00" y2="501.50" stroke="#222" stroke-width="0.9"/>
<line x1="414.50" y1="517.70" x2="414.50" y2="520.70" stroke="#222" stroke-width="0.9"/>
<line x1="427.35" y1="517.70" x2="427.35" y2="520.70" stroke="#222" stroke-width="0.9"/>
<line x1="440.20" y1="517.70" x2="440.20" y2="520.70" stroke="#222" stroke-width="0.9"/>
<line x1="453.05" y1="517.70" x2="453.05" y2="520.70" stroke="#222" stroke-width="0.9"/>
<line x1="465.90" y1="517.70" x2="465.90" y2="520.70" stroke="#222" stroke-width="0.9"/>
<line x1="478.75" y1="517.70" x2="478.75" y2="520.70" stroke="#222" stroke-width="0.9"/>
<line x1="491.60" y1="517.70" x2="491.60" y2="520.70" stroke="#222" stroke-width="0.9"/>
<line x1="504.45" y1="517.70" x2="504.45" y2="520.70" stroke="#222" stroke-width="0.9"/>
<rect x="278.90" y="526.60" width="107.30" height="76.50" fill="none" stroke="#111" stroke-width="1.2"/>
<line x1="275.30" y1="534.50" x2="278.90" y2="534.50" stroke="#222" stroke-width="0.9"/>
<line x1="382.80" y1="534.50" x2="386.20" y2="534.50" stroke="#222" stroke-width="0.9"/>
<line x1="275.30" y1="552.00" x2="278.90" y2="552.00" stroke="#222" stroke-width="0.9"/>
<line x1="382.80" y1="552.00" x2="386.20" y2="552.00" stroke="#222" stroke-width="0.9"/>
<line x1="275.30" y1="569.60" x2="278.90" y2="569.60" stroke="#222" stroke-width="0.9"/>
<line x1="382.80" y1="569.60" x2="386.20" y2="569.60" stroke="#222" stroke-width="0.9"/>
<line x1="275.30" y1="587.20" x2="278.90" y2="587.20" stroke="#222" stroke-width="0.9"/>
<line x1="382.80" y1="587.20" x2="386.20" y2="587.20" stroke="#222" stroke-width="0.9"/>
<line x1="287.60" y1="603.10" x2="287.60" y2="606.10" stroke="#222" stroke-width="0.9"/>
<line x1="300.40" y1="603.10" x2="300.40" y2="606.10" stroke="#222" stroke-width="0.9"/>
<line x1="313.20" y1="603.10" x2="313.20" y2="606.10" stroke="#222" stroke-width="0.9"/>
<line x1="326.00" y1="603.10" x2="326.00" y2="606.10" stroke="#222" stroke-width="0.9"/>
<line x1="338.80" y1="603.10" x2="338.80" y2="606.10" stroke="#222" stroke-width="0.9"/>
<line x1="351.60" y1="603.10" x2="351.60" y2="606.10" stroke="#222" stroke-width="0.9"/>
<line x1="364.40" y1="603.10" x2="364.40" y2="606.10" stroke="#222" stroke-width="0.9"/>
<line x1="377.20" y1="603.10" x2="377.20" y2="606.10" stroke="#222" stroke-width="0.9"/>
<text x="272.20" y="536.80" font-size="6.6" font-weight="normal" font-style="normal" text-anchor="end" fill="#333" stroke="#333" stroke-width="0.12" >1.5</text>
<text x="272.20" y="554.30" font-size="6.6" font-weight="normal" font-style="normal" text-anchor="end" fill="#333" stroke="#333" stroke-width="0.12" >1.0</text>
<text x="272.20" y="571.90" font-size="6.6" font-weight="normal" font-style="normal" text-anchor="end" fill="#333" stroke="#333" stroke-width="0.12" >0.5</text>
<text x="272.20" y="589.50" font-size="6.6" font-weight="normal" font-style="normal" text-anchor="end" fill="#333" stroke="#333" stroke-width="0.12" >0.0</text>
<rect x="405.00" y="526.60" width="107.60" height="76.50" fill="none" stroke="#111" stroke-width="1.2"/>
<line x1="401.40" y1="534.50" x2="405.00" y2="534.50" stroke="#222" stroke-width="0.9"/>
<line x1="401.40" y1="552.00" x2="405.00" y2="552.00" stroke="#222" stroke-width="0.9"/>
<line x1="401.40" y1="569.60" x2="405.00" y2="569.60" stroke="#222" stroke-width="0.9"/>
<line x1="401.40" y1="587.20" x2="405.00" y2="587.20" stroke="#222" stroke-width="0.9"/>
<line x1="414.50" y1="603.10" x2="414.50" y2="606.10" stroke="#222" stroke-width="0.9"/>
<line x1="427.35" y1="603.10" x2="427.35" y2="606.10" stroke="#222" stroke-width="0.9"/>
<line x1="440.20" y1="603.10" x2="440.20" y2="606.10" stroke="#222" stroke-width="0.9"/>
<line x1="453.05" y1="603.10" x2="453.05" y2="606.10" stroke="#222" stroke-width="0.9"/>
<line x1="465.90" y1="603.10" x2="465.90" y2="606.10" stroke="#222" stroke-width="0.9"/>
<line x1="478.75" y1="603.10" x2="478.75" y2="606.10" stroke="#222" stroke-width="0.9"/>
<line x1="491.60" y1="603.10" x2="491.60" y2="606.10" stroke="#222" stroke-width="0.9"/>
<line x1="504.45" y1="603.10" x2="504.45" y2="606.10" stroke="#222" stroke-width="0.9"/>
<text x="357.00" y="367.00" font-size="6.8" font-weight="normal" font-style="normal" text-anchor="start" fill="#222" stroke="#222" stroke-width="0.12" >HSC</text>
<text x="486.10" y="365.80" font-size="6.8" font-weight="normal" font-style="normal" text-anchor="start" fill="#222" stroke="#222" stroke-width="0.12" >MPP</text>
<text x="357.70" y="452.00" font-size="6.8" font-weight="normal" font-style="normal" text-anchor="start" fill="#222" stroke="#222" stroke-width="0.12" >GMP</text>
<text x="486.40" y="452.90" font-size="6.8" font-weight="normal" font-style="normal" text-anchor="start" fill="#222" stroke="#222" stroke-width="0.12" >preDC</text>
<text x="357.70" y="537.00" font-size="6.8" font-weight="normal" font-style="normal" text-anchor="start" fill="#222" stroke="#222" stroke-width="0.12" >cDC2</text>
<text x="486.40" y="537.00" font-size="6.8" font-weight="normal" font-style="normal" text-anchor="start" fill="#222" stroke="#222" stroke-width="0.12" >Mono</text>
<path d="M286.95,364.40 L288.25,364.40 L287.90,356.10 L287.30,356.10Z" fill="#505050" fill-opacity="0.85"/>
<path d="M286.95,375.00 L288.25,375.00 L287.90,413.80 L287.30,413.80Z" fill="#505050" fill-opacity="0.85"/>
<path d="M287.60,362.90 L287.96,363.32 L288.43,363.75 L288.93,364.17 L289.44,364.60 L289.94,365.02 L290.43,365.45 L290.89,365.88 L291.33,366.30 L291.74,366.72 L292.11,367.15 L292.44,367.57 L292.72,368.00 L292.95,368.43 L293.13,368.85 L293.25,369.27 L293.30,369.70 L293.25,370.12 L293.13,370.55 L292.95,370.97 L292.72,371.40 L292.44,371.82 L292.11,372.25 L291.74,372.68 L291.33,373.10 L290.89,373.52 L290.43,373.95 L289.94,374.38 L289.44,374.80 L288.93,375.23 L288.43,375.65 L287.96,376.07 L287.60,376.50 L287.60,376.50 L287.24,376.07 L286.77,375.65 L286.27,375.23 L285.76,374.80 L285.26,374.38 L284.77,373.95 L284.31,373.52 L283.87,373.10 L283.46,372.68 L283.09,372.25 L282.76,371.82 L282.48,371.40 L282.25,370.97 L282.07,370.55 L281.95,370.12 L281.90,369.70 L281.95,369.27 L282.07,368.85 L282.25,368.43 L282.48,368.00 L282.76,367.57 L283.09,367.15 L283.46,366.72 L283.87,366.30 L284.31,365.88 L284.77,365.45 L285.26,365.02 L285.76,364.60 L286.27,364.17 L286.77,363.75 L287.24,363.32 L287.60,362.90Z" fill="#e47364" stroke="#303030" stroke-width="0.6" stroke-linejoin="round"/>
<path d="M299.75,394.00 L301.05,394.00 L300.70,384.50 L300.10,384.50Z" fill="#505050" fill-opacity="0.85"/>
<path d="M299.75,409.75 L301.05,409.75 L300.70,422.50 L300.10,422.50Z" fill="#505050" fill-opacity="0.85"/>
<path d="M300.40,392.50 L300.72,393.09 L301.13,393.69 L301.57,394.28 L302.01,394.88 L302.45,395.47 L302.88,396.06 L303.29,396.66 L303.67,397.25 L304.03,397.84 L304.35,398.44 L304.64,399.03 L304.89,399.62 L305.09,400.22 L305.25,400.81 L305.36,401.41 L305.40,402.00 L305.36,402.58 L305.25,403.16 L305.09,403.73 L304.89,404.31 L304.64,404.89 L304.35,405.47 L304.03,406.05 L303.67,406.62 L303.29,407.20 L302.88,407.78 L302.45,408.36 L302.01,408.94 L301.57,409.52 L301.13,410.09 L300.72,410.67 L300.40,411.25 L300.40,411.25 L300.08,410.67 L299.67,410.09 L299.23,409.52 L298.79,408.94 L298.35,408.36 L297.92,407.78 L297.51,407.20 L297.13,406.62 L296.77,406.05 L296.45,405.47 L296.16,404.89 L295.91,404.31 L295.71,403.73 L295.55,403.16 L295.44,402.58 L295.40,402.00 L295.44,401.41 L295.55,400.81 L295.71,400.22 L295.91,399.62 L296.16,399.03 L296.45,398.44 L296.77,397.84 L297.13,397.25 L297.51,396.66 L297.92,396.06 L298.35,395.47 L298.79,394.88 L299.23,394.28 L299.67,393.69 L300.08,393.09 L300.40,392.50Z" fill="#bcbc2c" stroke="#303030" stroke-width="0.6" stroke-linejoin="round"/>
<path d="M312.55,390.25 L313.85,390.25 L313.50,382.00 L312.90,382.00Z" fill="#505050" fill-opacity="0.85"/>
<path d="M312.55,413.50 L313.85,413.50 L313.50,417.50 L312.90,417.50Z" fill="#505050" fill-opacity="0.85"/>
<path d="M313.20,388.75 L313.55,389.45 L314.00,390.16 L314.48,390.86 L314.97,391.56 L315.46,392.27 L315.93,392.97 L316.38,393.67 L316.80,394.38 L317.19,395.08 L317.55,395.78 L317.87,396.48 L318.14,397.19 L318.36,397.89 L318.54,398.59 L318.65,399.30 L318.70,400.00 L318.65,400.94 L318.54,401.88 L318.36,402.81 L318.14,403.75 L317.87,404.69 L317.55,405.62 L317.19,406.56 L316.80,407.50 L316.38,408.44 L315.93,409.38 L315.46,410.31 L314.97,411.25 L314.48,412.19 L314.00,413.12 L313.55,414.06 L313.20,415.00 L313.20,415.00 L312.85,414.06 L312.40,413.12 L311.92,412.19 L311.43,411.25 L310.94,410.31 L310.47,409.38 L310.02,408.44 L309.60,407.50 L309.21,406.56 L308.85,405.62 L308.53,404.69 L308.26,403.75 L308.04,402.81 L307.86,401.88 L307.75,400.94 L307.70,400.00 L307.75,399.30 L307.86,398.59 L308.04,397.89 L308.26,397.19 L308.53,396.48 L308.85,395.78 L309.21,395.08 L309.60,394.38 L310.02,393.67 L310.47,392.97 L310.94,392.27 L311.43,391.56 L311.92,390.86 L312.40,390.16 L312.85,389.45 L313.20,388.75Z" fill="#6eba8e" stroke="#303030" stroke-width="0.6" stroke-linejoin="round"/>
<path d="M325.35,384.00 L326.65,384.00 L326.30,371.25 L325.70,371.25Z" fill="#505050" fill-opacity="0.85"/>
<path d="M325.35,402.25 L326.65,402.25 L326.30,420.00 L325.70,420.00Z" fill="#505050" fill-opacity="0.85"/>
<path d="M326.00,382.50 L326.35,383.20 L326.80,383.91 L327.28,384.61 L327.77,385.31 L328.26,386.02 L328.73,386.72 L329.18,387.42 L329.60,388.12 L329.99,388.83 L330.35,389.53 L330.67,390.23 L330.94,390.94 L331.16,391.64 L331.34,392.34 L331.45,393.05 L331.50,393.75 L331.45,394.38 L331.34,395.00 L331.16,395.62 L330.94,396.25 L330.67,396.88 L330.35,397.50 L329.99,398.12 L329.60,398.75 L329.18,399.38 L328.73,400.00 L328.26,400.62 L327.77,401.25 L327.28,401.88 L326.80,402.50 L326.35,403.12 L326.00,403.75 L326.00,403.75 L325.65,403.12 L325.20,402.50 L324.72,401.88 L324.23,401.25 L323.74,400.62 L323.27,400.00 L322.82,399.38 L322.40,398.75 L322.01,398.12 L321.65,397.50 L321.33,396.88 L321.06,396.25 L320.84,395.62 L320.66,395.00 L320.55,394.38 L320.50,393.75 L320.55,393.05 L320.66,392.34 L320.84,391.64 L321.06,390.94 L321.33,390.23 L321.65,389.53 L322.01,388.83 L322.40,388.12 L322.82,387.42 L323.27,386.72 L323.74,386.02 L324.23,385.31 L324.72,384.61 L325.20,383.91 L325.65,383.20 L326.00,382.50Z" fill="#72abe6" stroke="#303030" stroke-width="0.6" stroke-linejoin="round"/>
<path d="M338.15,385.25 L339.45,385.25 L339.10,372.50 L338.50,372.50Z" fill="#505050" fill-opacity="0.85"/>
<path d="M338.80,383.75 L339.18,384.77 L339.67,385.78 L340.20,386.80 L340.73,387.81 L341.26,388.83 L341.78,389.84 L342.27,390.86 L342.73,391.88 L343.16,392.89 L343.55,393.91 L343.89,394.92 L344.19,395.94 L344.43,396.95 L344.62,397.97 L344.75,398.98 L344.80,400.00 L344.75,401.41 L344.62,402.81 L344.43,404.22 L344.19,405.62 L343.89,407.03 L343.55,408.44 L343.16,409.84 L342.73,411.25 L342.27,412.66 L341.78,414.06 L341.26,415.47 L340.73,416.88 L340.20,418.28 L339.67,419.69 L339.18,421.09 L338.80,422.50 L338.80,422.50 L338.42,421.09 L337.93,419.69 L337.40,418.28 L336.87,416.88 L336.34,415.47 L335.82,414.06 L335.33,412.66 L334.87,411.25 L334.44,409.84 L334.05,408.44 L333.71,407.03 L333.41,405.62 L333.17,404.22 L332.98,402.81 L332.85,401.41 L332.80,400.00 L332.85,398.98 L332.98,397.97 L333.17,396.95 L333.41,395.94 L333.71,394.92 L334.05,393.91 L334.44,392.89 L334.87,391.88 L335.33,390.86 L335.82,389.84 L336.34,388.83 L336.87,387.81 L337.40,386.80 L337.93,385.78 L338.42,384.77 L338.80,383.75Z" fill="#d83a8c" stroke="#303030" stroke-width="0.6" stroke-linejoin="round"/>
<path d="M350.95,364.00 L352.25,364.00 L351.90,360.00 L351.30,360.00Z" fill="#505050" fill-opacity="0.85"/>
<path d="M351.90,362.50 L352.14,363.08 L352.48,363.80 L352.90,364.65 L353.36,365.61 L353.84,366.66 L354.31,367.77 L354.75,368.93 L355.13,370.12 L355.42,371.31 L355.60,372.50 L355.64,373.71 L355.57,374.97 L355.40,376.28 L355.18,377.62 L354.92,379.00 L354.66,380.40 L354.43,381.80 L354.25,383.21 L354.17,384.61 L354.20,386.00 L354.37,387.38 L354.68,388.75 L355.07,390.13 L355.52,391.52 L356.00,392.91 L356.47,394.30 L356.90,395.71 L357.25,397.13 L357.50,398.56 L357.60,400.00 L357.56,401.46 L357.40,402.94 L357.16,404.44 L356.85,405.95 L356.48,407.47 L356.09,408.99 L355.68,410.51 L355.28,412.02 L354.92,413.52 L354.60,415.00 L354.31,416.54 L354.00,418.16 L353.68,419.84 L353.37,421.53 L353.06,423.19 L352.77,424.77 L352.50,426.23 L352.26,427.54 L352.06,428.64 L351.90,429.50 L351.30,429.50 L351.14,428.64 L350.94,427.54 L350.70,426.23 L350.43,424.77 L350.14,423.19 L349.83,421.53 L349.52,419.84 L349.20,418.16 L348.89,416.54 L348.60,415.00 L348.28,413.52 L347.92,412.02 L347.52,410.51 L347.11,408.99 L346.72,407.47 L346.35,405.95 L346.04,404.44 L345.80,402.94 L345.64,401.46 L345.60,400.00 L345.70,398.56 L345.95,397.13 L346.30,395.71 L346.73,394.30 L347.20,392.91 L347.68,391.52 L348.13,390.13 L348.52,388.75 L348.83,387.38 L349.00,386.00 L349.03,384.61 L348.95,383.21 L348.77,381.80 L348.54,380.40 L348.28,379.00 L348.02,377.62 L347.80,376.28 L347.63,374.97 L347.56,373.71 L347.60,372.50 L347.78,371.31 L348.07,370.12 L348.45,368.93 L348.89,367.77 L349.36,366.66 L349.84,365.61 L350.30,364.65 L350.72,363.80 L351.06,363.08 L351.30,362.50Z" fill="#3a2898" stroke="#303030" stroke-width="0.6" stroke-linejoin="round"/>
<path d="M363.75,380.25 L365.05,380.25 L364.70,373.75 L364.10,373.75Z" fill="#505050" fill-opacity="0.85"/>
<path d="M363.75,399.75 L365.05,399.75 L364.70,417.50 L364.10,417.50Z" fill="#505050" fill-opacity="0.85"/>
<path d="M364.40,378.75 L364.78,379.38 L365.27,380.00 L365.80,380.62 L366.33,381.25 L366.86,381.88 L367.38,382.50 L367.87,383.12 L368.33,383.75 L368.76,384.38 L369.15,385.00 L369.49,385.62 L369.79,386.25 L370.03,386.88 L370.22,387.50 L370.35,388.12 L370.40,388.75 L370.35,389.53 L370.22,390.31 L370.03,391.09 L369.79,391.88 L369.49,392.66 L369.15,393.44 L368.76,394.22 L368.33,395.00 L367.87,395.78 L367.38,396.56 L366.86,397.34 L366.33,398.12 L365.80,398.91 L365.27,399.69 L364.78,400.47 L364.40,401.25 L364.40,401.25 L364.02,400.47 L363.53,399.69 L363.00,398.91 L362.47,398.12 L361.94,397.34 L361.42,396.56 L360.93,395.78 L360.47,395.00 L360.04,394.22 L359.65,393.44 L359.31,392.66 L359.01,391.88 L358.77,391.09 L358.58,390.31 L358.45,389.53 L358.40,388.75 L358.45,388.12 L358.58,387.50 L358.77,386.88 L359.01,386.25 L359.31,385.62 L359.65,385.00 L360.04,384.38 L360.47,383.75 L360.93,383.12 L361.42,382.50 L361.94,381.88 L362.47,381.25 L363.00,380.62 L363.53,380.00 L364.02,379.38 L364.40,378.75Z" fill="#8c7dc8" stroke="#303030" stroke-width="0.6" stroke-linejoin="round"/>
<path d="M376.55,380.00 L377.85,380.00 L377.50,354.00 L376.90,354.00Z" fill="#505050" fill-opacity="0.85"/>
<path d="M376.55,402.80 L377.85,402.80 L377.50,410.50 L376.90,410.50Z" fill="#505050" fill-opacity="0.85"/>
<path d="M377.20,378.50 L377.55,379.27 L378.01,380.04 L378.51,380.81 L379.00,381.57 L379.50,382.34 L379.98,383.11 L380.44,383.88 L380.87,384.65 L381.27,385.42 L381.63,386.19 L381.95,386.96 L382.23,387.73 L382.46,388.49 L382.63,389.26 L382.75,390.03 L382.80,390.80 L382.75,391.64 L382.63,392.49 L382.46,393.33 L382.23,394.18 L381.95,395.02 L381.63,395.86 L381.27,396.71 L380.87,397.55 L380.44,398.39 L379.98,399.24 L379.50,400.08 L379.00,400.93 L378.51,401.77 L378.01,402.61 L377.55,403.46 L377.20,404.30 L377.20,404.30 L376.85,403.46 L376.39,402.61 L375.89,401.77 L375.40,400.93 L374.90,400.08 L374.42,399.24 L373.96,398.39 L373.53,397.55 L373.13,396.71 L372.77,395.86 L372.45,395.02 L372.17,394.18 L371.94,393.33 L371.77,392.49 L371.65,391.64 L371.60,390.80 L371.65,390.03 L371.77,389.26 L371.94,388.49 L372.17,387.73 L372.45,386.96 L372.77,386.19 L373.13,385.42 L373.53,384.65 L373.96,383.88 L374.42,383.11 L374.90,382.34 L375.40,381.57 L375.89,380.81 L376.39,380.04 L376.85,379.27 L377.20,378.50Z" fill="#36716a" stroke="#303030" stroke-width="0.6" stroke-linejoin="round"/>
<path d="M413.85,378.70 L415.15,378.70 L414.80,372.40 L414.20,372.40Z" fill="#505050" fill-opacity="0.85"/>
<path d="M413.85,387.20 L415.15,387.20 L414.80,416.60 L414.20,416.60Z" fill="#505050" fill-opacity="0.85"/>
<path d="M414.50,377.20 L414.88,377.54 L415.37,377.88 L415.90,378.21 L416.43,378.55 L416.96,378.89 L417.48,379.23 L417.97,379.56 L418.43,379.90 L418.86,380.24 L419.25,380.57 L419.59,380.91 L419.89,381.25 L420.13,381.59 L420.32,381.93 L420.45,382.26 L420.50,382.60 L420.45,382.98 L420.32,383.36 L420.13,383.74 L419.89,384.12 L419.59,384.51 L419.25,384.89 L418.86,385.27 L418.43,385.65 L417.97,386.03 L417.48,386.41 L416.96,386.79 L416.43,387.18 L415.90,387.56 L415.37,387.94 L414.88,388.32 L414.50,388.70 L414.50,388.70 L414.12,388.32 L413.63,387.94 L413.10,387.56 L412.57,387.18 L412.04,386.79 L411.52,386.41 L411.03,386.03 L410.57,385.65 L410.14,385.27 L409.75,384.89 L409.41,384.51 L409.11,384.12 L408.87,383.74 L408.68,383.36 L408.55,382.98 L408.50,382.60 L408.55,382.26 L408.68,381.93 L408.87,381.59 L409.11,381.25 L409.41,380.91 L409.75,380.57 L410.14,380.24 L410.57,379.90 L411.03,379.56 L411.52,379.23 L412.04,378.89 L412.57,378.55 L413.10,378.21 L413.63,377.88 L414.12,377.54 L414.50,377.20Z" fill="#e47364" stroke="#303030" stroke-width="0.6" stroke-linejoin="round"/>
<path d="M426.70,402.80 L428.00,402.80 L427.65,393.30 L427.05,393.30Z" fill="#505050" fill-opacity="0.85"/>
<path d="M426.70,414.10 L428.00,414.10 L427.65,422.90 L427.05,422.90Z" fill="#505050" fill-opacity="0.85"/>
<path d="M427.35,401.30 L427.65,401.72 L428.05,402.14 L428.47,402.56 L428.90,402.98 L429.32,403.39 L429.73,403.81 L430.12,404.23 L430.49,404.65 L430.84,405.07 L431.15,405.49 L431.42,405.91 L431.66,406.32 L431.86,406.74 L432.01,407.16 L432.11,407.58 L432.15,408.00 L432.11,408.48 L432.01,408.95 L431.86,409.43 L431.66,409.90 L431.42,410.38 L431.15,410.85 L430.84,411.32 L430.49,411.80 L430.12,412.28 L429.73,412.75 L429.32,413.23 L428.90,413.70 L428.47,414.18 L428.05,414.65 L427.65,415.12 L427.35,415.60 L427.35,415.60 L427.05,415.12 L426.65,414.65 L426.23,414.18 L425.80,413.70 L425.38,413.23 L424.97,412.75 L424.58,412.28 L424.21,411.80 L423.86,411.32 L423.55,410.85 L423.28,410.38 L423.04,409.90 L422.84,409.43 L422.69,408.95 L422.59,408.48 L422.55,408.00 L422.59,407.58 L422.69,407.16 L422.84,406.74 L423.04,406.32 L423.28,405.91 L423.55,405.49 L423.86,405.07 L424.21,404.65 L424.58,404.23 L424.97,403.81 L425.38,403.39 L425.80,402.98 L426.23,402.56 L426.65,402.14 L427.05,401.72 L427.35,401.30Z" fill="#bcbc2c" stroke="#303030" stroke-width="0.6" stroke-linejoin="round"/>
<path d="M439.55,397.50 L440.85,397.50 L440.50,392.00 L439.90,392.00Z" fill="#505050" fill-opacity="0.85"/>
<path d="M439.55,414.50 L440.85,414.50 L440.50,420.20 L439.90,420.20Z" fill="#505050" fill-opacity="0.85"/>
<path d="M440.20,396.00 L440.54,396.64 L440.98,397.27 L441.46,397.91 L441.94,398.55 L442.42,399.19 L442.88,399.82 L443.32,400.46 L443.74,401.10 L444.12,401.74 L444.47,402.38 L444.78,403.01 L445.05,403.65 L445.27,404.29 L445.44,404.93 L445.55,405.56 L445.60,406.20 L445.55,406.81 L445.44,407.43 L445.27,408.04 L445.05,408.65 L444.78,409.26 L444.47,409.88 L444.12,410.49 L443.74,411.10 L443.32,411.71 L442.88,412.32 L442.42,412.94 L441.94,413.55 L441.46,414.16 L440.98,414.77 L440.54,415.39 L440.20,416.00 L440.20,416.00 L439.86,415.39 L439.42,414.77 L438.94,414.16 L438.46,413.55 L437.98,412.94 L437.52,412.32 L437.08,411.71 L436.66,411.10 L436.28,410.49 L435.93,409.88 L435.62,409.26 L435.35,408.65 L435.13,408.04 L434.96,407.43 L434.85,406.81 L434.80,406.20 L434.85,405.56 L434.96,404.93 L435.13,404.29 L435.35,403.65 L435.62,403.01 L435.93,402.38 L436.28,401.74 L436.66,401.10 L437.08,400.46 L437.52,399.82 L437.98,399.19 L438.46,398.55 L438.94,397.91 L439.42,397.27 L439.86,396.64 L440.20,396.00Z" fill="#6eba8e" stroke="#303030" stroke-width="0.6" stroke-linejoin="round"/>
<path d="M452.40,392.90 L453.70,392.90 L453.35,383.80 L452.75,383.80Z" fill="#505050" fill-opacity="0.85"/>
<path d="M452.40,409.30 L453.70,409.30 L453.35,421.50 L452.75,421.50Z" fill="#505050" fill-opacity="0.85"/>
<path d="M453.05,391.40 L453.39,391.97 L453.83,392.54 L454.31,393.11 L454.79,393.67 L455.27,394.24 L455.73,394.81 L456.17,395.38 L456.59,395.95 L456.97,396.52 L457.32,397.09 L457.63,397.66 L457.90,398.23 L458.12,398.79 L458.29,399.36 L458.40,399.93 L458.45,400.50 L458.40,401.14 L458.29,401.79 L458.12,402.43 L457.90,403.07 L457.63,403.72 L457.32,404.36 L456.97,405.01 L456.59,405.65 L456.17,406.29 L455.73,406.94 L455.27,407.58 L454.79,408.23 L454.31,408.87 L453.83,409.51 L453.39,410.16 L453.05,410.80 L453.05,410.80 L452.71,410.16 L452.27,409.51 L451.79,408.87 L451.31,408.23 L450.83,407.58 L450.37,406.94 L449.93,406.29 L449.51,405.65 L449.13,405.01 L448.78,404.36 L448.47,403.72 L448.20,403.07 L447.98,402.43 L447.81,401.79 L447.70,401.14 L447.65,400.50 L447.70,399.93 L447.81,399.36 L447.98,398.79 L448.20,398.23 L448.47,397.66 L448.78,397.09 L449.13,396.52 L449.51,395.95 L449.93,395.38 L450.37,394.81 L450.83,394.24 L451.31,393.67 L451.79,393.11 L452.27,392.54 L452.71,391.97 L453.05,391.40Z" fill="#72abe6" stroke="#303030" stroke-width="0.6" stroke-linejoin="round"/>
<path d="M465.25,396.10 L466.55,396.10 L466.20,385.20 L465.60,385.20Z" fill="#505050" fill-opacity="0.85"/>
<path d="M465.90,394.60 L466.27,395.36 L466.76,396.11 L467.27,396.87 L467.80,397.62 L468.32,398.38 L468.83,399.14 L469.31,399.89 L469.76,400.65 L470.18,401.41 L470.57,402.16 L470.91,402.92 L471.20,403.68 L471.44,404.43 L471.63,405.19 L471.75,405.94 L471.80,406.70 L471.75,407.79 L471.63,408.89 L471.44,409.98 L471.20,411.07 L470.91,412.17 L470.57,413.26 L470.18,414.36 L469.76,415.45 L469.31,416.54 L468.83,417.64 L468.32,418.73 L467.80,419.82 L467.27,420.92 L466.76,422.01 L466.27,423.11 L465.90,424.20 L465.90,424.20 L465.53,423.11 L465.04,422.01 L464.53,420.92 L464.00,419.82 L463.48,418.73 L462.97,417.64 L462.49,416.54 L462.04,415.45 L461.62,414.36 L461.23,413.26 L460.89,412.17 L460.60,411.07 L460.36,409.98 L460.17,408.89 L460.05,407.79 L460.00,406.70 L460.05,405.94 L460.17,405.19 L460.36,404.43 L460.60,403.68 L460.89,402.92 L461.23,402.16 L461.62,401.41 L462.04,400.65 L462.49,399.89 L462.97,399.14 L463.48,398.38 L464.00,397.62 L464.53,396.87 L465.04,396.11 L465.53,395.36 L465.90,394.60Z" fill="#d83a8c" stroke="#303030" stroke-width="0.6" stroke-linejoin="round"/>
<path d="M479.05,377.00 L479.35,377.66 L479.77,378.51 L480.28,379.52 L480.84,380.65 L481.43,381.86 L482.01,383.12 L482.54,384.40 L483.00,385.64 L483.35,386.82 L483.55,387.90 L483.58,388.90 L483.47,389.88 L483.24,390.83 L482.93,391.77 L482.58,392.69 L482.23,393.61 L481.90,394.53 L481.64,395.44 L481.48,396.37 L481.45,397.30 L481.58,398.23 L481.85,399.15 L482.21,400.06 L482.64,400.97 L483.10,401.88 L483.55,402.80 L483.97,403.74 L484.32,404.70 L484.55,405.68 L484.65,406.70 L484.61,407.75 L484.46,408.83 L484.22,409.94 L483.92,411.07 L483.57,412.21 L483.19,413.37 L482.80,414.53 L482.41,415.69 L482.06,416.85 L481.75,418.00 L481.46,419.20 L481.15,420.49 L480.84,421.82 L480.53,423.18 L480.22,424.51 L479.93,425.78 L479.66,426.96 L479.41,428.02 L479.21,428.91 L479.05,429.60 L478.45,429.60 L478.29,428.91 L478.09,428.02 L477.84,426.96 L477.57,425.78 L477.28,424.51 L476.97,423.18 L476.66,421.82 L476.35,420.49 L476.04,419.20 L475.75,418.00 L475.44,416.85 L475.09,415.69 L474.70,414.53 L474.31,413.37 L473.93,412.21 L473.58,411.07 L473.28,409.94 L473.04,408.83 L472.89,407.75 L472.85,406.70 L472.95,405.68 L473.18,404.70 L473.53,403.74 L473.95,402.80 L474.40,401.88 L474.86,400.97 L475.29,400.06 L475.65,399.15 L475.92,398.23 L476.05,397.30 L476.02,396.37 L475.86,395.44 L475.60,394.53 L475.27,393.61 L474.92,392.69 L474.57,391.77 L474.26,390.83 L474.03,389.88 L473.92,388.90 L473.95,387.90 L474.15,386.82 L474.50,385.64 L474.96,384.40 L475.49,383.12 L476.07,381.86 L476.66,380.65 L477.22,379.52 L477.73,378.51 L478.15,377.66 L478.45,377.00Z" fill="#3a2898" stroke="#303030" stroke-width="0.6" stroke-linejoin="round"/>
<path d="M490.95,392.20 L492.25,392.20 L491.90,386.00 L491.30,386.00Z" fill="#505050" fill-opacity="0.85"/>
<path d="M490.95,405.50 L492.25,405.50 L491.90,419.90 L491.30,419.90Z" fill="#505050" fill-opacity="0.85"/>
<path d="M491.60,390.70 L491.96,391.17 L492.43,391.64 L492.93,392.11 L493.44,392.57 L493.94,393.04 L494.43,393.51 L494.89,393.98 L495.33,394.45 L495.74,394.92 L496.11,395.39 L496.44,395.86 L496.72,396.32 L496.95,396.79 L497.13,397.26 L497.25,397.73 L497.30,398.20 L497.25,398.75 L497.13,399.30 L496.95,399.85 L496.72,400.40 L496.44,400.95 L496.11,401.50 L495.74,402.05 L495.33,402.60 L494.89,403.15 L494.43,403.70 L493.94,404.25 L493.44,404.80 L492.93,405.35 L492.43,405.90 L491.96,406.45 L491.60,407.00 L491.60,407.00 L491.24,406.45 L490.77,405.90 L490.27,405.35 L489.76,404.80 L489.26,404.25 L488.77,403.70 L488.31,403.15 L487.87,402.60 L487.46,402.05 L487.09,401.50 L486.76,400.95 L486.48,400.40 L486.25,399.85 L486.07,399.30 L485.95,398.75 L485.90,398.20 L485.95,397.73 L486.07,397.26 L486.25,396.79 L486.48,396.32 L486.76,395.86 L487.09,395.39 L487.46,394.92 L487.87,394.45 L488.31,393.98 L488.77,393.51 L489.26,393.04 L489.76,392.57 L490.27,392.11 L490.77,391.64 L491.24,391.17 L491.60,390.70Z" fill="#8c7dc8" stroke="#303030" stroke-width="0.6" stroke-linejoin="round"/>
<path d="M503.80,392.20 L505.10,392.20 L504.75,369.70 L504.15,369.70Z" fill="#505050" fill-opacity="0.85"/>
<path d="M503.80,408.20 L505.10,408.20 L504.75,413.80 L504.15,413.80Z" fill="#505050" fill-opacity="0.85"/>
<path d="M504.45,390.70 L504.83,391.21 L505.32,391.71 L505.85,392.22 L506.38,392.73 L506.91,393.23 L507.43,393.74 L507.92,394.24 L508.38,394.75 L508.81,395.26 L509.20,395.76 L509.54,396.27 L509.84,396.77 L510.08,397.28 L510.27,397.79 L510.40,398.29 L510.45,398.80 L510.40,399.48 L510.27,400.16 L510.08,400.84 L509.84,401.52 L509.54,402.21 L509.20,402.89 L508.81,403.57 L508.38,404.25 L507.92,404.93 L507.43,405.61 L506.91,406.29 L506.38,406.98 L505.85,407.66 L505.32,408.34 L504.83,409.02 L504.45,409.70 L504.45,409.70 L504.07,409.02 L503.58,408.34 L503.05,407.66 L502.52,406.98 L501.99,406.29 L501.47,405.61 L500.98,404.93 L500.52,404.25 L500.09,403.57 L499.70,402.89 L499.36,402.21 L499.06,401.52 L498.82,400.84 L498.63,400.16 L498.50,399.48 L498.45,398.80 L498.50,398.29 L498.63,397.79 L498.82,397.28 L499.06,396.77 L499.36,396.27 L499.70,395.76 L500.09,395.26 L500.52,394.75 L500.98,394.24 L501.47,393.74 L501.99,393.23 L502.52,392.73 L503.05,392.22 L503.58,391.71 L504.07,391.21 L504.45,390.70Z" fill="#36716a" stroke="#303030" stroke-width="0.6" stroke-linejoin="round"/>
<path d="M286.95,475.90 L288.25,475.90 L287.90,451.00 L287.30,451.00Z" fill="#505050" fill-opacity="0.85"/>
<path d="M286.95,494.50 L288.25,494.50 L287.90,512.00 L287.30,512.00Z" fill="#505050" fill-opacity="0.85"/>
<path d="M287.60,474.40 L287.97,474.99 L288.46,475.57 L288.97,476.16 L289.50,476.75 L290.02,477.34 L290.53,477.93 L291.01,478.51 L291.46,479.10 L291.88,479.69 L292.27,480.27 L292.61,480.86 L292.90,481.45 L293.14,482.04 L293.33,482.62 L293.45,483.21 L293.50,483.80 L293.45,484.56 L293.33,485.32 L293.14,486.09 L292.90,486.85 L292.61,487.61 L292.27,488.38 L291.88,489.14 L291.46,489.90 L291.01,490.66 L290.53,491.43 L290.02,492.19 L289.50,492.95 L288.97,493.71 L288.46,494.48 L287.97,495.24 L287.60,496.00 L287.60,496.00 L287.23,495.24 L286.74,494.48 L286.23,493.71 L285.70,492.95 L285.18,492.19 L284.67,491.43 L284.19,490.66 L283.74,489.90 L283.32,489.14 L282.93,488.38 L282.59,487.61 L282.30,486.85 L282.06,486.09 L281.87,485.32 L281.75,484.56 L281.70,483.80 L281.75,483.21 L281.87,482.62 L282.06,482.04 L282.30,481.45 L282.59,480.86 L282.93,480.27 L283.32,479.69 L283.74,479.10 L284.19,478.51 L284.67,477.93 L285.18,477.34 L285.70,476.75 L286.23,476.16 L286.74,475.57 L287.23,474.99 L287.60,474.40Z" fill="#e47364" stroke="#303030" stroke-width="0.6" stroke-linejoin="round"/>
<path d="M299.75,486.70 L301.05,486.70 L300.70,478.50 L300.10,478.50Z" fill="#505050" fill-opacity="0.85"/>
<path d="M299.75,505.20 L301.05,505.20 L300.70,513.50 L300.10,513.50Z" fill="#505050" fill-opacity="0.85"/>
<path d="M300.40,485.20 L300.74,485.88 L301.18,486.55 L301.66,487.22 L302.14,487.90 L302.62,488.57 L303.08,489.25 L303.52,489.93 L303.94,490.60 L304.32,491.27 L304.67,491.95 L304.98,492.62 L305.25,493.30 L305.47,493.98 L305.64,494.65 L305.75,495.32 L305.80,496.00 L305.75,496.67 L305.64,497.34 L305.47,498.01 L305.25,498.68 L304.98,499.34 L304.67,500.01 L304.32,500.68 L303.94,501.35 L303.52,502.02 L303.08,502.69 L302.62,503.36 L302.14,504.02 L301.66,504.69 L301.18,505.36 L300.74,506.03 L300.40,506.70 L300.40,506.70 L300.06,506.03 L299.62,505.36 L299.14,504.69 L298.66,504.02 L298.18,503.36 L297.72,502.69 L297.28,502.02 L296.86,501.35 L296.48,500.68 L296.13,500.01 L295.82,499.34 L295.55,498.68 L295.33,498.01 L295.16,497.34 L295.05,496.67 L295.00,496.00 L295.05,495.32 L295.16,494.65 L295.33,493.98 L295.55,493.30 L295.82,492.62 L296.13,491.95 L296.48,491.27 L296.86,490.60 L297.28,489.93 L297.72,489.25 L298.18,488.57 L298.66,487.90 L299.14,487.22 L299.62,486.55 L300.06,485.88 L300.40,485.20Z" fill="#bcbc2c" stroke="#303030" stroke-width="0.6" stroke-linejoin="round"/>
<path d="M312.55,484.00 L313.85,484.00 L313.50,455.60 L312.90,455.60Z" fill="#505050" fill-opacity="0.85"/>
<path d="M313.20,482.50 L313.54,483.26 L313.98,484.01 L314.46,484.77 L314.94,485.52 L315.42,486.28 L315.88,487.04 L316.32,487.79 L316.74,488.55 L317.12,489.31 L317.47,490.06 L317.78,490.82 L318.05,491.58 L318.27,492.33 L318.44,493.09 L318.55,493.84 L318.60,494.60 L318.55,495.44 L318.44,496.28 L318.27,497.11 L318.05,497.95 L317.78,498.79 L317.47,499.62 L317.12,500.46 L316.74,501.30 L316.32,502.14 L315.88,502.98 L315.42,503.81 L314.94,504.65 L314.46,505.49 L313.98,506.32 L313.54,507.16 L313.20,508.00 L313.20,508.00 L312.86,507.16 L312.42,506.32 L311.94,505.49 L311.46,504.65 L310.98,503.81 L310.52,502.98 L310.08,502.14 L309.66,501.30 L309.28,500.46 L308.93,499.62 L308.62,498.79 L308.35,497.95 L308.13,497.11 L307.96,496.28 L307.85,495.44 L307.80,494.60 L307.85,493.84 L307.96,493.09 L308.13,492.33 L308.35,491.58 L308.62,490.82 L308.93,490.06 L309.28,489.31 L309.66,488.55 L310.08,487.79 L310.52,487.04 L310.98,486.28 L311.46,485.52 L311.94,484.77 L312.42,484.01 L312.86,483.26 L313.20,482.50Z" fill="#6eba8e" stroke="#303030" stroke-width="0.6" stroke-linejoin="round"/>
<path d="M325.35,473.20 L326.65,473.20 L326.30,458.30 L325.70,458.30Z" fill="#505050" fill-opacity="0.85"/>
<path d="M325.35,491.80 L326.65,491.80 L326.30,512.00 L325.70,512.00Z" fill="#505050" fill-opacity="0.85"/>
<path d="M326.00,471.70 L326.37,472.46 L326.86,473.21 L327.37,473.97 L327.90,474.73 L328.42,475.48 L328.93,476.24 L329.41,476.99 L329.86,477.75 L330.28,478.51 L330.67,479.26 L331.01,480.02 L331.30,480.77 L331.54,481.53 L331.73,482.29 L331.85,483.04 L331.90,483.80 L331.85,484.39 L331.73,484.99 L331.54,485.58 L331.30,486.18 L331.01,486.77 L330.67,487.36 L330.28,487.96 L329.86,488.55 L329.41,489.14 L328.93,489.74 L328.42,490.33 L327.90,490.93 L327.37,491.52 L326.86,492.11 L326.37,492.71 L326.00,493.30 L326.00,493.30 L325.63,492.71 L325.14,492.11 L324.63,491.52 L324.10,490.93 L323.58,490.33 L323.07,489.74 L322.59,489.14 L322.14,488.55 L321.72,487.96 L321.33,487.36 L320.99,486.77 L320.70,486.18 L320.46,485.58 L320.27,484.99 L320.15,484.39 L320.10,483.80 L320.15,483.04 L320.27,482.29 L320.46,481.53 L320.70,480.77 L320.99,480.02 L321.33,479.26 L321.72,478.51 L322.14,477.75 L322.59,476.99 L323.07,476.24 L323.58,475.48 L324.10,474.73 L324.63,473.97 L325.14,473.21 L325.63,472.46 L326.00,471.70Z" fill="#72abe6" stroke="#303030" stroke-width="0.6" stroke-linejoin="round"/>
<path d="M338.15,488.00 L339.45,488.00 L339.10,483.80 L338.50,483.80Z" fill="#505050" fill-opacity="0.85"/>
<path d="M338.80,486.50 L339.14,487.18 L339.58,487.85 L340.06,488.52 L340.54,489.20 L341.02,489.88 L341.48,490.55 L341.92,491.23 L342.34,491.90 L342.72,492.57 L343.07,493.25 L343.38,493.93 L343.65,494.60 L343.87,495.28 L344.04,495.95 L344.15,496.62 L344.20,497.30 L344.15,498.31 L344.04,499.32 L343.87,500.34 L343.65,501.35 L343.38,502.36 L343.07,503.38 L342.72,504.39 L342.34,505.40 L341.92,506.41 L341.48,507.43 L341.02,508.44 L340.54,509.45 L340.06,510.46 L339.58,511.48 L339.14,512.49 L338.80,513.50 L338.80,513.50 L338.46,512.49 L338.02,511.48 L337.54,510.46 L337.06,509.45 L336.58,508.44 L336.12,507.43 L335.68,506.41 L335.26,505.40 L334.88,504.39 L334.53,503.38 L334.22,502.36 L333.95,501.35 L333.73,500.34 L333.56,499.32 L333.45,498.31 L333.40,497.30 L333.45,496.62 L333.56,495.95 L333.73,495.28 L333.95,494.60 L334.22,493.93 L334.53,493.25 L334.88,492.57 L335.26,491.90 L335.68,491.23 L336.12,490.55 L336.58,489.88 L337.06,489.20 L337.54,488.52 L338.02,487.85 L338.46,487.18 L338.80,486.50Z" fill="#d83a8c" stroke="#303030" stroke-width="0.6" stroke-linejoin="round"/>
<path d="M350.95,474.50 L352.25,474.50 L351.90,463.60 L351.30,463.60Z" fill="#505050" fill-opacity="0.85"/>
<path d="M351.60,473.00 L352.01,474.35 L352.54,475.70 L353.11,477.05 L353.69,478.40 L354.27,479.75 L354.83,481.10 L355.36,482.45 L355.86,483.80 L356.32,485.15 L356.74,486.50 L357.11,487.85 L357.44,489.20 L357.70,490.55 L357.91,491.90 L358.04,493.25 L358.10,494.60 L358.04,496.11 L357.91,497.62 L357.70,499.14 L357.44,500.65 L357.11,502.16 L356.74,503.68 L356.32,505.19 L355.86,506.70 L355.36,508.21 L354.83,509.72 L354.27,511.24 L353.69,512.75 L353.11,514.26 L352.54,515.77 L352.01,517.29 L351.60,518.80 L351.60,518.80 L351.19,517.29 L350.66,515.77 L350.09,514.26 L349.51,512.75 L348.93,511.24 L348.37,509.72 L347.84,508.21 L347.34,506.70 L346.88,505.19 L346.46,503.68 L346.09,502.16 L345.76,500.65 L345.50,499.14 L345.29,497.62 L345.16,496.11 L345.10,494.60 L345.16,493.25 L345.29,491.90 L345.50,490.55 L345.76,489.20 L346.09,487.85 L346.46,486.50 L346.88,485.15 L347.34,483.80 L347.84,482.45 L348.37,481.10 L348.93,479.75 L349.51,478.40 L350.09,477.05 L350.66,475.70 L351.19,474.35 L351.60,473.00Z" fill="#3a2898" stroke="#303030" stroke-width="0.6" stroke-linejoin="round"/>
<path d="M363.75,486.70 L365.05,486.70 L364.70,465.00 L364.10,465.00Z" fill="#505050" fill-opacity="0.85"/>
<path d="M363.75,497.20 L365.05,497.20 L364.70,516.00 L364.10,516.00Z" fill="#505050" fill-opacity="0.85"/>
<path d="M364.40,485.20 L364.74,485.66 L365.18,486.11 L365.66,486.57 L366.14,487.02 L366.62,487.48 L367.08,487.94 L367.52,488.39 L367.94,488.85 L368.32,489.31 L368.67,489.76 L368.98,490.22 L369.25,490.68 L369.47,491.13 L369.64,491.59 L369.75,492.04 L369.80,492.50 L369.75,492.89 L369.64,493.27 L369.47,493.66 L369.25,494.05 L368.98,494.44 L368.67,494.82 L368.32,495.21 L367.94,495.60 L367.52,495.99 L367.08,496.38 L366.62,496.76 L366.14,497.15 L365.66,497.54 L365.18,497.93 L364.74,498.31 L364.40,498.70 L364.40,498.70 L364.06,498.31 L363.62,497.93 L363.14,497.54 L362.66,497.15 L362.18,496.76 L361.72,496.38 L361.28,495.99 L360.86,495.60 L360.48,495.21 L360.13,494.82 L359.82,494.44 L359.55,494.05 L359.33,493.66 L359.16,493.27 L359.05,492.89 L359.00,492.50 L359.05,492.04 L359.16,491.59 L359.33,491.13 L359.55,490.68 L359.82,490.22 L360.13,489.76 L360.48,489.31 L360.86,488.85 L361.28,488.39 L361.72,487.94 L362.18,487.48 L362.66,487.02 L363.14,486.57 L363.62,486.11 L364.06,485.66 L364.40,485.20Z" fill="#8c7dc8" stroke="#303030" stroke-width="0.6" stroke-linejoin="round"/>
<path d="M376.55,471.90 L377.85,471.90 L377.50,448.80 L376.90,448.80Z" fill="#505050" fill-opacity="0.85"/>
<path d="M376.55,495.80 L377.85,495.80 L377.50,504.00 L376.90,504.00Z" fill="#505050" fill-opacity="0.85"/>
<path d="M377.20,470.40 L377.57,471.41 L378.06,472.41 L378.57,473.42 L379.10,474.42 L379.62,475.43 L380.13,476.44 L380.61,477.44 L381.06,478.45 L381.48,479.46 L381.87,480.46 L382.21,481.47 L382.50,482.48 L382.74,483.48 L382.93,484.49 L383.05,485.49 L383.10,486.50 L383.05,487.18 L382.93,487.85 L382.74,488.52 L382.50,489.20 L382.21,489.88 L381.87,490.55 L381.48,491.23 L381.06,491.90 L380.61,492.57 L380.13,493.25 L379.62,493.93 L379.10,494.60 L378.57,495.28 L378.06,495.95 L377.57,496.62 L377.20,497.30 L377.20,497.30 L376.83,496.62 L376.34,495.95 L375.83,495.28 L375.30,494.60 L374.78,493.93 L374.27,493.25 L373.79,492.57 L373.34,491.90 L372.92,491.23 L372.53,490.55 L372.19,489.88 L371.90,489.20 L371.66,488.52 L371.47,487.85 L371.35,487.18 L371.30,486.50 L371.35,485.49 L371.47,484.49 L371.66,483.48 L371.90,482.48 L372.19,481.47 L372.53,480.46 L372.92,479.46 L373.34,478.45 L373.79,477.44 L374.27,476.44 L374.78,475.43 L375.30,474.42 L375.83,473.42 L376.34,472.41 L376.83,471.41 L377.20,470.40Z" fill="#36716a" stroke="#303030" stroke-width="0.6" stroke-linejoin="round"/>
<path d="M413.85,485.30 L415.15,485.30 L414.80,467.70 L414.20,467.70Z" fill="#505050" fill-opacity="0.85"/>
<path d="M413.85,502.50 L415.15,502.50 L414.80,510.80 L414.20,510.80Z" fill="#505050" fill-opacity="0.85"/>
<path d="M414.50,483.80 L414.87,484.31 L415.36,484.82 L415.87,485.34 L416.40,485.85 L416.92,486.36 L417.43,486.88 L417.91,487.39 L418.36,487.90 L418.78,488.41 L419.17,488.93 L419.51,489.44 L419.80,489.95 L420.04,490.46 L420.23,490.98 L420.35,491.49 L420.40,492.00 L420.35,492.75 L420.23,493.50 L420.04,494.25 L419.80,495.00 L419.51,495.75 L419.17,496.50 L418.78,497.25 L418.36,498.00 L417.91,498.75 L417.43,499.50 L416.92,500.25 L416.40,501.00 L415.87,501.75 L415.36,502.50 L414.87,503.25 L414.50,504.00 L414.50,504.00 L414.13,503.25 L413.64,502.50 L413.13,501.75 L412.60,501.00 L412.08,500.25 L411.57,499.50 L411.09,498.75 L410.64,498.00 L410.22,497.25 L409.83,496.50 L409.49,495.75 L409.20,495.00 L408.96,494.25 L408.77,493.50 L408.65,492.75 L408.60,492.00 L408.65,491.49 L408.77,490.98 L408.96,490.46 L409.20,489.95 L409.49,489.44 L409.83,488.93 L410.22,488.41 L410.64,487.90 L411.09,487.39 L411.57,486.88 L412.08,486.36 L412.60,485.85 L413.13,485.34 L413.64,484.82 L414.13,484.31 L414.50,483.80Z" fill="#e47364" stroke="#303030" stroke-width="0.6" stroke-linejoin="round"/>
<path d="M426.70,494.80 L428.00,494.80 L427.65,481.20 L427.05,481.20Z" fill="#505050" fill-opacity="0.85"/>
<path d="M426.70,506.50 L428.00,506.50 L427.65,510.80 L427.05,510.80Z" fill="#505050" fill-opacity="0.85"/>
<path d="M427.35,493.30 L427.69,493.75 L428.13,494.20 L428.61,494.65 L429.09,495.10 L429.57,495.55 L430.03,496.00 L430.47,496.45 L430.89,496.90 L431.27,497.35 L431.62,497.80 L431.93,498.25 L432.20,498.70 L432.42,499.15 L432.59,499.60 L432.70,500.05 L432.75,500.50 L432.70,500.97 L432.59,501.44 L432.42,501.91 L432.20,502.38 L431.93,502.84 L431.62,503.31 L431.27,503.78 L430.89,504.25 L430.47,504.72 L430.03,505.19 L429.57,505.66 L429.09,506.12 L428.61,506.59 L428.13,507.06 L427.69,507.53 L427.35,508.00 L427.35,508.00 L427.01,507.53 L426.57,507.06 L426.09,506.59 L425.61,506.12 L425.13,505.66 L424.67,505.19 L424.23,504.72 L423.81,504.25 L423.43,503.78 L423.08,503.31 L422.77,502.84 L422.50,502.38 L422.28,501.91 L422.11,501.44 L422.00,500.97 L421.95,500.50 L422.00,500.05 L422.11,499.60 L422.28,499.15 L422.50,498.70 L422.77,498.25 L423.08,497.80 L423.43,497.35 L423.81,496.90 L424.23,496.45 L424.67,496.00 L425.13,495.55 L425.61,495.10 L426.09,494.65 L426.57,494.20 L427.01,493.75 L427.35,493.30Z" fill="#bcbc2c" stroke="#303030" stroke-width="0.6" stroke-linejoin="round"/>
<path d="M439.55,496.10 L440.85,496.10 L440.50,478.50 L439.90,478.50Z" fill="#505050" fill-opacity="0.85"/>
<path d="M439.55,506.50 L440.85,506.50 L440.50,510.80 L439.90,510.80Z" fill="#505050" fill-opacity="0.85"/>
<path d="M440.20,494.60 L440.54,494.97 L440.98,495.34 L441.46,495.71 L441.94,496.08 L442.42,496.44 L442.88,496.81 L443.32,497.18 L443.74,497.55 L444.12,497.92 L444.47,498.29 L444.78,498.66 L445.05,499.02 L445.27,499.39 L445.44,499.76 L445.55,500.13 L445.60,500.50 L445.55,500.97 L445.44,501.44 L445.27,501.91 L445.05,502.38 L444.78,502.84 L444.47,503.31 L444.12,503.78 L443.74,504.25 L443.32,504.72 L442.88,505.19 L442.42,505.66 L441.94,506.12 L441.46,506.59 L440.98,507.06 L440.54,507.53 L440.20,508.00 L440.20,508.00 L439.86,507.53 L439.42,507.06 L438.94,506.59 L438.46,506.12 L437.98,505.66 L437.52,505.19 L437.08,504.72 L436.66,504.25 L436.28,503.78 L435.93,503.31 L435.62,502.84 L435.35,502.38 L435.13,501.91 L434.96,501.44 L434.85,500.97 L434.80,500.50 L434.85,500.13 L434.96,499.76 L435.13,499.39 L435.35,499.02 L435.62,498.66 L435.93,498.29 L436.28,497.92 L436.66,497.55 L437.08,497.18 L437.52,496.81 L437.98,496.44 L438.46,496.08 L438.94,495.71 L439.42,495.34 L439.86,494.97 L440.20,494.60Z" fill="#6eba8e" stroke="#303030" stroke-width="0.6" stroke-linejoin="round"/>
<path d="M452.40,489.50 L453.70,489.50 L453.35,475.80 L452.75,475.80Z" fill="#505050" fill-opacity="0.85"/>
<path d="M452.40,507.90 L453.70,507.90 L453.35,512.00 L452.75,512.00Z" fill="#505050" fill-opacity="0.85"/>
<path d="M453.05,488.00 L453.39,488.75 L453.83,489.50 L454.31,490.25 L454.79,491.00 L455.27,491.75 L455.73,492.50 L456.17,493.25 L456.59,494.00 L456.97,494.75 L457.32,495.50 L457.63,496.25 L457.90,497.00 L458.12,497.75 L458.29,498.50 L458.40,499.25 L458.45,500.00 L458.40,500.59 L458.29,501.18 L458.12,501.76 L457.90,502.35 L457.63,502.94 L457.32,503.52 L456.97,504.11 L456.59,504.70 L456.17,505.29 L455.73,505.88 L455.27,506.46 L454.79,507.05 L454.31,507.64 L453.83,508.22 L453.39,508.81 L453.05,509.40 L453.05,509.40 L452.71,508.81 L452.27,508.22 L451.79,507.64 L451.31,507.05 L450.83,506.46 L450.37,505.88 L449.93,505.29 L449.51,504.70 L449.13,504.11 L448.78,503.52 L448.47,502.94 L448.20,502.35 L447.98,501.76 L447.81,501.18 L447.70,500.59 L447.65,500.00 L447.70,499.25 L447.81,498.50 L447.98,497.75 L448.20,497.00 L448.47,496.25 L448.78,495.50 L449.13,494.75 L449.51,494.00 L449.93,493.25 L450.37,492.50 L450.83,491.75 L451.31,491.00 L451.79,490.25 L452.27,489.50 L452.71,488.75 L453.05,488.00Z" fill="#72abe6" stroke="#303030" stroke-width="0.6" stroke-linejoin="round"/>
<path d="M465.25,493.50 L466.55,493.50 L466.20,488.00 L465.60,488.00Z" fill="#505050" fill-opacity="0.85"/>
<path d="M465.90,492.00 L466.24,492.53 L466.68,493.06 L467.16,493.59 L467.64,494.12 L468.12,494.66 L468.58,495.19 L469.02,495.72 L469.44,496.25 L469.82,496.78 L470.17,497.31 L470.48,497.84 L470.75,498.38 L470.97,498.91 L471.14,499.44 L471.25,499.97 L471.30,500.50 L471.25,500.97 L471.14,501.44 L470.97,501.91 L470.75,502.38 L470.48,502.84 L470.17,503.31 L469.82,503.78 L469.44,504.25 L469.02,504.72 L468.58,505.19 L468.12,505.66 L467.64,506.12 L467.16,506.59 L466.68,507.06 L466.24,507.53 L465.90,508.00 L465.90,508.00 L465.56,507.53 L465.12,507.06 L464.64,506.59 L464.16,506.12 L463.68,505.66 L463.22,505.19 L462.78,504.72 L462.36,504.25 L461.98,503.78 L461.63,503.31 L461.32,502.84 L461.05,502.38 L460.83,501.91 L460.66,501.44 L460.55,500.97 L460.50,500.50 L460.55,499.97 L460.66,499.44 L460.83,498.91 L461.05,498.38 L461.32,497.84 L461.63,497.31 L461.98,496.78 L462.36,496.25 L462.78,495.72 L463.22,495.19 L463.68,494.66 L464.16,494.12 L464.64,493.59 L465.12,493.06 L465.56,492.53 L465.90,492.00Z" fill="#d83a8c" stroke="#303030" stroke-width="0.6" stroke-linejoin="round"/>
<path d="M478.10,489.50 L479.40,489.50 L479.05,471.70 L478.45,471.70Z" fill="#505050" fill-opacity="0.85"/>
<path d="M478.75,488.00 L479.12,488.83 L479.61,489.66 L480.12,490.49 L480.65,491.32 L481.17,492.16 L481.68,492.99 L482.16,493.82 L482.61,494.65 L483.03,495.48 L483.42,496.31 L483.76,497.14 L484.05,497.98 L484.29,498.81 L484.48,499.64 L484.60,500.47 L484.65,501.30 L484.60,502.06 L484.48,502.82 L484.29,503.59 L484.05,504.35 L483.76,505.11 L483.42,505.88 L483.03,506.64 L482.61,507.40 L482.16,508.16 L481.68,508.93 L481.17,509.69 L480.65,510.45 L480.12,511.21 L479.61,511.98 L479.12,512.74 L478.75,513.50 L478.75,513.50 L478.38,512.74 L477.89,511.98 L477.38,511.21 L476.85,510.45 L476.33,509.69 L475.82,508.93 L475.34,508.16 L474.89,507.40 L474.47,506.64 L474.08,505.88 L473.74,505.11 L473.45,504.35 L473.21,503.59 L473.02,502.82 L472.90,502.06 L472.85,501.30 L472.90,500.47 L473.02,499.64 L473.21,498.81 L473.45,497.98 L473.74,497.14 L474.08,496.31 L474.47,495.48 L474.89,494.65 L475.34,493.82 L475.82,492.99 L476.33,492.16 L476.85,491.32 L477.38,490.49 L477.89,489.66 L478.38,488.83 L478.75,488.00Z" fill="#3a2898" stroke="#303030" stroke-width="0.6" stroke-linejoin="round"/>
<path d="M490.95,494.80 L492.25,494.80 L491.90,481.20 L491.30,481.20Z" fill="#505050" fill-opacity="0.85"/>
<path d="M490.95,502.50 L492.25,502.50 L491.90,508.00 L491.30,508.00Z" fill="#505050" fill-opacity="0.85"/>
<path d="M491.60,493.30 L491.94,493.64 L492.38,493.98 L492.86,494.31 L493.34,494.65 L493.82,494.99 L494.28,495.32 L494.72,495.66 L495.14,496.00 L495.52,496.34 L495.87,496.68 L496.18,497.01 L496.45,497.35 L496.67,497.69 L496.84,498.02 L496.95,498.36 L497.00,498.70 L496.95,499.03 L496.84,499.36 L496.67,499.69 L496.45,500.02 L496.18,500.36 L495.87,500.69 L495.52,501.02 L495.14,501.35 L494.72,501.68 L494.28,502.01 L493.82,502.34 L493.34,502.68 L492.86,503.01 L492.38,503.34 L491.94,503.67 L491.60,504.00 L491.60,504.00 L491.26,503.67 L490.82,503.34 L490.34,503.01 L489.86,502.68 L489.38,502.34 L488.92,502.01 L488.48,501.68 L488.06,501.35 L487.68,501.02 L487.33,500.69 L487.02,500.36 L486.75,500.02 L486.53,499.69 L486.36,499.36 L486.25,499.03 L486.20,498.70 L486.25,498.36 L486.36,498.02 L486.53,497.69 L486.75,497.35 L487.02,497.01 L487.33,496.68 L487.68,496.34 L488.06,496.00 L488.48,495.66 L488.92,495.32 L489.38,494.99 L489.86,494.65 L490.34,494.31 L490.82,493.98 L491.26,493.64 L491.60,493.30Z" fill="#8c7dc8" stroke="#303030" stroke-width="0.6" stroke-linejoin="round"/>
<path d="M503.80,471.90 L505.10,471.90 L504.75,462.30 L504.15,462.30Z" fill="#505050" fill-opacity="0.85"/>
<path d="M503.80,502.50 L505.10,502.50 L504.75,505.00 L504.15,505.00Z" fill="#505050" fill-opacity="0.85"/>
<path d="M504.45,470.40 L504.86,471.32 L505.39,472.25 L505.96,473.17 L506.54,474.10 L507.12,475.02 L507.68,475.95 L508.21,476.88 L508.71,477.80 L509.17,478.72 L509.59,479.65 L509.96,480.57 L510.29,481.50 L510.55,482.43 L510.76,483.35 L510.89,484.27 L510.95,485.20 L510.89,486.38 L510.76,487.55 L510.55,488.72 L510.29,489.90 L509.96,491.07 L509.59,492.25 L509.17,493.43 L508.71,494.60 L508.21,495.77 L507.68,496.95 L507.12,498.12 L506.54,499.30 L505.96,500.48 L505.39,501.65 L504.86,502.82 L504.45,504.00 L504.45,504.00 L504.04,502.82 L503.51,501.65 L502.94,500.48 L502.36,499.30 L501.78,498.12 L501.22,496.95 L500.69,495.77 L500.19,494.60 L499.73,493.43 L499.31,492.25 L498.94,491.07 L498.61,489.90 L498.35,488.72 L498.14,487.55 L498.01,486.38 L497.95,485.20 L498.01,484.27 L498.14,483.35 L498.35,482.43 L498.61,481.50 L498.94,480.57 L499.31,479.65 L499.73,478.72 L500.19,477.80 L500.69,476.88 L501.22,475.95 L501.78,475.02 L502.36,474.10 L502.94,473.17 L503.51,472.25 L504.04,471.32 L504.45,470.40Z" fill="#36716a" stroke="#303030" stroke-width="0.6" stroke-linejoin="round"/>
<path d="M286.95,570.30 L288.25,570.30 L287.90,554.80 L287.30,554.80Z" fill="#505050" fill-opacity="0.85"/>
<path d="M286.95,588.90 L288.25,588.90 L287.90,597.00 L287.30,597.00Z" fill="#505050" fill-opacity="0.85"/>
<path d="M287.60,568.80 L287.94,569.39 L288.38,569.99 L288.86,570.58 L289.34,571.17 L289.82,571.77 L290.28,572.36 L290.72,572.96 L291.14,573.55 L291.52,574.14 L291.87,574.74 L292.18,575.33 L292.45,575.92 L292.67,576.52 L292.84,577.11 L292.95,577.71 L293.00,578.30 L292.95,579.06 L292.84,579.81 L292.67,580.57 L292.45,581.32 L292.18,582.08 L291.87,582.84 L291.52,583.59 L291.14,584.35 L290.72,585.11 L290.28,585.86 L289.82,586.62 L289.34,587.38 L288.86,588.13 L288.38,588.89 L287.94,589.64 L287.60,590.40 L287.60,590.40 L287.26,589.64 L286.82,588.89 L286.34,588.13 L285.86,587.38 L285.38,586.62 L284.92,585.86 L284.48,585.11 L284.06,584.35 L283.68,583.59 L283.33,582.84 L283.02,582.08 L282.75,581.32 L282.53,580.57 L282.36,579.81 L282.25,579.06 L282.20,578.30 L282.25,577.71 L282.36,577.11 L282.53,576.52 L282.75,575.92 L283.02,575.33 L283.33,574.74 L283.68,574.14 L284.06,573.55 L284.48,572.96 L284.92,572.36 L285.38,571.77 L285.86,571.17 L286.34,570.58 L286.82,569.99 L287.26,569.39 L287.60,568.80Z" fill="#e47364" stroke="#303030" stroke-width="0.6" stroke-linejoin="round"/>
<path d="M299.75,566.30 L301.05,566.30 L300.70,556.70 L300.10,556.70Z" fill="#505050" fill-opacity="0.85"/>
<path d="M299.75,590.20 L301.05,590.20 L300.70,595.80 L300.10,595.80Z" fill="#505050" fill-opacity="0.85"/>
<path d="M300.40,564.80 L300.77,565.56 L301.26,566.32 L301.77,567.09 L302.30,567.85 L302.82,568.61 L303.33,569.38 L303.81,570.14 L304.26,570.90 L304.68,571.66 L305.07,572.42 L305.41,573.19 L305.70,573.95 L305.94,574.71 L306.13,575.48 L306.25,576.24 L306.30,577.00 L306.25,577.92 L306.13,578.84 L305.94,579.76 L305.70,580.67 L305.41,581.59 L305.07,582.51 L304.68,583.43 L304.26,584.35 L303.81,585.27 L303.33,586.19 L302.82,587.11 L302.30,588.03 L301.77,588.94 L301.26,589.86 L300.77,590.78 L300.40,591.70 L300.40,591.70 L300.03,590.78 L299.54,589.86 L299.03,588.94 L298.50,588.03 L297.98,587.11 L297.47,586.19 L296.99,585.27 L296.54,584.35 L296.12,583.43 L295.73,582.51 L295.39,581.59 L295.10,580.67 L294.86,579.76 L294.67,578.84 L294.55,577.92 L294.50,577.00 L294.55,576.24 L294.67,575.48 L294.86,574.71 L295.10,573.95 L295.39,573.19 L295.73,572.42 L296.12,571.66 L296.54,570.90 L296.99,570.14 L297.47,569.38 L297.98,568.61 L298.50,567.85 L299.03,567.09 L299.54,566.32 L300.03,565.56 L300.40,564.80Z" fill="#bcbc2c" stroke="#303030" stroke-width="0.6" stroke-linejoin="round"/>
<path d="M312.55,562.30 L313.85,562.30 L313.50,549.50 L312.90,549.50Z" fill="#505050" fill-opacity="0.85"/>
<path d="M312.55,584.90 L313.85,584.90 L313.50,593.00 L312.90,593.00Z" fill="#505050" fill-opacity="0.85"/>
<path d="M313.20,560.80 L313.57,561.47 L314.06,562.14 L314.57,562.81 L315.10,563.47 L315.62,564.14 L316.13,564.81 L316.61,565.48 L317.06,566.15 L317.48,566.82 L317.87,567.49 L318.21,568.16 L318.50,568.83 L318.74,569.49 L318.93,570.16 L319.05,570.83 L319.10,571.50 L319.05,572.43 L318.93,573.36 L318.74,574.29 L318.50,575.23 L318.21,576.16 L317.87,577.09 L317.48,578.02 L317.06,578.95 L316.61,579.88 L316.13,580.81 L315.62,581.74 L315.10,582.67 L314.57,583.61 L314.06,584.54 L313.57,585.47 L313.20,586.40 L313.20,586.40 L312.83,585.47 L312.34,584.54 L311.83,583.61 L311.30,582.67 L310.78,581.74 L310.27,580.81 L309.79,579.88 L309.34,578.95 L308.92,578.02 L308.53,577.09 L308.19,576.16 L307.90,575.23 L307.66,574.29 L307.47,573.36 L307.35,572.43 L307.30,571.50 L307.35,570.83 L307.47,570.16 L307.66,569.49 L307.90,568.83 L308.19,568.16 L308.53,567.49 L308.92,566.82 L309.34,566.15 L309.79,565.48 L310.27,564.81 L310.78,564.14 L311.30,563.47 L311.83,562.81 L312.34,562.14 L312.83,561.47 L313.20,560.80Z" fill="#6eba8e" stroke="#303030" stroke-width="0.6" stroke-linejoin="round"/>
<path d="M325.35,569.00 L326.65,569.00 L326.30,559.40 L325.70,559.40Z" fill="#505050" fill-opacity="0.85"/>
<path d="M325.35,583.50 L326.65,583.50 L326.30,595.80 L325.70,595.80Z" fill="#505050" fill-opacity="0.85"/>
<path d="M326.00,567.50 L326.34,568.06 L326.78,568.61 L327.26,569.17 L327.74,569.73 L328.22,570.28 L328.68,570.84 L329.12,571.39 L329.54,571.95 L329.92,572.51 L330.27,573.06 L330.58,573.62 L330.85,574.17 L331.07,574.73 L331.24,575.29 L331.35,575.84 L331.40,576.40 L331.35,576.94 L331.24,577.48 L331.07,578.01 L330.85,578.55 L330.58,579.09 L330.27,579.62 L329.92,580.16 L329.54,580.70 L329.12,581.24 L328.68,581.77 L328.22,582.31 L327.74,582.85 L327.26,583.39 L326.78,583.92 L326.34,584.46 L326.00,585.00 L326.00,585.00 L325.66,584.46 L325.22,583.92 L324.74,583.39 L324.26,582.85 L323.78,582.31 L323.32,581.77 L322.88,581.24 L322.46,580.70 L322.08,580.16 L321.73,579.62 L321.42,579.09 L321.15,578.55 L320.93,578.01 L320.76,577.48 L320.65,576.94 L320.60,576.40 L320.65,575.84 L320.76,575.29 L320.93,574.73 L321.15,574.17 L321.42,573.62 L321.73,573.06 L322.08,572.51 L322.46,571.95 L322.88,571.39 L323.32,570.84 L323.78,570.28 L324.26,569.73 L324.74,569.17 L325.22,568.61 L325.66,568.06 L326.00,567.50Z" fill="#72abe6" stroke="#303030" stroke-width="0.6" stroke-linejoin="round"/>
<path d="M338.15,559.50 L339.45,559.50 L339.10,546.00 L338.50,546.00Z" fill="#505050" fill-opacity="0.85"/>
<path d="M338.80,558.00 L339.17,558.93 L339.66,559.86 L340.17,560.79 L340.70,561.73 L341.22,562.66 L341.73,563.59 L342.21,564.52 L342.66,565.45 L343.08,566.38 L343.47,567.31 L343.81,568.24 L344.10,569.17 L344.34,570.11 L344.53,571.04 L344.65,571.97 L344.70,572.90 L344.65,574.33 L344.53,575.76 L344.34,577.19 L344.10,578.62 L343.81,580.06 L343.47,581.49 L343.08,582.92 L342.66,584.35 L342.21,585.78 L341.73,587.21 L341.22,588.64 L340.70,590.07 L340.17,591.51 L339.66,592.94 L339.17,594.37 L338.80,595.80 L338.80,595.80 L338.43,594.37 L337.94,592.94 L337.43,591.51 L336.90,590.07 L336.38,588.64 L335.87,587.21 L335.39,585.78 L334.94,584.35 L334.52,582.92 L334.13,581.49 L333.79,580.06 L333.50,578.62 L333.26,577.19 L333.07,575.76 L332.95,574.33 L332.90,572.90 L332.95,571.97 L333.07,571.04 L333.26,570.11 L333.50,569.17 L333.79,568.24 L334.13,567.31 L334.52,566.38 L334.94,565.45 L335.39,564.52 L335.87,563.59 L336.38,562.66 L336.90,561.73 L337.43,560.79 L337.94,559.86 L338.43,558.93 L338.80,558.00Z" fill="#d83a8c" stroke="#303030" stroke-width="0.6" stroke-linejoin="round"/>
<path d="M350.95,581.10 L352.25,581.10 L351.90,568.80 L351.30,568.80Z" fill="#505050" fill-opacity="0.85"/>
<path d="M351.60,579.60 L351.94,580.14 L352.38,580.68 L352.86,581.21 L353.34,581.75 L353.82,582.29 L354.28,582.83 L354.72,583.36 L355.14,583.90 L355.52,584.44 L355.87,584.98 L356.18,585.51 L356.45,586.05 L356.67,586.59 L356.84,587.12 L356.95,587.66 L357.00,588.20 L356.95,589.01 L356.84,589.83 L356.67,590.64 L356.45,591.45 L356.18,592.26 L355.87,593.08 L355.52,593.89 L355.14,594.70 L354.72,595.51 L354.28,596.33 L353.82,597.14 L353.34,597.95 L352.86,598.76 L352.38,599.58 L351.94,600.39 L351.60,601.20 L351.60,601.20 L351.26,600.39 L350.82,599.58 L350.34,598.76 L349.86,597.95 L349.38,597.14 L348.92,596.33 L348.48,595.51 L348.06,594.70 L347.68,593.89 L347.33,593.08 L347.02,592.26 L346.75,591.45 L346.53,590.64 L346.36,589.83 L346.25,589.01 L346.20,588.20 L346.25,587.66 L346.36,587.12 L346.53,586.59 L346.75,586.05 L347.02,585.51 L347.33,584.98 L347.68,584.44 L348.06,583.90 L348.48,583.36 L348.92,582.83 L349.38,582.29 L349.86,581.75 L350.34,581.21 L350.82,580.68 L351.26,580.14 L351.60,579.60Z" fill="#3a2898" stroke="#303030" stroke-width="0.6" stroke-linejoin="round"/>
<path d="M363.75,569.00 L365.05,569.00 L364.70,554.00 L364.10,554.00Z" fill="#505050" fill-opacity="0.85"/>
<path d="M363.75,580.80 L365.05,580.80 L364.70,587.70 L364.10,587.70Z" fill="#505050" fill-opacity="0.85"/>
<path d="M364.40,567.50 L364.74,567.92 L365.18,568.34 L365.66,568.76 L366.14,569.17 L366.62,569.59 L367.08,570.01 L367.52,570.43 L367.94,570.85 L368.32,571.27 L368.67,571.69 L368.98,572.11 L369.25,572.53 L369.47,572.94 L369.64,573.36 L369.75,573.78 L369.80,574.20 L369.75,574.71 L369.64,575.21 L369.47,575.72 L369.25,576.23 L368.98,576.73 L368.67,577.24 L368.32,577.74 L367.94,578.25 L367.52,578.76 L367.08,579.26 L366.62,579.77 L366.14,580.27 L365.66,580.78 L365.18,581.29 L364.74,581.79 L364.40,582.30 L364.40,582.30 L364.06,581.79 L363.62,581.29 L363.14,580.78 L362.66,580.27 L362.18,579.77 L361.72,579.26 L361.28,578.76 L360.86,578.25 L360.48,577.74 L360.13,577.24 L359.82,576.73 L359.55,576.23 L359.33,575.72 L359.16,575.21 L359.05,574.71 L359.00,574.20 L359.05,573.78 L359.16,573.36 L359.33,572.94 L359.55,572.53 L359.82,572.11 L360.13,571.69 L360.48,571.27 L360.86,570.85 L361.28,570.43 L361.72,570.01 L362.18,569.59 L362.66,569.17 L363.14,568.76 L363.62,568.34 L364.06,567.92 L364.40,567.50Z" fill="#8c7dc8" stroke="#303030" stroke-width="0.6" stroke-linejoin="round"/>
<path d="M376.55,560.90 L377.85,560.90 L377.50,539.20 L376.90,539.20Z" fill="#505050" fill-opacity="0.85"/>
<path d="M376.55,584.90 L377.85,584.90 L377.50,594.40 L376.90,594.40Z" fill="#505050" fill-opacity="0.85"/>
<path d="M377.20,559.40 L377.61,560.07 L378.14,560.75 L378.71,561.42 L379.29,562.10 L379.87,562.77 L380.43,563.45 L380.96,564.12 L381.46,564.80 L381.92,565.48 L382.34,566.15 L382.71,566.83 L383.04,567.50 L383.30,568.18 L383.51,568.85 L383.64,569.53 L383.70,570.20 L383.64,571.21 L383.51,572.23 L383.30,573.24 L383.04,574.25 L382.71,575.26 L382.34,576.27 L381.92,577.29 L381.46,578.30 L380.96,579.31 L380.43,580.33 L379.87,581.34 L379.29,582.35 L378.71,583.36 L378.14,584.38 L377.61,585.39 L377.20,586.40 L377.20,586.40 L376.79,585.39 L376.26,584.38 L375.69,583.36 L375.11,582.35 L374.53,581.34 L373.97,580.33 L373.44,579.31 L372.94,578.30 L372.48,577.29 L372.06,576.27 L371.69,575.26 L371.36,574.25 L371.10,573.24 L370.89,572.23 L370.76,571.21 L370.70,570.20 L370.76,569.53 L370.89,568.85 L371.10,568.18 L371.36,567.50 L371.69,566.83 L372.06,566.15 L372.48,565.48 L372.94,564.80 L373.44,564.12 L373.97,563.45 L374.53,562.77 L375.11,562.10 L375.69,561.42 L376.26,560.75 L376.79,560.07 L377.20,559.40Z" fill="#36716a" stroke="#303030" stroke-width="0.6" stroke-linejoin="round"/>
<path d="M413.85,583.80 L415.15,583.80 L414.80,550.00 L414.20,550.00Z" fill="#505050" fill-opacity="0.85"/>
<path d="M414.50,582.30 L414.84,582.72 L415.28,583.14 L415.76,583.56 L416.24,583.97 L416.72,584.39 L417.18,584.81 L417.62,585.23 L418.04,585.65 L418.42,586.07 L418.77,586.49 L419.08,586.91 L419.35,587.33 L419.57,587.74 L419.74,588.16 L419.85,588.58 L419.90,589.00 L419.85,589.42 L419.74,589.85 L419.57,590.27 L419.35,590.70 L419.08,591.12 L418.77,591.55 L418.42,591.98 L418.04,592.40 L417.62,592.82 L417.18,593.25 L416.72,593.67 L416.24,594.10 L415.76,594.52 L415.28,594.95 L414.84,595.38 L414.50,595.80 L414.50,595.80 L414.16,595.38 L413.72,594.95 L413.24,594.52 L412.76,594.10 L412.28,593.67 L411.82,593.25 L411.38,592.82 L410.96,592.40 L410.58,591.98 L410.23,591.55 L409.92,591.12 L409.65,590.70 L409.43,590.27 L409.26,589.85 L409.15,589.42 L409.10,589.00 L409.15,588.58 L409.26,588.16 L409.43,587.74 L409.65,587.33 L409.92,586.91 L410.23,586.49 L410.58,586.07 L410.96,585.65 L411.38,585.23 L411.82,584.81 L412.28,584.39 L412.76,583.97 L413.24,583.56 L413.72,583.14 L414.16,582.72 L414.50,582.30Z" fill="#e47364" stroke="#303030" stroke-width="0.6" stroke-linejoin="round"/>
<path d="M426.70,533.00 L428.00,533.00 L427.65,529.80 L427.05,529.80Z" fill="#505050" fill-opacity="0.85"/>
<path d="M426.70,575.50 L428.00,575.50 L427.65,584.50 L427.05,584.50Z" fill="#505050" fill-opacity="0.85"/>
<path d="M427.65,531.50 L427.70,531.61 L427.75,531.76 L427.81,531.92 L427.87,532.11 L427.95,532.31 L428.04,532.53 L428.14,532.76 L428.26,533.00 L428.40,533.25 L428.55,533.50 L428.73,533.76 L428.95,534.03 L429.18,534.31 L429.44,534.60 L429.70,534.91 L429.97,535.22 L430.23,535.53 L430.49,535.85 L430.73,536.18 L430.95,536.50 L431.15,536.82 L431.35,537.13 L431.55,537.43 L431.73,537.74 L431.91,538.06 L432.08,538.40 L432.24,538.75 L432.39,539.13 L432.53,539.55 L432.65,540.00 L432.76,540.50 L432.86,541.04 L432.94,541.62 L433.02,542.22 L433.08,542.84 L433.13,543.48 L433.18,544.12 L433.21,544.76 L433.24,545.39 L433.25,546.00 L433.25,546.59 L433.25,547.17 L433.23,547.74 L433.21,548.30 L433.17,548.88 L433.12,549.46 L433.07,550.05 L433.00,550.67 L432.93,551.32 L432.85,552.00 L432.76,552.72 L432.65,553.49 L432.54,554.28 L432.41,555.10 L432.28,555.94 L432.13,556.78 L431.99,557.61 L431.84,558.43 L431.70,559.23 L431.55,560.00 L431.40,560.75 L431.25,561.48 L431.09,562.21 L430.92,562.92 L430.76,563.62 L430.59,564.32 L430.42,565.00 L430.26,565.68 L430.10,566.35 L429.95,567.00 L429.80,567.65 L429.65,568.30 L429.50,568.94 L429.35,569.57 L429.20,570.19 L429.06,570.79 L428.92,571.38 L428.79,571.94 L428.66,572.49 L428.55,573.00 L428.44,573.50 L428.34,573.99 L428.24,574.47 L428.15,574.94 L428.06,575.38 L427.98,575.78 L427.91,576.16 L427.85,576.49 L427.79,576.77 L427.75,577.00 L426.95,577.00 L426.91,576.77 L426.85,576.49 L426.79,576.16 L426.72,575.78 L426.64,575.38 L426.55,574.94 L426.46,574.47 L426.36,573.99 L426.26,573.50 L426.15,573.00 L426.04,572.49 L425.91,571.94 L425.78,571.38 L425.64,570.79 L425.50,570.19 L425.35,569.57 L425.20,568.94 L425.05,568.30 L424.90,567.65 L424.75,567.00 L424.60,566.35 L424.44,565.68 L424.28,565.00 L424.11,564.32 L423.94,563.62 L423.78,562.92 L423.61,562.21 L423.45,561.48 L423.30,560.75 L423.15,560.00 L423.00,559.23 L422.86,558.43 L422.71,557.61 L422.57,556.78 L422.43,555.94 L422.29,555.10 L422.16,554.28 L422.05,553.49 L421.94,552.72 L421.85,552.00 L421.77,551.32 L421.70,550.67 L421.63,550.05 L421.58,549.46 L421.53,548.88 L421.49,548.30 L421.47,547.74 L421.45,547.17 L421.45,546.59 L421.45,546.00 L421.46,545.39 L421.49,544.76 L421.52,544.12 L421.57,543.48 L421.62,542.84 L421.68,542.22 L421.76,541.62 L421.84,541.04 L421.94,540.50 L422.05,540.00 L422.17,539.55 L422.31,539.13 L422.46,538.75 L422.62,538.40 L422.79,538.06 L422.97,537.74 L423.15,537.43 L423.35,537.13 L423.55,536.82 L423.75,536.50 L423.97,536.18 L424.21,535.85 L424.47,535.53 L424.73,535.22 L425.00,534.91 L425.26,534.60 L425.52,534.31 L425.75,534.03 L425.97,533.76 L426.15,533.50 L426.30,533.25 L426.44,533.00 L426.56,532.76 L426.66,532.53 L426.75,532.31 L426.83,532.11 L426.89,531.92 L426.95,531.76 L427.00,531.61 L427.05,531.50Z" fill="#bcbc2c" stroke="#303030" stroke-width="0.6" stroke-linejoin="round"/>
<path d="M439.55,531.50 L440.85,531.50 L440.50,528.50 L439.90,528.50Z" fill="#505050" fill-opacity="0.85"/>
<path d="M439.55,572.50 L440.85,572.50 L440.50,581.00 L439.90,581.00Z" fill="#505050" fill-opacity="0.85"/>
<path d="M440.50,530.00 L440.55,530.17 L440.60,530.39 L440.67,530.65 L440.74,530.94 L440.82,531.25 L440.92,531.58 L441.02,531.93 L441.14,532.29 L441.26,532.65 L441.40,533.00 L441.56,533.35 L441.74,533.70 L441.93,534.06 L442.14,534.43 L442.36,534.81 L442.58,535.21 L442.79,535.62 L443.01,536.06 L443.21,536.51 L443.40,537.00 L443.58,537.51 L443.75,538.04 L443.93,538.59 L444.09,539.16 L444.26,539.75 L444.42,540.36 L444.57,540.99 L444.72,541.64 L444.86,542.31 L445.00,543.00 L445.14,543.72 L445.28,544.49 L445.42,545.28 L445.56,546.10 L445.69,546.94 L445.81,547.78 L445.92,548.61 L446.00,549.43 L446.07,550.23 L446.10,551.00 L446.11,551.74 L446.09,552.46 L446.06,553.17 L446.01,553.87 L445.94,554.56 L445.85,555.25 L445.75,555.93 L445.65,556.62 L445.53,557.30 L445.40,558.00 L445.26,558.71 L445.09,559.43 L444.91,560.16 L444.71,560.90 L444.50,561.62 L444.29,562.34 L444.08,563.05 L443.87,563.73 L443.68,564.38 L443.50,565.00 L443.33,565.59 L443.17,566.14 L443.02,566.68 L442.87,567.19 L442.72,567.69 L442.57,568.17 L442.43,568.64 L442.29,569.10 L442.14,569.55 L442.00,570.00 L441.85,570.46 L441.69,570.93 L441.53,571.40 L441.37,571.86 L441.21,572.31 L441.05,572.74 L440.91,573.13 L440.79,573.47 L440.68,573.77 L440.60,574.00 L439.80,574.00 L439.72,573.77 L439.61,573.47 L439.49,573.13 L439.35,572.74 L439.19,572.31 L439.03,571.86 L438.87,571.40 L438.71,570.93 L438.55,570.46 L438.40,570.00 L438.26,569.55 L438.11,569.10 L437.97,568.64 L437.83,568.17 L437.68,567.69 L437.53,567.19 L437.38,566.68 L437.23,566.14 L437.07,565.59 L436.90,565.00 L436.72,564.38 L436.53,563.73 L436.32,563.05 L436.11,562.34 L435.90,561.62 L435.69,560.90 L435.49,560.16 L435.31,559.43 L435.14,558.71 L435.00,558.00 L434.87,557.30 L434.75,556.62 L434.65,555.93 L434.55,555.25 L434.46,554.56 L434.39,553.87 L434.34,553.17 L434.31,552.46 L434.29,551.74 L434.30,551.00 L434.33,550.23 L434.40,549.43 L434.48,548.61 L434.59,547.78 L434.71,546.94 L434.84,546.10 L434.98,545.28 L435.12,544.49 L435.26,543.72 L435.40,543.00 L435.54,542.31 L435.68,541.64 L435.83,540.99 L435.98,540.36 L436.14,539.75 L436.31,539.16 L436.47,538.59 L436.65,538.04 L436.82,537.51 L437.00,537.00 L437.19,536.51 L437.39,536.06 L437.61,535.62 L437.82,535.21 L438.04,534.81 L438.26,534.43 L438.47,534.06 L438.66,533.70 L438.84,533.35 L439.00,533.00 L439.14,532.65 L439.26,532.29 L439.38,531.93 L439.48,531.58 L439.57,531.25 L439.66,530.94 L439.73,530.65 L439.80,530.39 L439.85,530.17 L439.90,530.00Z" fill="#6eba8e" stroke="#303030" stroke-width="0.6" stroke-linejoin="round"/>
<path d="M452.40,562.30 L453.70,562.30 L453.35,554.00 L452.75,554.00Z" fill="#505050" fill-opacity="0.85"/>
<path d="M452.40,584.90 L453.70,584.90 L453.35,593.00 L452.75,593.00Z" fill="#505050" fill-opacity="0.85"/>
<path d="M453.05,560.80 L453.35,561.81 L453.75,562.82 L454.17,563.84 L454.60,564.85 L455.02,565.86 L455.43,566.88 L455.82,567.89 L456.19,568.90 L456.54,569.91 L456.85,570.92 L457.12,571.94 L457.36,572.95 L457.56,573.96 L457.71,574.98 L457.81,575.99 L457.85,577.00 L457.81,577.59 L457.71,578.17 L457.56,578.76 L457.36,579.35 L457.12,579.94 L456.85,580.52 L456.54,581.11 L456.19,581.70 L455.82,582.29 L455.43,582.88 L455.02,583.46 L454.60,584.05 L454.17,584.64 L453.75,585.23 L453.35,585.81 L453.05,586.40 L453.05,586.40 L452.75,585.81 L452.35,585.23 L451.93,584.64 L451.50,584.05 L451.08,583.46 L450.67,582.88 L450.28,582.29 L449.91,581.70 L449.56,581.11 L449.25,580.52 L448.98,579.94 L448.74,579.35 L448.54,578.76 L448.39,578.17 L448.29,577.59 L448.25,577.00 L448.29,575.99 L448.39,574.98 L448.54,573.96 L448.74,572.95 L448.98,571.94 L449.25,570.92 L449.56,569.91 L449.91,568.90 L450.28,567.89 L450.67,566.88 L451.08,565.86 L451.50,564.85 L451.93,563.84 L452.35,562.82 L452.75,561.81 L453.05,560.80Z" fill="#72abe6" stroke="#303030" stroke-width="0.6" stroke-linejoin="round"/>
<path d="M465.25,588.90 L466.55,588.90 L466.20,595.00 L465.60,595.00Z" fill="#505050" fill-opacity="0.85"/>
<path d="M466.20,533.30 L466.33,533.70 L466.49,534.18 L466.68,534.73 L466.90,535.35 L467.13,536.05 L467.38,536.82 L467.63,537.66 L467.89,538.57 L468.15,539.55 L468.40,540.60 L468.66,541.77 L468.94,543.10 L469.24,544.54 L469.54,546.06 L469.84,547.63 L470.14,549.22 L470.42,550.78 L470.68,552.29 L470.91,553.71 L471.10,555.00 L471.26,556.18 L471.40,557.28 L471.52,558.32 L471.62,559.32 L471.71,560.27 L471.77,561.21 L471.81,562.14 L471.83,563.07 L471.82,564.02 L471.80,565.00 L471.75,566.00 L471.67,567.00 L471.57,568.00 L471.44,569.00 L471.30,570.00 L471.14,571.00 L470.97,572.00 L470.78,573.00 L470.59,574.00 L470.40,575.00 L470.19,576.02 L469.96,577.07 L469.71,578.14 L469.44,579.22 L469.17,580.29 L468.90,581.33 L468.63,582.34 L468.37,583.29 L468.12,584.19 L467.90,585.00 L467.69,585.75 L467.48,586.46 L467.28,587.13 L467.08,587.75 L466.89,588.33 L466.72,588.85 L466.56,589.32 L466.42,589.74 L466.30,590.10 L466.20,590.40 L465.60,590.40 L465.50,590.10 L465.38,589.74 L465.24,589.32 L465.08,588.85 L464.91,588.33 L464.72,587.75 L464.52,587.13 L464.32,586.46 L464.11,585.75 L463.90,585.00 L463.68,584.19 L463.43,583.29 L463.17,582.34 L462.90,581.33 L462.63,580.29 L462.36,579.22 L462.09,578.14 L461.84,577.07 L461.61,576.02 L461.40,575.00 L461.21,574.00 L461.02,573.00 L460.83,572.00 L460.66,571.00 L460.50,570.00 L460.36,569.00 L460.23,568.00 L460.13,567.00 L460.05,566.00 L460.00,565.00 L459.98,564.02 L459.97,563.07 L459.99,562.14 L460.03,561.21 L460.09,560.27 L460.18,559.32 L460.28,558.32 L460.40,557.28 L460.54,556.18 L460.70,555.00 L460.89,553.71 L461.12,552.29 L461.38,550.78 L461.66,549.22 L461.96,547.63 L462.26,546.06 L462.56,544.54 L462.86,543.10 L463.14,541.77 L463.40,540.60 L463.65,539.55 L463.91,538.57 L464.17,537.66 L464.42,536.82 L464.67,536.05 L464.90,535.35 L465.12,534.73 L465.31,534.18 L465.47,533.70 L465.60,533.30Z" fill="#d83a8c" stroke="#303030" stroke-width="0.6" stroke-linejoin="round"/>
<path d="M478.10,577.10 L479.40,577.10 L479.05,573.00 L478.45,573.00Z" fill="#505050" fill-opacity="0.85"/>
<path d="M478.75,575.60 L479.09,576.44 L479.53,577.27 L480.01,578.11 L480.49,578.95 L480.97,579.79 L481.43,580.62 L481.87,581.46 L482.29,582.30 L482.67,583.14 L483.02,583.98 L483.33,584.81 L483.60,585.65 L483.82,586.49 L483.99,587.33 L484.10,588.16 L484.15,589.00 L484.10,589.50 L483.99,590.00 L483.82,590.50 L483.60,591.00 L483.33,591.50 L483.02,592.00 L482.67,592.50 L482.29,593.00 L481.87,593.50 L481.43,594.00 L480.97,594.50 L480.49,595.00 L480.01,595.50 L479.53,596.00 L479.09,596.50 L478.75,597.00 L478.75,597.00 L478.41,596.50 L477.97,596.00 L477.49,595.50 L477.01,595.00 L476.53,594.50 L476.07,594.00 L475.63,593.50 L475.21,593.00 L474.83,592.50 L474.48,592.00 L474.17,591.50 L473.90,591.00 L473.68,590.50 L473.51,590.00 L473.40,589.50 L473.35,589.00 L473.40,588.16 L473.51,587.33 L473.68,586.49 L473.90,585.65 L474.17,584.81 L474.48,583.98 L474.83,583.14 L475.21,582.30 L475.63,581.46 L476.07,580.62 L476.53,579.79 L477.01,578.95 L477.49,578.11 L477.97,577.27 L478.41,576.44 L478.75,575.60Z" fill="#3a2898" stroke="#303030" stroke-width="0.6" stroke-linejoin="round"/>
<path d="M490.95,548.80 L492.25,548.80 L491.90,540.60 L491.30,540.60Z" fill="#505050" fill-opacity="0.85"/>
<path d="M490.95,564.70 L492.25,564.70 L491.90,573.00 L491.30,573.00Z" fill="#505050" fill-opacity="0.85"/>
<path d="M491.60,547.30 L491.94,547.89 L492.38,548.47 L492.86,549.06 L493.34,549.65 L493.82,550.24 L494.28,550.83 L494.72,551.41 L495.14,552.00 L495.52,552.59 L495.87,553.17 L496.18,553.76 L496.45,554.35 L496.67,554.94 L496.84,555.53 L496.95,556.11 L497.00,556.70 L496.95,557.29 L496.84,557.89 L496.67,558.48 L496.45,559.08 L496.18,559.67 L495.87,560.26 L495.52,560.86 L495.14,561.45 L494.72,562.04 L494.28,562.64 L493.82,563.23 L493.34,563.83 L492.86,564.42 L492.38,565.01 L491.94,565.61 L491.60,566.20 L491.60,566.20 L491.26,565.61 L490.82,565.01 L490.34,564.42 L489.86,563.83 L489.38,563.23 L488.92,562.64 L488.48,562.04 L488.06,561.45 L487.68,560.86 L487.33,560.26 L487.02,559.67 L486.75,559.08 L486.53,558.48 L486.36,557.89 L486.25,557.29 L486.20,556.70 L486.25,556.11 L486.36,555.53 L486.53,554.94 L486.75,554.35 L487.02,553.76 L487.33,553.17 L487.68,552.59 L488.06,552.00 L488.48,551.41 L488.92,550.83 L489.38,550.24 L489.86,549.65 L490.34,549.06 L490.82,548.47 L491.26,547.89 L491.60,547.30Z" fill="#8c7dc8" stroke="#303030" stroke-width="0.6" stroke-linejoin="round"/>
<path d="M504.75,550.00 L504.88,550.21 L505.03,550.44 L505.21,550.69 L505.41,550.99 L505.64,551.32 L505.88,551.72 L506.13,552.17 L506.40,552.70 L506.67,553.31 L506.95,554.00 L507.27,554.81 L507.65,555.73 L508.06,556.76 L508.50,557.86 L508.94,559.01 L509.35,560.20 L509.72,561.39 L510.02,562.57 L510.24,563.71 L510.35,564.80 L510.34,565.86 L510.23,566.92 L510.04,568.00 L509.79,569.06 L509.49,570.12 L509.16,571.16 L508.82,572.17 L508.50,573.16 L508.20,574.10 L507.95,575.00 L507.73,575.81 L507.51,576.50 L507.30,577.12 L507.08,577.70 L506.88,578.27 L506.67,578.88 L506.48,579.55 L506.29,580.32 L506.12,581.22 L505.95,582.30 L505.79,583.63 L505.64,585.23 L505.49,587.02 L505.35,588.92 L505.22,590.86 L505.11,592.76 L505.00,594.55 L504.90,596.15 L504.82,597.50 L504.75,598.50 L504.15,598.50 L504.08,597.50 L504.00,596.15 L503.90,594.55 L503.79,592.76 L503.68,590.86 L503.55,588.92 L503.41,587.02 L503.26,585.23 L503.11,583.63 L502.95,582.30 L502.78,581.22 L502.61,580.32 L502.42,579.55 L502.23,578.88 L502.02,578.27 L501.82,577.70 L501.60,577.12 L501.39,576.50 L501.17,575.81 L500.95,575.00 L500.70,574.10 L500.40,573.16 L500.08,572.17 L499.74,571.16 L499.41,570.12 L499.11,569.06 L498.86,568.00 L498.67,566.92 L498.56,565.86 L498.55,564.80 L498.66,563.71 L498.88,562.57 L499.18,561.39 L499.55,560.20 L499.96,559.01 L500.40,557.86 L500.84,556.76 L501.25,555.73 L501.63,554.81 L501.95,554.00 L502.23,553.31 L502.50,552.70 L502.77,552.17 L503.02,551.72 L503.26,551.32 L503.49,550.99 L503.69,550.69 L503.87,550.44 L504.02,550.21 L504.15,550.00Z" fill="#36716a" stroke="#303030" stroke-width="0.6" stroke-linejoin="round"/>
<text x="0" y="0" font-size="6.75" text-anchor="end" fill="#111" stroke="#111" stroke-width="0.18" transform="translate(290.90,614.30) rotate(-45)">MLL-EDC4</text>
<text x="0" y="0" font-size="6.75" text-anchor="end" fill="#111" stroke="#111" stroke-width="0.18" transform="translate(303.70,614.30) rotate(-45)">MLL-MLLT3 #1</text>
<text x="0" y="0" font-size="6.75" text-anchor="end" fill="#111" stroke="#111" stroke-width="0.18" transform="translate(316.50,614.30) rotate(-45)">MLL-MLLT3 #2 c1</text>
<text x="0" y="0" font-size="6.75" text-anchor="end" fill="#111" stroke="#111" stroke-width="0.18" transform="translate(329.30,614.30) rotate(-45)">MLL-MLLT3 #2 <tspan font-style="italic">c2</tspan></text>
<text x="0" y="0" font-size="6.75" text-anchor="end" fill="#111" stroke="#111" stroke-width="0.18" transform="translate(342.10,614.30) rotate(-45)">MLL-MLLT3 #3 c1</text>
<text x="0" y="0" font-size="6.75" text-anchor="end" fill="#111" stroke="#111" stroke-width="0.18" transform="translate(354.90,614.30) rotate(-45)">MLL-MLLT3 #3 <tspan font-style="italic">c2</tspan></text>
<text x="0" y="0" font-size="6.75" text-anchor="end" fill="#111" stroke="#111" stroke-width="0.18" transform="translate(367.70,614.30) rotate(-45)">MLL-ELL c1</text>
<text x="0" y="0" font-size="6.75" text-anchor="end" fill="#111" stroke="#111" stroke-width="0.18" transform="translate(380.50,614.30) rotate(-45)">MLL-ELL <tspan font-style="italic">c2</tspan></text>
<text x="0" y="0" font-size="6.75" text-anchor="end" fill="#111" stroke="#111" stroke-width="0.18" transform="translate(417.80,614.30) rotate(-45)">MLL-EDC4</text>
<text x="0" y="0" font-size="6.75" text-anchor="end" fill="#111" stroke="#111" stroke-width="0.18" transform="translate(430.65,614.30) rotate(-45)">MLL-MLLT3 #1</text>
<text x="0" y="0" font-size="6.75" text-anchor="end" fill="#111" stroke="#111" stroke-width="0.18" transform="translate(443.50,614.30) rotate(-45)">MLL-MLLT3 #2 c1</text>
<text x="0" y="0" font-size="6.75" text-anchor="end" fill="#111" stroke="#111" stroke-width="0.18" transform="translate(456.35,614.30) rotate(-45)">MLL-MLLT3 #2 <tspan font-style="italic">c2</tspan></text>
<text x="0" y="0" font-size="6.75" text-anchor="end" fill="#111" stroke="#111" stroke-width="0.18" transform="translate(469.20,614.30) rotate(-45)">MLL-MLLT3 #3 c1</text>
<text x="0" y="0" font-size="6.75" text-anchor="end" fill="#111" stroke="#111" stroke-width="0.18" transform="translate(482.05,614.30) rotate(-45)">MLL-MLLT3 #3 <tspan font-style="italic">c2</tspan></text>
<text x="0" y="0" font-size="6.75" text-anchor="end" fill="#111" stroke="#111" stroke-width="0.18" transform="translate(494.90,614.30) rotate(-45)">MLL-ELL c1</text>
<text x="0" y="0" font-size="6.75" text-anchor="end" fill="#111" stroke="#111" stroke-width="0.18" transform="translate(507.75,614.30) rotate(-45)">MLL-ELL <tspan font-style="italic">c2</tspan></text>
<rect x="0" y="0" width="1.2" height="663" fill="#2a2a2a"/>
<rect x="0" y="0" width="520" height="1.1" fill="#3a3a3a"/>
<rect x="518.9" y="0" width="1.1" height="663" fill="#2a2a2a"/>
<rect x="0" y="661.5" width="520" height="1.5" fill="#2a2a2a"/>
</svg>
</body></html>
